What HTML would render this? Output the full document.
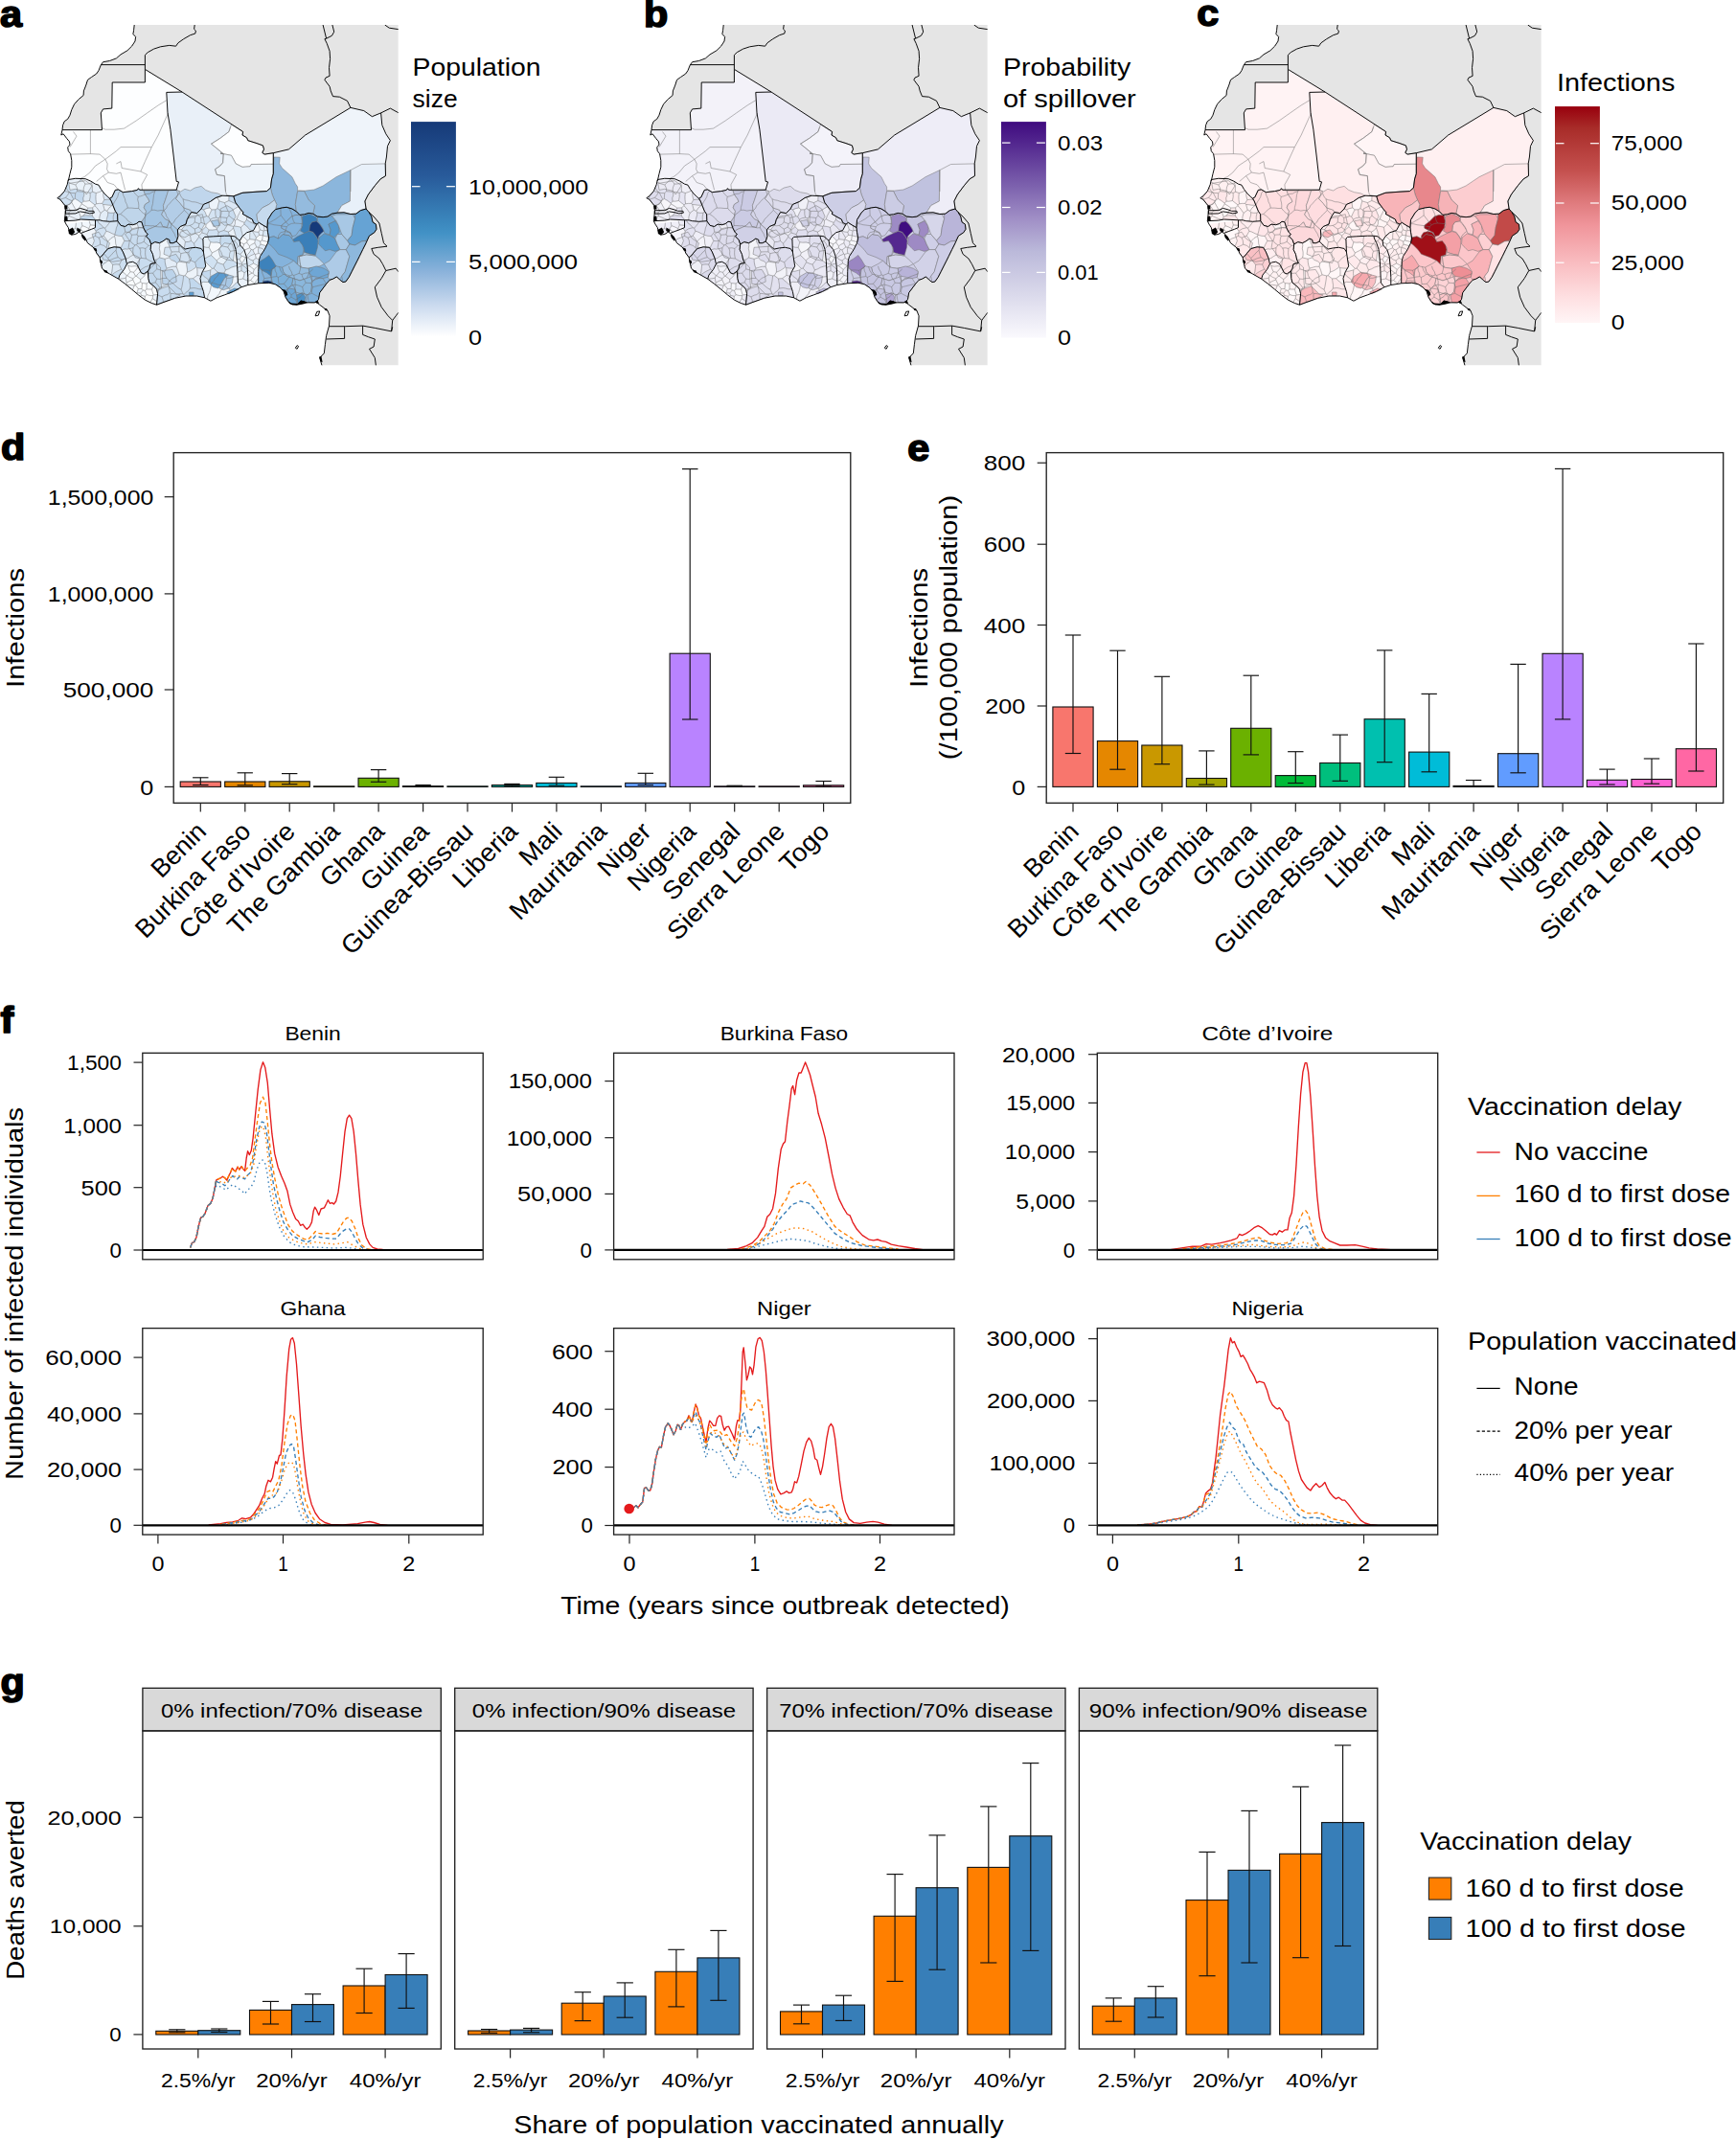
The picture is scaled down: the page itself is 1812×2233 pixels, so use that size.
<!DOCTYPE html>
<html lang="en"><head><meta charset="utf-8"><title>Figure</title>
<style>html,body{margin:0;padding:0;background:#fff}body{width:1812px;height:2233px;overflow:hidden}svg text{font-family:"Liberation Sans",sans-serif}</style>
</head><body>
<svg width="1812" height="2233" viewBox="0 0 1812 2233" font-family="&quot;Liberation Sans&quot;, sans-serif" style="display:block">
<rect width="1812" height="2233" fill="#fff"/>
<defs><clipPath id="mc"><rect x="40" y="26" width="375.8" height="355.6"/></clipPath>
<g id="mapl" fill="none" stroke-linejoin="round">
<g stroke="#707070" stroke-width="0.5">
<path d="M84.4 186.5 84.3 187.7M70.8 189.9 74.4 191.7 78.9 193.0M78.9 193.0 81.4 190.3 84.3 187.7M96.3 190.1 95.6 191.0M95.6 191.0 92.0 192.0 88.9 192.1M84.3 187.7 87.1 189.3 88.9 192.1M70.0 214.8 72.1 212.9 74.9 211.4M70.0 214.8 72.3 217.8 73.5 220.1M74.9 211.4 76.7 214.8 79.0 218.9M73.5 220.1 79.0 218.9M72.0 222.0 73.5 220.1M68.2 221.5 72.0 222.0M67.7 214.3 70.0 214.8M62.7 208.3 68.4 206.4M74.9 211.4 75.3 209.7M75.3 209.7 72.0 208.4 68.4 206.4M68.9 195.8 72.1 200.8M72.1 200.8 70.8 203.4 68.4 206.4M95.6 191.0 96.4 194.3 96.3 197.8 96.7 200.3M106.7 199.2 103.2 200.6 100.3 201.5M100.3 201.5 96.7 200.3M107.8 200.7 107.8 204.3 108.8 208.6M115.4 208.5 112.6 208.2 108.8 208.6M105.0 222.5 109.2 219.2M105.0 222.5 103.3 220.0 101.3 217.1 98.8 214.7M109.2 219.2 107.6 213.5M100.6 212.8 99.1 213.9M100.6 212.8 103.4 212.4 106.7 212.4M106.7 212.4 107.6 213.5M98.8 214.7 99.1 213.9M94.1 201.4 96.7 200.3M93.4 209.5 94.2 205.5 94.1 201.4M93.4 209.5 96.8 212.2 99.1 213.9M100.3 201.5 99.9 205.3 100.0 208.5 100.6 212.8M108.8 208.6 106.7 212.4M82.9 229.3 78.8 228.4 76.0 227.1 72.1 225.4M72.1 225.4 70.0 228.2 68.3 230.6M72.0 222.0 72.1 225.4M79.0 218.9 80.9 219.4M83.2 229.2 84.1 226.4M84.1 226.4 82.9 222.7 80.9 219.4M78.3 207.5 78.7 201.6M78.3 207.5 81.9 209.5 85.3 212.2M87.0 210.1 85.3 212.2M87.0 210.1 86.7 206.7 87.8 204.0 87.6 200.8M87.6 200.8 87.0 200.3M87.0 200.3 84.4 200.0 80.7 199.7M80.7 199.7 78.7 201.6M75.3 209.7 78.3 207.5M72.1 200.8 75.2 201.5 78.7 201.6M85.3 212.9 83.5 215.6 80.9 219.4M85.3 212.9 85.3 212.2M94.1 201.4 91.0 200.6 87.6 200.8M93.4 209.5 89.7 210.2 87.0 210.1M88.9 192.1 87.4 195.9 87.0 200.3M78.9 193.0 80.4 196.3 80.7 199.7M111.8 220.3 112.7 221.8M111.8 220.3 114.0 216.9 117.2 214.3M112.7 221.8 115.6 222.3 119.1 222.2M119.1 222.2 120.4 220.5M117.8 214.1 117.2 214.3M109.2 219.2 111.8 220.3M103.8 229.8 103.9 226.6 105.0 222.5M111.0 231.0 111.4 228.5 112.6 224.6 112.7 221.8M107.6 213.5 110.5 213.7 113.5 214.2 117.2 214.3M118.3 231.0 118.2 226.0 119.1 222.2M96.2 225.0 97.0 220.7 96.6 216.9M96.2 225.0 93.0 225.1 89.4 224.8 86.4 225.5M86.4 225.5 88.7 223.2 90.5 219.4 91.8 217.1M96.6 216.9 91.8 217.1M100.2 229.8 97.8 227.5 96.2 225.0M98.8 214.7 96.6 216.9M84.1 226.4 86.4 225.5M85.3 212.9 89.1 215.1 91.8 217.1M72.3 241.6 75.4 240.2 78.4 238.7M78.4 238.7 79.1 235.8 79.4 232.7M93.2 230.7 94.3 234.9M99.5 235.3 94.3 234.9M78.4 238.7 81.5 239.7M82.0 242.4 81.5 239.7M92.8 238.6 92.9 240.3M92.8 238.6 89.1 236.8 85.9 235.7M87.5 242.3 83.9 238.9M85.9 235.7 83.9 238.9M94.3 234.9 92.8 238.6M85.2 231.8 85.9 235.7M81.5 239.7 83.9 238.9M99.5 246.4 103.1 248.2M103.1 248.2 104.3 251.2 104.7 255.2M90.0 250.7 92.9 249.0 96.4 247.8 99.5 246.4M97.2 258.3 100.9 257.1 104.7 255.2M108.2 237.7 103.5 238.9 100.1 241.2M108.2 237.7 105.5 234.6 103.1 233.0 101.4 229.8M100.1 241.2 97.9 238.3M99.5 246.4 100.1 241.2M108.2 246.2 103.1 248.2M108.2 246.2 110.9 241.3M108.2 237.7 109.6 238.2M109.6 238.2 110.9 241.3M104.7 255.2 108.4 256.4 111.2 258.6M108.2 246.2 110.4 248.9 112.5 252.1M111.2 258.6 111.7 255.2 112.5 252.1M119.8 244.8 117.0 243.8 113.7 242.1 110.9 241.3M120.0 245.2 119.8 244.8M120.0 245.2 119.5 246.5M119.5 246.5 115.8 248.8 112.5 252.1M162.2 274.3 160.4 274.0M160.4 274.0 157.8 275.5M157.1 275.9 154.4 277.8 151.5 278.7 148.5 280.6 146.1 282.4M160.4 274.0 156.5 272.3 152.4 270.0M142.4 275.4 144.4 272.9 146.7 269.6M146.7 269.6 147.6 269.4M152.4 270.0 147.6 269.4M146.7 269.6 143.1 267.7 139.2 266.0M139.2 266.0 136.4 267.6 134.2 269.1 131.4 270.7M111.2 258.6 112.1 260.3M119.5 246.5 120.5 250.3 120.7 254.2 121.8 258.0M119.8 244.8 120.9 240.9 121.4 237.9 122.7 235.1 123.1 231.1M109.6 238.2 112.2 235.2 115.1 231.2M142.9 233.0 144.5 237.6M135.0 234.3 137.8 238.9M144.5 237.6 141.5 237.9 137.8 238.9M149.8 237.9 144.6 237.6M144.5 237.6 144.6 237.6M153.9 244.1 151.8 246.0M144.6 237.6 143.8 240.8 143.0 244.9M151.8 246.0 148.4 246.4 144.1 246.3M143.0 244.9 144.1 246.3M150.2 252.3 147.1 253.8 143.2 254.5M150.2 252.3 152.8 254.6 155.0 256.4M155.0 256.4 152.0 259.5M152.0 259.5 148.9 258.8 145.8 259.0M145.8 259.0 142.2 255.6M142.2 255.6 143.2 254.5M151.8 246.0 151.1 248.6 150.2 252.3M144.1 246.3 143.2 250.7 143.2 254.5M157.6 256.2 155.0 256.4M152.4 270.0 151.7 266.0 151.6 263.4 152.0 259.5M147.6 269.4 146.6 265.4 146.8 262.0 145.8 259.0M137.8 238.9 135.6 242.7M143.0 244.9 137.4 245.2M135.6 242.7 137.4 245.2M129.1 236.1 130.3 239.3 130.7 242.1M135.6 242.7 130.7 242.1M120.0 245.2 124.0 246.3 127.3 246.4M130.7 242.1 127.3 246.4M136.0 251.3 133.0 251.7 129.8 251.4M136.0 251.3 137.9 253.9 140.9 255.9M139.0 258.7 136.0 259.5 132.5 260.1 130.5 259.8 127.0 260.9M139.0 258.7 140.9 255.9M126.0 259.2 127.7 255.4 129.8 251.4M137.4 245.2 137.1 247.9 136.0 251.3M127.3 246.4 129.8 251.4M142.2 255.6 140.9 255.9M139.2 266.0 138.7 262.1 139.0 258.7M123.2 268.6 122.0 265.5 121.1 261.2M123.2 268.6 119.8 269.5 116.7 270.8 114.0 271.7M121.1 261.2 118.1 263.8 115.9 266.5 112.8 269.4M112.8 269.4 113.4 271.4M114.0 271.7 113.4 271.4M121.8 258.0 121.1 261.2M131.2 269.8 127.2 271.2M127.2 271.2 123.2 268.6M108.4 264.5 110.7 267.5 112.8 269.4M106.0 278.1 108.0 275.3 110.6 273.9 113.4 271.4M124.6 276.1 126.6 281.2M124.6 276.1 121.2 275.9 117.6 276.3M126.6 281.2 123.0 282.8 119.8 284.6 116.5 287.1M117.6 276.3 117.3 280.2 116.9 283.5 115.8 286.7M127.2 271.2 124.6 276.1M128.7 282.4 126.6 281.2M114.0 271.7 117.6 276.3M141.1 297.4 140.2 298.1M140.2 298.1 138.4 302.8M144.3 301.4 143.0 305.6M141.1 297.4 144.3 301.4M142.3 306.1 143.0 305.6M141.2 297.2 143.8 295.7 146.7 294.4M141.2 297.2 141.1 297.4M144.3 301.4 148.0 301.5M148.0 301.5 148.4 295.6M146.7 294.4 148.4 295.6M163.8 314.8 159.2 311.6M156.7 315.7 159.2 311.6M164.6 307.3 160.2 308.0M160.2 308.0 159.6 308.6M159.2 311.6 159.6 308.6M136.1 283.7 134.6 280.3 133.8 277.4M136.1 283.7 132.9 287.6M132.9 287.6 132.2 287.8M132.2 287.8 130.5 285.7 127.6 283.8M133.8 277.4 132.2 276.0M151.4 309.4 153.0 307.6M151.4 309.4 147.5 308.2M153.0 307.6 151.5 303.3M147.5 308.2 146.7 306.1M146.7 306.1 149.4 303.0M151.5 303.3 149.4 303.0M151.0 312.8 151.4 309.4M159.6 308.6 156.8 308.6 153.0 307.6M146.5 309.4 147.5 308.2M143.0 305.6 146.7 306.1M148.0 301.5 149.4 303.0M155.7 294.2 153.0 296.0M160.2 298.3 158.5 302.1M153.0 296.0 153.0 301.9M158.5 302.1 153.0 301.9M148.4 295.6 153.0 296.0M146.7 294.4 146.7 291.6M154.3 283.9 151.9 286.2 149.8 289.1 146.7 291.6M160.2 308.0 159.2 304.8 158.5 302.1M151.5 303.3 153.0 301.9M132.1 295.2 131.3 290.2M132.1 295.2 131.6 297.1M131.3 290.2 128.2 290.8 123.9 291.3M138.8 290.8 138.7 292.0M138.7 292.0 135.1 293.5 132.1 295.2M132.2 287.8 131.3 290.2M138.8 290.8 135.4 289.4 132.9 287.6M141.2 297.2 138.7 292.0M140.2 298.1 135.8 297.4 131.6 297.2M144.1 278.4 142.1 281.7 139.4 284.2M146.7 283.5 143.8 286.0 142.2 288.3M139.4 284.2 141.5 288.3M141.5 288.3 142.2 288.3M133.8 277.4 137.0 278.2 141.0 277.7 144.1 278.3M136.1 283.7 139.4 284.2M146.7 291.6 142.2 288.3M138.8 290.8 141.5 288.3M163.1 271.2 162.8 274.1 163.4 277.2 163.8 280.9M163.1 271.2 160.6 270.8M159.5 285.0 163.8 280.9M159.5 285.0 154.5 285.6M166.6 269.0 167.1 266.2 167.1 263.1 166.3 259.3 166.8 256.3 166.5 253.7M166.6 269.0 163.1 271.2M212.8 265.4 210.6 267.5 208.2 269.2 205.5 271.8 203.7 273.9M200.1 258.8 196.9 263.3M196.9 263.3 197.1 267.5 198.4 271.6M203.7 273.9 198.4 271.6M187.4 255.2 186.8 258.8 187.0 262.9M173.9 249.1 174.8 252.7 176.4 255.7 177.6 259.6 179.2 263.0M187.0 262.9 183.6 262.8 179.2 263.0M196.9 263.3 192.5 263.8 188.9 264.7M187.0 262.9 188.9 264.7M198.4 271.6 194.6 274.1M194.6 274.1 190.5 273.7 187.0 273.1M188.9 264.7 188.3 268.9 187.0 273.1M178.4 312.8 177.9 309.3 178.1 306.3M192.4 309.3 192.0 307.7M192.0 307.7 191.0 306.9M191.0 306.9 187.6 306.7 184.4 307.2 181.4 306.6 178.1 306.3M191.6 287.9 191.2 291.7 190.7 294.9 189.9 299.3 189.1 302.3M187.0 286.8 191.6 287.9M187.0 286.8 183.3 289.0 180.2 290.4 177.1 293.1M189.1 302.3 186.1 300.7 183.8 298.8 181.4 296.6 178.9 294.9 177.1 293.1M170.9 315.4 169.0 309.9M169.0 309.9 172.2 308.2 174.7 307.6 177.4 305.6M178.1 306.3 177.4 305.6M169.0 309.9 164.5 307.8M192.0 307.7 193.9 305.4 196.5 303.6 198.4 301.0M211.6 301.8 207.9 301.8 204.5 300.9 202.3 300.6 198.4 301.0M195.4 284.1 199.0 282.7 201.9 280.9 204.8 278.8M195.4 284.1 193.2 287.7M193.2 287.7 197.5 290.9M197.5 290.9 201.5 290.7M201.5 290.7 205.9 287.4M205.9 287.4 206.0 283.2 205.7 279.6M205.7 279.6 204.8 278.8M203.7 273.9 204.8 278.8M194.6 274.1 194.8 277.1 195.5 281.1 195.4 284.1M198.4 301.0 198.5 297.3 197.9 293.9 197.5 290.9M191.0 306.9 189.1 302.3M191.6 287.9 193.2 287.7M210.6 298.9 208.7 297.2 206.7 295.1 204.0 293.1 201.5 290.7M209.7 288.4 205.9 287.4M213.4 280.2 209.1 280.0 205.7 279.6M172.1 270.3 172.2 273.4 172.9 277.4 174.0 280.1M172.1 270.3 176.7 268.9M176.7 268.9 178.7 271.4 182.5 272.7 184.6 274.8M174.0 280.1 177.8 279.0 180.3 278.3 184.1 278.3M184.1 278.3 184.6 274.8M171.7 283.9 167.2 281.8 163.8 280.9M166.6 269.0 172.1 270.3M171.7 283.9 174.0 280.1M179.2 263.0 178.3 265.4 176.7 268.9M187.0 273.1 184.6 274.8M187.0 286.8 185.6 282.2 184.1 278.3M174.1 290.4 170.1 290.5 166.7 291.4 163.6 291.1M174.1 290.4 176.7 293.1M176.7 293.1 175.2 296.7M175.2 296.7 172.2 298.0 169.6 299.2 166.7 300.3M166.7 300.3 164.5 297.3 162.3 294.8M163.6 291.1 162.3 294.8M171.7 283.9 172.4 287.6 174.1 290.4M159.5 285.0 161.2 288.0 163.6 291.1M177.1 293.1 176.7 293.1M177.4 305.6 177.0 302.7 176.4 300.0 175.2 296.7M164.1 304.7 166.7 300.3M157.1 296.1 162.3 294.8M219.8 252.8 222.8 253.2 226.4 252.9 229.9 253.9M216.8 247.2 217.7 249.7 219.8 252.8M230.7 246.4 230.0 250.4 229.9 253.9M220.6 295.5 220.3 298.8 219.4 302.8 218.6 305.4 216.9 308.6 216.4 312.3M220.7 295.5 220.6 295.5M220.7 295.5 223.7 295.8 227.7 297.3 231.4 297.4 234.4 298.1M234.4 298.1 232.6 301.2 230.0 303.7 229.0 306.6 226.9 308.9 224.7 311.6M211.4 283.6 215.2 283.1 219.8 281.9M210.7 285.6 213.2 288.8 216.7 291.1 218.9 294.1M219.8 281.9 219.5 285.5 219.8 287.7 218.9 290.7 219.2 294.2M218.9 294.1 219.2 294.2M223.1 280.1 221.3 280.3M221.3 280.3 219.8 281.9M228.6 285.3 227.1 288.2 224.2 290.8 223.2 293.1 220.7 295.5M220.6 295.5 219.2 294.2M228.6 285.3 225.6 282.7 223.1 280.1M209.8 295.2 212.4 294.3 216.4 294.6 218.9 294.1M218.2 258.3 219.8 261.6 221.4 263.9M218.2 258.3 215.1 258.3 212.2 257.5M213.5 270.1 217.3 267.9 220.4 266.5M221.4 263.9 220.4 266.5M219.8 252.8 218.2 258.3M221.3 280.3 218.5 277.4 216.0 275.0 213.8 272.2M248.1 288.6 244.0 289.1 240.0 290.3 236.6 290.3M248.4 294.0 245.2 296.4 242.5 299.4 239.4 301.4M236.6 290.3 235.8 294.6 235.3 297.9M239.4 301.4 235.3 297.9M235.5 281.9 238.5 280.8 241.6 279.1 244.5 278.2 247.5 277.5M234.0 285.1 236.6 290.3M234.0 285.1 235.5 281.9M241.2 305.3 239.4 301.4M234.4 298.1 235.3 297.9M228.6 285.3 234.0 285.1M242.8 251.6 239.6 255.2 237.7 258.1M229.9 253.9 231.0 256.7M231.0 256.7 233.9 257.3 237.7 258.1M221.4 263.9 225.4 261.9 228.9 259.8M231.0 256.7 228.9 259.8M246.2 261.4 240.5 262.3M237.7 258.1 240.5 262.3M247.4 275.0 244.6 272.9 242.2 271.1 239.5 268.6M240.5 262.3 239.5 265.5 239.5 268.6M232.2 267.3 237.8 269.1M232.2 267.3 228.9 269.4 226.2 272.0M237.8 269.1 235.8 272.6 233.1 276.1M233.1 276.1 230.0 275.2 226.7 273.7M226.7 273.7 226.2 272.0M228.9 259.8 231.0 263.5 232.2 267.3M239.5 268.6 237.8 269.1M220.4 266.5 223.5 269.3 226.2 272.0M235.5 281.9 234.3 279.2 233.1 276.1M223.1 280.1 224.8 276.9 226.7 273.7M258.8 293.4 253.6 291.0M253.6 291.0 248.3 292.0M251.9 277.5 252.1 282.7M251.9 277.5 252.5 276.6M252.5 276.6 255.8 278.8 258.4 281.4M252.1 282.7 255.1 284.7M258.5 282.4 255.1 284.7M247.9 284.1 252.1 282.7M247.7 279.6 251.9 277.5M257.9 275.0 252.5 276.3M252.5 276.3 252.5 276.6M253.6 291.0 254.7 287.5 255.1 284.7M252.3 276.0 252.5 276.3M252.3 276.0 247.4 274.6M243.1 252.2 245.1 251.7M245.1 251.7 247.1 248.7M256.4 268.7 254.2 272.3 252.4 274.8M256.4 268.7 252.2 267.3M252.2 267.3 250.1 270.7M252.4 274.8 250.1 270.7M257.2 268.6 256.4 268.7M252.3 276.0 252.4 274.8M247.1 270.8 250.1 270.7M251.1 256.4 248.6 257.4M254.9 261.1 250.9 265.4M248.6 257.4 245.9 259.9M250.9 265.4 246.4 263.8M245.1 251.7 247.3 254.4 248.6 257.4M252.2 267.3 250.9 265.4M254.7 254.7 257.7 253.1M254.7 254.7 250.4 253.1M253.4 246.5 255.6 248.5 258.2 251.0M258.2 251.0 257.7 253.1M261.1 241.7 260.7 245.5 260.7 249.7M260.7 249.7 258.2 251.0M279.3 240.7 276.0 240.5M275.5 235.6 276.0 240.5M257.2 268.3 258.4 265.7 260.9 263.0 262.1 260.3M255.0 261.2 257.2 260.2 260.6 258.8M262.1 260.3 260.6 258.8M254.7 254.7 253.4 259.1M260.4 256.9 257.7 253.1M260.4 256.9 260.6 258.8M260.7 249.7 266.3 250.4M260.4 256.9 262.6 255.3 265.9 253.7M265.9 253.7 266.3 250.4M265.8 296.4 265.6 295.8M265.6 295.8 261.6 292.6M258.8 293.2 261.6 292.6M268.8 233.6 270.5 236.9 271.3 239.8M276.0 240.5 275.1 241.0M275.1 241.0 271.3 239.8M263.4 241.2 267.1 242.1 269.9 242.3M263.1 241.0 263.4 241.2M271.3 239.8 269.9 242.3M269.9 242.3 270.6 245.5M263.4 241.2 265.2 244.2 267.5 248.0M267.5 248.0 270.6 245.5M266.3 250.4 266.9 249.9M267.5 248.0 266.9 249.9M275.1 241.0 274.3 245.8M270.6 245.5 274.3 245.8M280.4 247.2 277.3 246.7 274.4 245.8M274.4 245.8 274.3 245.8M262.1 260.3 263.9 260.9M265.9 253.7 267.9 258.0M263.9 260.9 267.9 258.0M257.2 268.9 258.5 269.0M258.5 269.0 261.8 266.8 265.7 265.1M263.9 260.9 265.7 265.1M279.8 252.9 276.9 251.8 273.5 251.0M278.0 256.8 275.1 255.9 272.0 255.0M272.0 255.0 271.7 252.0M273.5 251.0 271.7 252.0M274.4 245.8 273.5 251.0M267.9 258.0 269.7 258.3M269.7 258.3 272.0 255.0M266.9 249.9 271.7 252.0M265.6 295.8 268.2 292.4 269.7 290.1M261.6 292.6 263.3 290.3 265.8 287.4M269.7 288.4 265.8 287.4M272.9 265.5 269.8 264.5M275.9 261.0 273.1 259.2 269.9 258.5M269.8 264.5 269.4 261.1 269.9 258.5M269.7 258.3 269.9 258.5M265.7 265.1 266.4 265.5M266.4 265.5 269.8 264.5M270.1 277.4 269.3 277.5M270.5 271.3 267.2 269.4M269.3 277.5 264.6 274.9M267.2 269.4 264.0 272.0M264.6 274.9 264.0 272.0M266.4 265.5 267.2 269.4M258.5 269.0 261.3 271.0 264.0 272.0M263.0 285.1 264.1 285.2M263.0 285.1 258.4 281.6M264.1 285.2 265.2 281.3M265.2 281.3 262.3 279.0 260.0 277.5M258.2 277.6 260.0 277.5M258.7 287.5 263.0 285.1M265.8 287.4 264.1 285.2M269.3 277.5 265.2 281.3M264.6 274.9 260.0 277.5M203.5 258.4 202.5 254.1M192.3 259.5 192.7 256.6 193.4 252.6M193.4 252.6 196.8 252.4 199.5 251.5M202.5 254.1 199.5 251.5M257.4 229.4 255.2 232.4M257.4 229.4 257.9 226.0M255.2 232.4 251.0 230.8 247.3 228.8M247.3 228.8 248.3 225.5 250.0 222.3 251.6 219.0M267.3 235.4 263.8 233.0 260.7 231.6 257.4 229.4M262.9 241.0 260.3 239.3 257.6 236.0 254.8 234.1M254.8 234.1 255.2 232.4M206.1 224.4 203.7 227.1M205.8 222.4 206.1 224.4M203.7 227.1 200.1 227.0 196.3 227.4M193.4 252.6 192.0 249.9 189.5 248.2 188.1 245.7 185.7 243.3M198.5 245.9 199.5 251.5M198.5 245.9 195.3 244.4 192.7 242.8 189.6 240.1 186.3 238.8M207.2 237.1 208.0 233.6M207.2 237.1 203.3 239.1M208.0 233.6 203.2 231.8M203.2 231.8 201.3 234.1 198.2 235.4M203.3 239.1 200.7 237.4 198.2 235.4M206.1 224.4 209.7 227.1M209.7 227.1 210.0 232.3M210.0 232.3 208.0 233.6M203.7 227.1 203.2 231.8M191.6 235.1 195.3 235.8 198.2 235.4M198.5 245.9 203.9 243.6M203.9 243.6 203.3 239.1M212.4 218.9 214.3 221.8 215.7 225.6M212.4 218.9 215.1 217.7 218.8 216.9M218.8 216.9 221.1 218.9M221.1 218.9 219.3 222.4 217.6 226.2M215.7 225.6 217.6 226.2M210.1 218.1 212.4 218.9M209.7 227.1 213.0 226.7 215.7 225.6M217.9 211.1 218.8 216.9M226.7 206.0 228.8 209.9M228.8 209.9 227.7 214.0 226.9 217.6M224.8 218.8 226.9 217.6M224.8 218.8 221.1 218.9M225.6 227.1 224.8 223.5 224.8 218.8M225.6 227.1 222.2 227.7 219.5 229.2M219.5 229.2 217.6 226.2M254.8 234.1 251.5 237.3M251.5 237.3 251.9 240.8 252.8 243.8 253.2 246.7M251.5 237.3 248.3 236.5 244.4 236.0M247.3 228.8 245.4 230.0M245.4 230.0 245.4 233.6 244.4 236.0M202.5 254.1 205.2 251.0 207.7 247.3M211.9 250.7 207.7 247.3M203.9 243.6 207.6 245.8M207.6 245.8 207.7 247.3M210.0 232.3 215.0 234.3M219.5 229.2 219.3 230.6M215.0 234.3 219.3 230.6M239.1 221.0 238.2 220.5M239.1 221.0 242.8 219.4 245.3 217.7 249.0 215.7M238.2 220.5 236.9 218.0 235.3 214.0 234.4 211.6M247.7 213.9 244.3 212.0 241.6 210.6 238.8 209.5M238.8 209.5 234.4 211.6M245.4 230.0 241.9 227.6 238.9 225.1M238.9 225.1 239.1 221.0M231.1 220.5 234.2 220.4 238.2 220.5M231.1 220.5 226.9 217.6M228.8 209.9 234.4 211.6M239.0 204.5 238.8 209.5M246.8 248.4 245.5 244.3 244.8 241.4 243.5 237.9M244.4 236.0 243.8 236.4M243.5 237.9 243.8 236.4M239.5 246.2 238.4 242.1M243.5 237.9 241.3 240.5 238.4 242.1M211.0 240.2 214.9 236.7M211.0 240.2 210.8 243.0M210.8 243.0 216.1 244.7M216.1 244.7 218.2 240.0M214.9 236.7 218.2 240.0M215.0 234.3 214.9 236.7M207.2 237.1 211.0 240.2M207.6 245.8 210.8 243.0M217.4 247.2 216.1 244.7M243.8 236.4 240.1 235.6 237.5 234.2M238.4 242.1 233.7 240.5M233.7 240.5 235.6 237.8 237.5 234.2M227.7 246.6 228.0 242.4M233.7 240.5 228.0 242.4M218.2 240.0 221.8 240.1 226.4 239.5M228.0 242.4 226.4 239.5M219.3 230.6 221.6 232.8 224.0 236.4 226.4 238.6M226.4 238.6 226.4 239.5M236.9 227.5 236.1 232.0M236.9 227.5 232.8 227.0 229.6 226.7M236.1 232.0 232.3 232.0 229.5 233.2M229.5 233.2 228.0 227.9M228.0 227.9 229.6 226.7M238.9 225.1 236.9 227.5M237.5 234.2 236.1 232.0M231.1 220.5 230.8 223.6 229.6 226.7M226.4 238.6 228.0 236.4 229.5 233.2M225.6 227.1 228.0 227.9M151.1 235.5 149.7 237.7M151.1 235.5 153.8 235.5 157.5 235.8 160.0 235.7 162.8 236.6 166.0 236.9 169.2 236.9 172.9 237.2 175.5 237.9 178.4 237.7M178.4 237.7 179.7 240.3 182.2 244.1 183.0 246.4 185.0 249.7M139.5 234.5 137.0 232.8 133.6 230.6 131.7 228.0 128.3 225.2 125.6 223.5M122.6 224.1 125.6 223.5M161.7 199.7 160.5 203.6 160.2 206.5 159.7 210.0 159.5 212.6 158.4 216.4 158.2 219.4M158.2 219.4 161.0 219.2 164.8 220.1 168.1 219.5 171.2 219.9M186.9 199.5 187.2 201.2M162.7 198.2 161.7 199.7M171.2 219.9 173.7 217.2 174.6 214.9 177.2 212.3 178.8 210.4 181.3 207.8 183.0 206.4 185.7 203.8 187.2 201.2M152.2 224.3 155.4 221.9 158.2 219.4M151.1 235.5 151.1 231.2 151.3 228.5 152.2 224.3M178.4 237.7 178.9 234.1M171.2 219.9 173.0 223.2 173.7 225.7 175.8 228.7 177.2 231.8 178.9 234.1M144.1 205.4 143.7 208.5 144.6 211.9 144.8 214.7 144.7 217.5M144.1 205.4 141.7 202.9 138.7 199.4M127.8 200.4 128.7 203.9 130.4 207.5 131.0 210.7 132.6 213.8 133.3 217.1M133.3 217.1 137.2 217.1 141.0 217.5 144.7 217.5M161.7 199.7 158.2 200.9 156.4 202.1 153.1 202.4 150.2 203.6 146.9 204.8 144.1 205.4M152.2 224.3 149.2 222.3 146.6 219.9 144.7 217.5M117.9 214.2 119.4 210.9 121.2 208.2 122.7 205.6 123.8 201.5 125.7 199.1M125.6 223.5 127.9 221.6 130.4 218.8 133.3 217.1M191.0 207.8 191.9 211.8 191.8 216.0 192.3 219.4M191.0 207.8 193.8 208.8 196.7 209.3 200.5 210.7 203.7 210.9 206.4 211.6 208.9 212.7 212.4 213.5M192.3 219.4 195.4 222.5 197.6 224.7M178.9 234.1 181.4 232.2 183.1 228.8 185.6 226.5 187.5 224.2 190.2 221.8 192.3 219.4M187.2 201.2 188.8 204.9 191.0 207.8M270.0 279.4 273.2 281.9M274.3 295.5 275.8 290.6M275.8 290.6 275.0 288.1 273.7 284.8 273.2 281.9M313.7 277.3 313.3 281.7 312.1 285.4M301.5 277.8 302.4 280.9 304.3 283.8 305.2 287.0M305.2 287.0 306.7 287.5M306.7 287.5 312.1 285.4M306.7 287.5 307.4 290.8 308.2 293.8 308.1 296.9M305.2 287.0 302.6 287.9M296.4 296.3 298.7 293.4 300.8 290.5 302.6 287.9M296.4 296.3 298.3 298.5 300.3 301.1M300.3 301.1 303.9 298.5 308.1 296.9M300.3 301.1 300.1 302.9M296.4 304.9 300.1 302.9M296.4 296.3 291.1 296.6M289.5 298.2 291.1 296.6M275.8 290.6 279.1 290.2 283.1 289.6M283.7 296.0 283.1 292.2 283.1 289.6M281.5 282.3 277.7 281.9 273.2 281.9M281.5 282.3 282.9 286.0 283.2 289.4M283.1 289.6 283.2 289.4M286.8 279.2 287.3 282.8 288.6 285.2 288.8 288.6M286.8 279.2 288.0 277.5M291.5 278.4 293.0 282.6 295.5 286.4M295.5 286.4 293.3 288.1 290.3 289.5M288.8 288.6 290.3 289.5M283.2 289.4 288.8 288.6M281.5 282.3 284.5 280.7 286.8 279.2M302.6 287.9 299.2 286.9 295.5 286.4M291.1 296.6 290.6 292.9 290.3 289.5M343.6 285.7 340.5 286.8 338.1 287.7 334.4 289.1 332.4 290.6 328.3 292.2 325.9 293.1M326.7 281.0 322.3 284.8M322.3 284.8 323.9 288.0 324.5 290.6 325.9 293.1M312.1 285.4 315.0 286.5M322.3 284.8 318.4 285.2 315.0 286.5M316.0 307.2 314.0 309.5 310.9 311.5 308.8 312.9M316.0 307.2 311.4 305.8 308.1 304.8M308.1 304.8 304.1 307.9M308.8 312.9 303.9 310.1M303.9 310.1 304.1 307.9M300.1 302.9 301.5 305.0 304.1 307.9M308.1 296.9 308.3 297.1M308.3 297.1 307.8 301.2 308.1 304.8M299.9 313.3 303.9 310.1M310.3 317.7 308.8 312.9M324.4 295.6 319.1 295.2M324.4 295.6 326.5 299.7M319.1 295.2 315.7 299.6M326.5 299.7 325.7 302.6 325.5 306.2M315.7 299.6 316.3 303.0 317.6 306.8M325.5 306.2 323.0 307.2 319.6 308.0M319.6 308.0 317.6 306.8M315.0 286.5 315.9 289.6 317.8 292.2 319.1 295.2M325.9 293.1 324.4 295.6M341.0 295.9 337.4 297.0 334.1 297.8 330.3 298.7 326.5 299.7M308.3 297.1 312.1 298.2 315.7 299.6M332.9 310.0 329.1 308.1 325.5 306.2M316.0 307.2 317.6 306.8M319.3 315.5 319.8 311.5 319.6 308.0M279.6 233.0 282.7 231.7 285.5 230.0 288.3 228.4 290.2 226.9 293.2 224.8M293.2 224.8 293.0 221.3 292.9 217.3M315.7 233.7 311.7 233.3 307.6 233.0M296.6 244.8 297.9 240.7 299.4 236.7M307.6 233.0 304.3 233.4 301.4 234.7M299.4 236.7 301.4 234.7M301.7 217.1 303.3 220.6 304.7 223.7 305.3 226.9 306.0 230.0 307.6 233.0M279.7 233.6 282.9 233.8 285.9 234.7 289.2 235.1 293.0 235.6 295.7 236.2 299.4 236.7M293.2 224.8 294.9 227.0 296.9 229.6 298.8 232.4 301.4 234.7M106.5 133.5 109.9 135.2 119.1 135.2 129.5 134.1 142.2 126.0 153.7 117.9 165.2 109.9 173.8 104.7M175.6 117.9 165.2 141.0 158.3 153.6 151.4 168.6 146.8 179.0 153.7 182.4 147.9 192.8 148.5 198.3M94.4 135.8 94.4 160.6M73.6 161.1 94.4 160.6 104.1 161.1 109.9 166.3 112.2 170.9 111.6 176.7 113.4 180.1M158.3 153.6 126.0 153.6 121.4 157.7 109.9 166.3 99.5 173.2 93.8 180.1 88.0 184.7 84.6 185.9M76.5 137.5 80.0 142.1 73.0 153.6M113.4 180.1 121.4 181.3 126.0 180.1 128.3 189.4 130.6 198.3M121.4 170.9 126.0 168.6 127.2 175.5 146.8 179.0M113.4 180.1 107.6 183.6 100.7 189.4M107.6 183.6 112.2 190.5 119.1 192.8 123.7 198.3M240.7 132.3 238.9 137.5 229.7 144.4 220.5 150.2 233.2 160.6 232.6 169.8 229.7 173.2 224.5 176.7 226.3 182.4 234.3 183.6 235.5 200.0M365.9 177.6 365.9 200.0"/>
</g>
<g stroke="#000" stroke-width="0.95">
<path d="M140.2 26.0 139.6 31.5 138.9 35.6 141.6 38.4 141.0 43.0 137.6 48.2 132.9 52.8 126.0 56.9 121.4 60.9 114.5 63.5 107.6 64.7 105.3 67.8 103.0 73.6 100.7 77.0 95.5 80.5 91.5 83.4 89.7 89.1 87.4 94.9 87.1 99.5 82.3 103.5 77.6 108.7 74.8 114.5 73.0 120.2 70.7 124.3 67.3 126.6 65.6 130.6 65.0 135.6M65.0 135.6 106.5 135.6 105.3 117.9 107.6 113.9 116.8 113.1 117.2 86.0 151.4 86.0 151.4 72.4M65.0 135.6 63.8 141.0 66.1 139.8 69.6 144.4 72.5 147.9 73.0 151.3 70.7 153.6 71.3 157.7 73.6 160.6 74.8 167.5 74.8 174.4 73.0 181.3 71.3 188.8M71.3 187.5 78.8 186.3 89.2 186.7 94.9 189.2 99.5 192.1 103.0 193.2 105.3 197.3 108.8 201.9 112.2 205.3 114.5 207.1M114.5 207.1 116.8 205.9 120.3 198.4 123.7 197.9 128.3 200.7 137.6 199.6 143.3 198.4 144.5 196.7 145.6 198.2 184.2 198.2 186.5 189.9 184.2 189.4 181.3 164.0 177.9 135.2 175.0 117.9 173.8 96.4 190.0 96.0M190.0 96.0 230.0 122.0 253.6 137.5 253.0 141.0 257.6 143.8 258.8 146.7 268.0 149.6 274.4 151.9 275.5 155.9 273.8 159.4 276.1 161.1 285.3 159.7M114.5 207.1 116.2 210.0 118.0 214.6 120.3 220.3 122.6 223.8 122.8 230.7M122.8 230.7 126.0 235.3 130.6 236.5 134.1 234.1 138.7 234.7 142.2 233.6 145.0 231.3 147.9 231.8 149.7 237.6 152.0 242.2 154.3 244.5 152.5 246.8 156.0 250.3 157.7 254.9M157.7 254.9 161.8 252.6 166.4 253.7 169.8 252.0 173.8 249.1 176.7 250.3 177.3 253.7 180.8 253.7 184.2 252.0M184.2 252.0 185.9 246.8 185.4 239.9 188.2 236.5 194.0 234.1 195.2 229.5 197.5 224.9 199.8 221.5 205.5 222.6 210.1 218.0 212.4 213.4 219.4 210.5 225.1 206.5 232.0 204.2 243.8 204.8M243.8 204.8 253.0 201.3 268.0 200.2 278.4 199.6 282.4 196.1 283.6 186.9 285.3 181.3 285.3 159.7M285.3 159.7 301.4 155.9 318.7 141.0 365.9 112.4M365.9 112.4 379.8 115.6 388.4 121.7 397.6 117.9M397.6 117.9 398.8 130.6 402.8 139.8 407.4 146.7 404.5 152.5 403.4 164.0 402.2 170.9 402.5 183.6 397.1 186.9 391.3 193.8 384.4 203.0 380.9 210.0 382.1 218.0M382.1 218.0 376.3 219.7 371.7 223.2 365.9 223.5 359.0 221.8 352.1 222.1 346.4 223.2 341.8 226.1 337.1 226.7 331.4 226.1 326.8 223.2 322.2 222.4 317.6 223.8 312.9 224.4 309.5 220.9 304.9 218.0 299.1 216.3 294.5 216.9 287.6 218.6 284.1 222.1 279.5 229.5 279.0 237.6M279.0 237.6 274.9 235.3 270.3 232.4 268.0 234.1M268.0 234.1 264.6 232.4 263.4 229.0 260.0 227.2 253.0 223.2 254.2 222.1 250.7 218.0 245.6 211.1 243.8 204.8M382.1 218.0 385.0 221.5 387.8 226.1 389.0 231.8 392.4 234.1 393.0 239.3 390.7 242.8 385.5 246.2 382.1 253.7 378.6 260.6 375.2 267.6 372.9 272.2 370.0 277.9 367.1 283.7 364.2 289.4 360.8 294.1 357.9 294.6 354.4 291.8 351.5 288.9 347.5 291.2 344.1 292.3 340.6 296.4 337.1 301.0 333.7 305.6 332.5 312.5 330.2 315.4M330.2 315.4 327.9 315.9 321.0 315.9 314.1 314.2 310.6 317.7 304.9 317.7 300.9 314.8 298.0 310.2 296.2 304.4 292.8 300.4 287.6 296.9 280.7 295.2 269.7 295.8M269.7 295.8 269.7 283.7 270.3 272.2 271.5 267.6 276.1 260.6 279.5 253.7 280.7 249.1 279.5 242.2 279.0 237.6M330.2 315.4 333.7 318.2 338.3 321.7 341.8 324.0 344.1 329.8 343.5 340.1 340.6 350.5 339.4 359.7 338.3 368.9 333.7 373.5 336.0 381.6M250.2 251.4 250.7 256.0 254.8 260.6 257.1 267.6 258.2 277.9 258.8 289.4 258.8 297.5M240.9 246.2 241.5 249.1 243.8 253.7 246.1 260.6 247.3 272.2 247.9 283.7 248.4 295.2 251.9 299.8M268.0 234.1 264.6 240.5 257.6 242.8 253.0 246.8 250.2 251.4M250.2 251.4 245.0 246.8 240.9 246.2M212.4 262.9 211.9 249.1 213.6 247.4 222.8 246.8 234.3 246.2 240.9 246.2M184.2 252.0 188.2 256.0 192.9 260.1 198.6 258.9 204.4 258.3 210.1 259.5 212.4 262.9M212.4 262.9 213.6 271.0 214.7 277.9 211.3 283.7 209.0 290.6 210.1 297.5 212.4 304.4 213.6 310.8M213.6 310.8 219.9 314.2 226.3 310.8 234.3 307.9 243.5 304.4 251.9 299.8M163.5 318.2 171.0 315.4 182.5 311.3 194.0 309.0 205.5 309.0 213.6 310.8M154.3 283.1 154.8 290.6 156.0 295.2 160.6 298.7 163.5 302.1 164.6 306.7 163.5 318.2M157.7 254.9 157.1 260.6 159.4 265.3 160.6 271.0 162.3 274.5 157.1 275.6 156.0 280.2 154.3 283.1M154.3 283.1 150.2 286.0 147.4 284.8 144.5 279.1 142.7 275.6 138.7 273.3 134.7 273.9 132.4 275.6M132.4 275.6 131.2 269.9 128.3 262.9 125.5 258.3 119.1 257.8 112.8 259.5 108.8 264.1 106.5 267.0 104.1 268.7M132.4 275.6 129.5 281.4 124.9 287.1 123.7 291.2M123.7 291.2 130.6 296.4 137.6 302.1 144.5 307.9 151.4 313.1 158.3 316.5 163.5 318.2M104.1 268.7 105.3 274.5 106.5 280.2 109.9 283.1 114.5 286.0 123.7 291.2M84.6 243.4 85.7 244.5 89.2 249.1 91.5 253.7 96.1 257.2 99.5 260.6 100.7 264.1 104.1 268.7M99.5 229.8 99.5 237.6 95.5 239.3 89.2 241.6 84.6 243.4M67.3 230.7 69.0 234.1 71.3 237.6 72.5 242.2 74.8 245.1 78.8 244.5 82.3 242.2 84.6 243.4M99.5 229.8 84.6 229.0 78.8 230.1 67.3 230.7M122.8 230.7 114.5 231.3 107.6 230.7 104.1 229.8 99.5 229.8M67.3 230.7 67.9 226.1 68.4 219.2 67.9 214.6 66.1 212.3 62.7 208.2 59.8 206.7 62.7 204.8 67.3 199.6 70.2 192.7 71.3 187.5M251.9 299.8 258.8 297.5M258.8 297.5 269.7 295.8M68.4 219.7 78.8 219.7 83.4 217.4 88.0 218.6 92.6 220.3 97.8 220.3 98.4 222.1 93.8 222.9 88.0 221.5 83.4 220.9 78.8 222.9 68.4 223.2 68.4 219.7M151.4 72.4 190.0 96.0M203.2 26.0 202.6 30.4 204.4 32.1 203.8 35.0 198.6 36.7 191.7 40.7 185.9 44.8 183.6 48.2 176.7 47.4 167.5 48.8 160.6 51.1 154.3 54.6 151.4 57.4 151.4 72.4M105.3 67.6 151.4 67.6M365.9 112.4 362.5 105.3 354.4 101.2 347.5 100.6 345.2 94.9 344.1 90.3 338.9 83.4 340.0 81.1 344.1 79.3 343.5 70.7 344.6 61.5 344.1 53.4 341.2 45.3 338.9 40.7 340.6 40.2 337.1 26.0M340.6 40.2 346.4 37.3 348.7 33.2 346.9 26.0M397.6 117.9 407.4 113.1 415.8 117.7M401.7 26.0 406.3 29.2 415.8 30.6M385.0 221.5 390.1 226.1 395.9 233.0 398.2 243.4 400.5 253.7 404.0 257.2 394.7 258.3 387.8 259.5 390.1 265.3 395.9 269.9 399.4 275.6 402.8 282.5 413.2 280.2 415.8 283.7M402.8 282.5 398.2 290.6 391.3 299.8 393.6 310.2 398.2 320.6 405.1 329.8 409.7 334.4 408.6 345.9M415.8 326.3 413.2 329.8 409.7 334.4M343.5 340.7 360.2 340.7 378.6 340.1 391.3 342.4 408.6 345.9 409.7 341.3M359.6 341.1 359.6 353.4 340.6 354.0M378.6 340.1 378.6 349.4 384.4 351.7 391.3 354.0 390.1 362.0 385.5 364.3 391.3 373.5 392.4 381.6M329.1 329.8 330.8 325.4 333.7 324.9 332.3 329.2 329.1 329.8M308.3 363.2 310.1 360.6 311.6 361.5 310.1 364.3 308.3 363.2"/>
</g>
<g fill="#000" stroke="none">
<polygon points="296.2,304.4 294.5,302.1 297.4,302.4 299.7,305.0 300.3,307.9 298.5,309.0"/>
<polygon points="300.9,314.8 303.7,316.5 310.6,317.1 314.1,313.6 317.6,314.2 321.0,316.2 315.3,317.7 309.5,318.8 304.9,318.2 302.0,317.1"/>
<polygon points="329.1,314.8 331.4,313.6 333.1,316.5 330.8,317.1"/>
<polygon points="338.3,321.7 341.2,322.3 341.8,324.6 339.4,324.0"/>
<polygon points="333.1,372.4 335.4,371.8 336.6,378.2 334.8,377.6"/>
<polygon points="71.3,239.9 75.9,237.6 78.2,242.2 74.8,245.7 71.9,243.9"/>
<polygon points="80.5,237.6 84.6,239.9 83.4,242.8 80.2,241.1"/>
<polygon points="84.6,244.5 88.0,246.2 90.3,250.3 88.6,251.4 85.7,248.0"/>
<polygon points="67.3,214.6 70.2,214.6 70.5,218.6 67.5,218.6"/>
<polygon points="67.5,226.1 70.2,225.5 70.7,230.7 67.9,231.3"/>
<polygon points="104.1,271.0 106.7,272.2 107.1,275.0 104.8,274.7"/>
<polygon points="107.6,281.4 111.6,282.5 112.8,285.4 109.3,284.3"/>
<polygon points="97.2,258.3 100.7,259.5 101.3,262.4 98.4,261.2"/>
</g>
</g>
</defs>
<g transform="translate(0,0)" clip-path="url(#mc)">
<polygon points="140.2,26.0 139.6,31.5 138.9,35.6 141.6,38.4 141.0,43.0 137.6,48.2 132.9,52.8 126.0,56.9 121.4,60.9 114.5,63.5 107.6,64.7 105.3,67.8 103.0,73.6 100.7,77.0 95.5,80.5 91.5,83.4 89.7,89.1 87.4,94.9 87.1,99.5 82.3,103.5 77.6,108.7 74.8,114.5 73.0,120.2 70.7,124.3 67.3,126.6 65.6,130.6 65.0,135.6 120.0,170.0 300.0,250.0 330.2,315.4 333.7,318.2 338.3,321.7 341.8,324.0 344.1,329.8 343.5,340.1 340.6,350.5 339.4,359.7 338.3,368.9 333.7,373.5 336.0,381.6 415.8,381.6 415.8,26.0" fill="#e5e5e5" stroke="none" stroke-width="0.5"/>
<polygon points="65.0,135.6 63.8,141.0 66.1,139.8 69.6,144.4 72.5,147.9 73.0,151.3 70.7,153.6 71.3,157.7 73.6,160.6 74.8,167.5 74.8,174.4 73.0,181.3 71.3,188.8 78.8,186.3 89.2,186.7 94.9,189.2 99.5,192.1 103.0,193.2 105.3,197.3 108.8,201.9 112.2,205.3 114.5,207.1 116.8,205.9 120.3,198.4 123.7,197.9 128.3,200.7 137.6,199.6 143.3,198.4 144.5,196.7 145.6,198.2 184.2,198.2 186.5,189.9 184.2,189.4 181.3,164.0 177.9,135.2 175.0,117.9 173.8,96.4 190.0,96.0 151.4,72.4 151.4,86.0 117.2,86.0 116.8,113.1 107.6,113.9 105.3,117.9 106.5,135.6" fill="#fdfeff" stroke="none" stroke-width="0.5"/>
<polygon points="190.0,96.0 173.8,96.4 175.0,117.9 177.9,135.2 181.3,164.0 184.2,189.4 186.5,189.9 184.2,198.2 145.6,198.2 144.5,196.7 143.3,198.4 137.6,199.6 128.3,200.7 123.7,197.9 120.3,198.4 116.8,205.9 114.5,207.1 116.2,210.0 118.0,214.6 120.3,220.3 122.6,223.8 122.8,230.7 126.0,235.3 130.6,236.5 134.1,234.1 138.7,234.7 142.2,233.6 145.0,231.3 147.9,231.8 149.7,237.6 152.0,242.2 154.3,244.5 152.5,246.8 156.0,250.3 157.7,254.9 161.8,252.6 166.4,253.7 169.8,252.0 173.8,249.1 176.7,250.3 177.3,253.7 180.8,253.7 184.2,252.0 185.9,246.8 185.4,239.9 188.2,236.5 194.0,234.1 195.2,229.5 197.5,224.9 199.8,221.5 205.5,222.6 210.1,218.0 212.4,213.4 219.4,210.5 225.1,206.5 232.0,204.2 243.8,204.8 253.0,201.3 268.0,200.2 278.4,199.6 282.4,196.1 283.6,186.9 285.3,181.3 285.3,159.7 276.1,161.1 273.8,159.4 275.5,155.9 274.4,151.9 268.0,149.6 258.8,146.7 257.6,143.8 253.0,141.0 253.6,137.5 230.0,122.0 190.0,96.0" fill="#e9f0f8" stroke="none" stroke-width="0.5"/>
<polygon points="285.3,159.7 301.4,155.9 318.7,141.0 365.9,112.4 379.8,115.6 388.4,121.7 397.6,117.9 398.8,130.6 402.8,139.8 407.4,146.7 404.5,152.5 403.4,164.0 402.2,170.9 402.5,183.6 397.1,186.9 391.3,193.8 384.4,203.0 380.9,210.0 382.1,218.0 376.3,219.7 371.7,223.2 365.9,223.5 359.0,221.8 352.1,222.1 346.4,223.2 341.8,226.1 337.1,226.7 331.4,226.1 326.8,223.2 322.2,222.4 317.6,223.8 312.9,224.4 309.5,220.9 304.9,218.0 299.1,216.3 294.5,216.9 287.6,218.6 284.1,222.1 279.5,229.5 279.0,237.6 274.9,235.3 270.3,232.4 268.0,234.1 264.6,232.4 263.4,229.0 260.0,227.2 253.0,223.2 254.2,222.1 250.7,218.0 245.6,211.1 243.8,204.8 253.0,201.3 268.0,200.2 278.4,199.6 282.4,196.1 283.6,186.9 285.3,181.3 285.3,159.7" fill="#eff4fa" stroke="none" stroke-width="0.5"/>
<polygon points="279.0,237.6 279.5,229.5 284.1,222.1 287.6,218.6 294.5,216.9 299.1,216.3 304.9,218.0 309.5,220.9 312.9,224.4 317.6,223.8 322.2,222.4 326.8,223.2 331.4,226.1 337.1,226.7 341.8,226.1 346.4,223.2 352.1,222.1 359.0,221.8 365.9,223.5 371.7,223.2 376.3,219.7 382.1,218.0 385.0,221.5 387.8,226.1 389.0,231.8 392.4,234.1 393.0,239.3 390.7,242.8 385.5,246.2 382.1,253.7 378.6,260.6 375.2,267.6 372.9,272.2 370.0,277.9 367.1,283.7 364.2,289.4 360.8,294.1 357.9,294.6 354.4,291.8 351.5,288.9 347.5,291.2 344.1,292.3 340.6,296.4 337.1,301.0 333.7,305.6 332.5,312.5 330.2,315.4 327.9,315.9 321.0,315.9 314.1,314.2 310.6,317.7 304.9,317.7 300.9,314.8 298.0,310.2 296.2,304.4 292.8,300.4 287.6,296.9 280.7,295.2 269.7,295.8 269.7,283.7 270.3,272.2 271.5,267.6 276.1,260.6 279.5,253.7 280.7,249.1 279.5,242.2 279.0,237.6" fill="#85b3dc" stroke="none" stroke-width="0.5"/>
<polygon points="250.2,251.4 253.0,246.8 257.6,242.8 264.6,240.5 268.0,234.1 270.3,232.4 274.9,235.3 279.0,237.6 279.5,242.2 280.7,249.1 279.5,253.7 276.1,260.6 271.5,267.6 270.3,272.2 269.7,283.7 269.7,295.8 258.8,297.5 258.8,289.4 258.2,277.9 257.1,267.6 254.8,260.6 250.7,256.0 250.2,251.4" fill="#eef4fb" stroke="none" stroke-width="0.5"/>
<polygon points="240.9,246.2 241.5,249.1 243.8,253.7 246.1,260.6 247.3,272.2 247.9,283.7 248.4,295.2 251.9,299.8 258.8,297.5 258.8,289.4 258.2,277.9 257.1,267.6 254.8,260.6 250.7,256.0 250.2,251.4 245.0,246.8 240.9,246.2" fill="#e3edf7" stroke="none" stroke-width="0.5"/>
<polygon points="184.2,252.0 185.9,246.8 185.4,239.9 188.2,236.5 194.0,234.1 195.2,229.5 197.5,224.9 199.8,221.5 205.5,222.6 210.1,218.0 212.4,213.4 219.4,210.5 225.1,206.5 232.0,204.2 243.8,204.8 245.6,211.1 250.7,218.0 254.2,222.1 253.0,223.2 260.0,227.2 263.4,229.0 264.6,232.4 268.0,234.1 264.6,240.5 257.6,242.8 253.0,246.8 250.2,251.4 245.0,246.8 240.9,246.2 234.3,246.2 222.8,246.8 213.6,247.4 211.9,249.1 212.4,262.9 210.1,259.5 204.4,258.3 198.6,258.9 192.9,260.1 188.2,256.0 184.2,252.0" fill="#dce8f5" stroke="none" stroke-width="0.5"/>
<polygon points="212.4,262.9 211.9,249.1 213.6,247.4 222.8,246.8 234.3,246.2 240.9,246.2 241.5,249.1 243.8,253.7 246.1,260.6 247.3,272.2 247.9,283.7 248.4,295.2 251.9,299.8 243.5,304.4 234.3,307.9 226.3,310.8 219.9,314.2 213.6,310.8 212.4,304.4 210.1,297.5 209.0,290.6 211.3,283.7 214.7,277.9 213.6,271.0 212.4,262.9" fill="#e9f1f9" stroke="none" stroke-width="0.5"/>
<polygon points="157.7,254.9 161.8,252.6 166.4,253.7 169.8,252.0 173.8,249.1 176.7,250.3 177.3,253.7 180.8,253.7 184.2,252.0 188.2,256.0 192.9,260.1 198.6,258.9 204.4,258.3 210.1,259.5 212.4,262.9 213.6,271.0 214.7,277.9 211.3,283.7 209.0,290.6 210.1,297.5 212.4,304.4 213.6,310.8 205.5,309.0 194.0,309.0 182.5,311.3 171.0,315.4 163.5,318.2 164.6,306.7 163.5,302.1 160.6,298.7 156.0,295.2 154.8,290.6 154.3,283.1 156.0,280.2 157.1,275.6 162.3,274.5 160.6,271.0 159.4,265.3 157.1,260.6 157.7,254.9" fill="#dbe7f4" stroke="none" stroke-width="0.5"/>
<polygon points="123.7,291.2 124.9,287.1 129.5,281.4 132.4,275.6 134.7,273.9 138.7,273.3 142.7,275.6 144.5,279.1 147.4,284.8 150.2,286.0 154.3,283.1 154.8,290.6 156.0,295.2 160.6,298.7 163.5,302.1 164.6,306.7 163.5,318.2 158.3,316.5 151.4,313.1 144.5,307.9 137.6,302.1 130.6,296.4 123.7,291.2" fill="#f8fbfe" stroke="none" stroke-width="0.5"/>
<polygon points="104.1,268.7 106.5,267.0 108.8,264.1 112.8,259.5 119.1,257.8 125.5,258.3 128.3,262.9 131.2,269.9 132.4,275.6 129.5,281.4 124.9,287.1 123.7,291.2 114.5,286.0 109.9,283.1 106.5,280.2 105.3,274.5 104.1,268.7" fill="#cfe0f0" stroke="none" stroke-width="0.5"/>
<polygon points="84.6,243.4 89.2,241.6 95.5,239.3 99.5,237.6 99.5,229.8 104.1,229.8 107.6,230.7 114.5,231.3 122.8,230.7 126.0,235.3 130.6,236.5 134.1,234.1 138.7,234.7 142.2,233.6 145.0,231.3 147.9,231.8 149.7,237.6 152.0,242.2 154.3,244.5 152.5,246.8 156.0,250.3 157.7,254.9 157.1,260.6 159.4,265.3 160.6,271.0 162.3,274.5 157.1,275.6 156.0,280.2 154.3,283.1 150.2,286.0 147.4,284.8 144.5,279.1 142.7,275.6 138.7,273.3 134.7,273.9 132.4,275.6 131.2,269.9 128.3,262.9 125.5,258.3 119.1,257.8 112.8,259.5 108.8,264.1 106.5,267.0 104.1,268.7 100.7,264.1 99.5,260.6 96.1,257.2 91.5,253.7 89.2,249.1 85.7,244.5 84.6,243.4" fill="#dde8f4" stroke="none" stroke-width="0.5"/>
<polygon points="67.3,230.7 78.8,230.1 84.6,229.0 99.5,229.8 69.0,234.1 71.3,237.6 72.5,242.2 74.8,245.1 78.8,244.5 82.3,242.2 84.6,243.4 89.2,241.6 95.5,239.3 99.5,237.6 99.5,229.8" fill="#f7fafd" stroke="none" stroke-width="0.5"/>
<polygon points="71.3,187.5 78.8,186.3 89.2,186.7 94.9,189.2 99.5,192.1 103.0,193.2 105.3,197.3 108.8,201.9 112.2,205.3 114.5,207.1 116.2,210.0 118.0,214.6 120.3,220.3 122.6,223.8 122.8,230.7 114.5,231.3 107.6,230.7 104.1,229.8 99.5,229.8 84.6,229.0 78.8,230.1 67.3,230.7 67.9,226.1 68.4,219.2 67.9,214.6 66.1,212.3 62.7,208.2 59.8,206.7 62.7,204.8 67.3,199.6 70.2,192.7 71.3,187.5" fill="#e4edf7" stroke="none" stroke-width="0.5"/>
<polygon points="68.4,219.7 78.8,219.7 83.4,217.4 88.0,218.6 92.6,220.3 97.8,220.3 98.4,222.1 93.8,222.9 88.0,221.5 83.4,220.9 78.8,222.9 68.4,223.2" fill="#dde9f5" stroke="none" stroke-width="0.5"/>
<polygon points="72.1,225.4 72.0,222.0 68.2,221.5 67.9,226.1 67.3,230.7 68.3,230.6" fill="#e7eff8"/>
<polygon points="87.0,210.1 93.4,209.5 94.1,201.4 87.6,200.8" fill="#dfeaf5"/>
<polygon points="105.0,222.5 98.8,214.7 96.6,216.9 96.2,225.0 100.2,229.8 103.8,229.8" fill="#eaf1f9"/>
<polygon points="108.8,208.6 115.4,208.5 114.5,207.1 112.2,205.3 108.8,201.9 107.8,200.7" fill="#dbe7f4"/>
<polygon points="85.3,212.9 80.9,219.4 84.1,226.4 86.4,225.5 91.8,217.1" fill="#f2f7fb"/>
<polygon points="72.1,225.4 68.3,230.6 78.8,230.1 82.9,229.3" fill="#ebf1f9"/>
<polygon points="72.1,200.8 68.4,206.4 75.3,209.7 78.3,207.5 78.7,201.6" fill="#c3d8ed"/>
<polygon points="72.1,200.8 78.7,201.6 80.7,199.7 78.9,193.0 70.8,189.9 70.2,192.7 68.9,195.8" fill="#c9dcef"/>
<polygon points="84.4,186.5 78.8,186.3 71.3,187.5 70.8,189.9 78.9,193.0 84.3,187.7" fill="#eaf1f9"/>
<polygon points="108.8,208.6 106.7,212.4 107.6,213.5 117.2,214.3 117.8,214.1 116.2,210.0 115.4,208.5" fill="#cbddef"/>
<polygon points="95.6,191.0 96.7,200.3 100.3,201.5 106.7,199.2 105.3,197.3 103.0,193.2 99.5,192.1 96.3,190.1" fill="#eaf1f9"/>
<polygon points="119.1,222.2 118.3,231.0 122.8,230.7 122.6,223.8 120.4,220.5" fill="#c5d9ee"/>
<polygon points="68.4,206.4 72.1,200.8 68.9,195.8 67.3,199.6 62.7,204.8 59.8,206.7 62.7,208.2 62.7,208.3" fill="#d3e2f2"/>
<polygon points="98.8,214.7 105.0,222.5 109.2,219.2 107.6,213.5 106.7,212.4 100.6,212.8 99.1,213.9" fill="#e7eff8"/>
<polygon points="107.6,213.5 109.2,219.2 111.8,220.3 117.2,214.3" fill="#ecf2f9"/>
<polygon points="78.3,207.5 75.3,209.7 74.9,211.4 79.0,218.9 80.9,219.4 85.3,212.9 85.3,212.2" fill="#f4f8fc"/>
<polygon points="119.1,222.2 112.7,221.8 111.0,231.0 114.5,231.3 118.3,231.0" fill="#c9dcef"/>
<polygon points="96.6,216.9 98.8,214.7 99.1,213.9 93.4,209.5 87.0,210.1 85.3,212.2 85.3,212.9 91.8,217.1" fill="#f3f7fb"/>
<polygon points="62.7,208.3 66.1,212.3 67.7,214.3 70.0,214.8 74.9,211.4 75.3,209.7 68.4,206.4" fill="#cddff0"/>
<polygon points="78.3,207.5 85.3,212.2 87.0,210.1 87.6,200.8 87.0,200.3 80.7,199.7 78.7,201.6" fill="#c3d8ed"/>
<polygon points="86.4,225.5 96.2,225.0 96.6,216.9 91.8,217.1" fill="#dfeaf5"/>
<polygon points="95.6,191.0 96.3,190.1 94.9,189.2 89.2,186.7 84.4,186.5 84.3,187.7 88.9,192.1" fill="#eff4fa"/>
<polygon points="87.0,200.3 88.9,192.1 84.3,187.7 78.9,193.0 80.7,199.7" fill="#caddef"/>
<polygon points="84.1,226.4 83.2,229.2 84.6,229.0 99.5,229.8 100.2,229.8 96.2,225.0 86.4,225.5" fill="#c2d8ed"/>
<polygon points="100.6,212.8 100.3,201.5 96.7,200.3 94.1,201.4 93.4,209.5 99.1,213.9" fill="#d6e4f3"/>
<polygon points="112.7,221.8 111.8,220.3 109.2,219.2 105.0,222.5 103.8,229.8 104.1,229.8 107.6,230.7 111.0,231.0" fill="#e3edf7"/>
<polygon points="111.8,220.3 112.7,221.8 119.1,222.2 120.4,220.5 120.3,220.3 118.0,214.6 117.8,214.1 117.2,214.3" fill="#e8f0f8"/>
<polygon points="79.0,218.9 73.5,220.1 72.0,222.0 72.1,225.4 82.9,229.3 83.2,229.2 84.1,226.4 80.9,219.4" fill="#e9f0f8"/>
<polygon points="108.8,208.6 107.8,200.7 106.7,199.2 100.3,201.5 100.6,212.8 106.7,212.4" fill="#eef3fa"/>
<polygon points="87.6,200.8 94.1,201.4 96.7,200.3 95.6,191.0 88.9,192.1 87.0,200.3" fill="#d8e5f3"/>
<polygon points="72.0,222.0 73.5,220.1 70.0,214.8 67.7,214.3 67.9,214.6 68.4,219.2 68.2,221.5" fill="#e6eef8"/>
<polygon points="74.9,211.4 70.0,214.8 73.5,220.1 79.0,218.9" fill="#eef4fa"/>
<polygon points="85.9,235.7 92.8,238.6 94.3,234.9 93.2,230.7 85.2,231.8" fill="#f2f7fc"/>
<polygon points="87.5,242.3 89.2,241.6 92.9,240.3 92.8,238.6 85.9,235.7 83.9,238.9" fill="#fafcfe"/>
<polygon points="78.4,238.7 81.5,239.7 83.9,238.9 85.9,235.7 85.2,231.8 79.4,232.7" fill="#edf4fa"/>
<polygon points="94.3,234.9 92.8,238.6 92.9,240.3 95.5,239.3 99.5,237.6 99.5,235.3" fill="#f9fbfe"/>
<polygon points="94.3,234.9 99.5,235.3 99.5,229.8 93.2,230.7" fill="#edf4fa"/>
<polygon points="81.5,239.7 82.0,242.4 82.3,242.2 84.6,243.4 87.5,242.3 83.9,238.9" fill="#f9fbfd"/>
<polygon points="78.4,238.7 72.3,241.6 72.5,242.2 74.8,245.1 78.8,244.5 82.0,242.4 81.5,239.7" fill="#ecf3fa"/>
<polygon points="78.4,238.7 79.4,232.7 69.0,234.1 71.3,237.6 72.3,241.6" fill="#f2f7fc"/>
<polygon points="111.2,258.6 104.7,255.2 97.2,258.3 99.5,260.6 100.7,264.1 104.1,268.7 106.5,267.0 108.8,264.1 112.1,260.3" fill="#c4d9ed"/>
<polygon points="109.6,238.2 108.2,237.7 100.1,241.2 99.5,246.4 103.1,248.2 108.2,246.2 110.9,241.3" fill="#d1e1f1"/>
<polygon points="142.2,255.6 145.8,259.0 152.0,259.5 155.0,256.4 150.2,252.3 143.2,254.5" fill="#c3d8ec"/>
<polygon points="130.7,242.1 135.6,242.7 137.8,238.9 135.0,234.3 134.1,234.1 130.6,236.5 129.1,236.1" fill="#c4d9ed"/>
<polygon points="139.0,258.7 139.2,266.0 146.7,269.6 147.6,269.4 145.8,259.0 142.2,255.6 140.9,255.9" fill="#c4d9ed"/>
<polygon points="108.2,237.7 109.6,238.2 115.1,231.2 114.5,231.3 107.6,230.7 104.1,229.8 101.4,229.8" fill="#d8e5f3"/>
<polygon points="99.5,246.4 100.1,241.2 97.9,238.3 95.5,239.3 89.2,241.6 84.6,243.4 85.7,244.5 89.2,249.1 90.0,250.7" fill="#f1f5fa"/>
<polygon points="136.0,251.3 137.4,245.2 135.6,242.7 130.7,242.1 127.3,246.4 129.8,251.4" fill="#cedff0"/>
<polygon points="127.3,246.4 120.0,245.2 119.5,246.5 121.8,258.0 125.5,258.3 126.0,259.2 129.8,251.4" fill="#eaf1f8"/>
<polygon points="160.4,274.0 157.8,275.5 162.3,274.5 162.2,274.3" fill="#e5eef7"/>
<polygon points="146.1,282.4 147.4,284.8 150.2,286.0 154.3,283.1 156.0,280.2 157.1,275.9" fill="#d3e2f1"/>
<polygon points="152.4,270.0 160.4,274.0 162.2,274.3 160.6,271.0 159.4,265.3 157.1,260.6 157.6,256.2 155.0,256.4 152.0,259.5" fill="#dbe7f4"/>
<polygon points="143.0,244.9 144.6,237.6 144.5,237.6 137.8,238.9 135.6,242.7 137.4,245.2" fill="#e1eaf5"/>
<polygon points="147.6,269.4 152.4,270.0 152.0,259.5 145.8,259.0" fill="#c2d7ec"/>
<polygon points="109.6,238.2 110.9,241.3 119.8,244.8 123.1,231.1 122.8,230.7 115.1,231.2" fill="#d6e4f2"/>
<polygon points="142.2,255.6 143.2,254.5 144.1,246.3 143.0,244.9 137.4,245.2 136.0,251.3 140.9,255.9" fill="#e3ecf6"/>
<polygon points="103.1,248.2 99.5,246.4 90.0,250.7 91.5,253.7 96.1,257.2 97.2,258.3 104.7,255.2" fill="#e7eff7"/>
<polygon points="157.6,256.2 157.7,254.9 156.0,250.3 152.5,246.8 154.3,244.5 153.9,244.1 151.8,246.0 150.2,252.3 155.0,256.4" fill="#c6daed"/>
<polygon points="139.2,266.0 139.0,258.7 127.0,260.9 128.3,262.9 131.2,269.9 131.4,270.7" fill="#dee9f4"/>
<polygon points="139.0,258.7 140.9,255.9 136.0,251.3 129.8,251.4 126.0,259.2 127.0,260.9" fill="#cbddef"/>
<polygon points="146.7,269.6 139.2,266.0 131.4,270.7 132.4,275.6 134.7,273.9 138.7,273.3 142.4,275.4" fill="#e3ecf6"/>
<polygon points="119.5,246.5 120.0,245.2 119.8,244.8 110.9,241.3 108.2,246.2 112.5,252.1" fill="#e9f0f8"/>
<polygon points="108.2,246.2 103.1,248.2 104.7,255.2 111.2,258.6 112.5,252.1" fill="#dbe7f3"/>
<polygon points="151.8,246.0 153.9,244.1 152.0,242.2 149.8,237.9 144.6,237.6 143.0,244.9 144.1,246.3" fill="#c9dcee"/>
<polygon points="137.8,238.9 144.5,237.6 142.9,233.0 142.2,233.6 138.7,234.7 135.0,234.3" fill="#eaf1f8"/>
<polygon points="100.1,241.2 108.2,237.7 101.4,229.8 99.5,229.8 99.5,237.6 97.9,238.3" fill="#cbddef"/>
<polygon points="119.8,244.8 120.0,245.2 127.3,246.4 130.7,242.1 129.1,236.1 126.0,235.3 123.1,231.1" fill="#c3d8ec"/>
<polygon points="146.7,269.6 142.4,275.4 142.7,275.6 144.5,279.1 146.1,282.4 157.1,275.9 157.1,275.6 157.8,275.5 160.4,274.0 152.4,270.0 147.6,269.4" fill="#cadcee"/>
<polygon points="150.2,252.3 151.8,246.0 144.1,246.3 143.2,254.5" fill="#c9dcee"/>
<polygon points="119.5,246.5 112.5,252.1 111.2,258.6 112.1,260.3 112.8,259.5 119.1,257.8 121.8,258.0" fill="#f1f6fb"/>
<polygon points="149.8,237.9 149.7,237.6 147.9,231.8 145.0,231.3 142.9,233.0 144.5,237.6 144.6,237.6" fill="#d5e3f2"/>
<polygon points="112.8,269.4 121.1,261.2 121.8,258.0 119.1,257.8 112.8,259.5 108.8,264.1 108.4,264.5" fill="#e3edf6"/>
<polygon points="113.4,271.4 112.8,269.4 108.4,264.5 106.5,267.0 104.1,268.7 105.3,274.5 106.0,278.1" fill="#dae7f4"/>
<polygon points="121.1,261.2 123.2,268.6 127.2,271.2 131.2,269.8 128.3,262.9 125.5,258.3 121.8,258.0" fill="#c1d7ec"/>
<polygon points="114.0,271.7 123.2,268.6 121.1,261.2 112.8,269.4 113.4,271.4" fill="#e9f1f8"/>
<polygon points="117.6,276.3 114.0,271.7 113.4,271.4 106.0,278.1 106.5,280.2 109.9,283.1 114.5,286.0 115.8,286.7" fill="#e9f1f8"/>
<polygon points="126.6,281.2 116.5,287.1 123.7,291.2 124.9,287.1 128.7,282.4" fill="#c9dcee"/>
<polygon points="126.6,281.2 124.6,276.1 117.6,276.3 115.8,286.7 116.5,287.1" fill="#dce8f4"/>
<polygon points="128.7,282.4 129.5,281.4 132.4,275.6 131.2,269.9 131.2,269.8 127.2,271.2 124.6,276.1 126.6,281.2" fill="#cddff0"/>
<polygon points="124.6,276.1 127.2,271.2 123.2,268.6 114.0,271.7 117.6,276.3" fill="#d1e1f1"/>
<polygon points="146.7,306.1 147.5,308.2 151.4,309.4 153.0,307.6 151.5,303.3 149.4,303.0" fill="#f5f9fd"/>
<polygon points="160.2,308.0 164.6,307.3 164.6,306.7 163.5,302.1 160.6,298.7 160.2,298.3 158.5,302.1" fill="#fbfdfe"/>
<polygon points="146.7,283.5 144.5,279.1 144.1,278.4 139.4,284.2 141.5,288.3 142.2,288.3" fill="#f7fafe"/>
<polygon points="146.7,294.4 141.2,297.2 141.1,297.4 144.3,301.4 148.0,301.5 148.4,295.6" fill="#f9fcfe"/>
<polygon points="132.2,287.8 132.9,287.6 136.1,283.7 133.8,277.4 132.2,276.0 129.5,281.4 127.6,283.8" fill="#f6fafd"/>
<polygon points="160.2,308.0 159.6,308.6 159.2,311.6 163.8,314.8 164.6,307.3" fill="#edf4fb"/>
<polygon points="148.0,301.5 144.3,301.4 143.0,305.6 146.7,306.1 149.4,303.0" fill="#f0f6fc"/>
<polygon points="133.8,277.4 136.1,283.7 139.4,284.2 144.1,278.4 144.1,278.3" fill="#f9fbfe"/>
<polygon points="140.2,298.1 131.6,297.2 137.6,302.1 138.4,302.8" fill="#f1f6fc"/>
<polygon points="139.4,284.2 136.1,283.7 132.9,287.6 138.8,290.8 141.5,288.3" fill="#f5f9fd"/>
<polygon points="140.2,298.1 141.1,297.4 141.2,297.2 138.7,292.0 132.1,295.2 131.6,297.1 131.6,297.2" fill="#f9fcfe"/>
<polygon points="159.2,311.6 159.6,308.6 153.0,307.6 151.4,309.4 151.0,312.8 151.4,313.1 156.7,315.7" fill="#fbfdfe"/>
<polygon points="159.2,311.6 156.7,315.7 158.3,316.5 163.5,318.2 163.8,314.8" fill="#f6fafd"/>
<polygon points="143.0,305.6 142.3,306.1 144.5,307.9 146.5,309.4 147.5,308.2 146.7,306.1" fill="#f6fafe"/>
<polygon points="131.3,290.2 132.2,287.8 127.6,283.8 124.9,287.1 123.7,291.2 123.9,291.3" fill="#edf4fb"/>
<polygon points="146.7,291.6 154.3,283.9 154.3,283.1 150.2,286.0 147.4,284.8 146.7,283.5 142.2,288.3" fill="#edf4fa"/>
<polygon points="146.5,309.4 151.0,312.8 151.4,309.4 147.5,308.2" fill="#f5f9fd"/>
<polygon points="141.5,288.3 138.8,290.8 138.7,292.0 141.2,297.2 146.7,294.4 146.7,291.6 142.2,288.3" fill="#f9fcfe"/>
<polygon points="132.1,295.2 131.3,290.2 123.9,291.3 130.6,296.4 131.6,297.1" fill="#eff5fb"/>
<polygon points="151.5,303.3 153.0,307.6 159.6,308.6 160.2,308.0 158.5,302.1 153.0,301.9" fill="#fcfdff"/>
<polygon points="153.0,296.0 148.4,295.6 148.0,301.5 149.4,303.0 151.5,303.3 153.0,301.9" fill="#fbfdfe"/>
<polygon points="153.0,296.0 153.0,301.9 158.5,302.1 160.2,298.3 156.0,295.2 155.7,294.2" fill="#f6fafe"/>
<polygon points="146.7,291.6 146.7,294.4 148.4,295.6 153.0,296.0 155.7,294.2 154.8,290.6 154.3,283.9" fill="#f5f9fd"/>
<polygon points="144.3,301.4 141.1,297.4 140.2,298.1 138.4,302.8 142.3,306.1 143.0,305.6" fill="#fbfdfe"/>
<polygon points="132.1,295.2 138.7,292.0 138.8,290.8 132.9,287.6 132.2,287.8 131.3,290.2" fill="#f5f9fd"/>
<polygon points="133.8,277.4 144.1,278.3 142.7,275.6 138.7,273.3 134.7,273.9 132.4,275.6 132.2,276.0" fill="#eff5fb"/>
<polygon points="192.0,307.7 192.4,309.3 194.0,309.0 205.5,309.0 213.6,310.8 212.4,304.4 211.6,301.8 198.4,301.0" fill="#c2d8ed"/>
<polygon points="187.0,273.1 188.9,264.7 187.0,262.9 179.2,263.0 176.7,268.9 184.6,274.8" fill="#c3d8ed"/>
<polygon points="177.4,305.6 178.1,306.3 191.0,306.9 189.1,302.3 177.1,293.1 176.7,293.1 175.2,296.7" fill="#c3d8ed"/>
<polygon points="164.1,304.7 164.6,306.7 164.5,307.8 169.0,309.9 177.4,305.6 175.2,296.7 166.7,300.3" fill="#dde8f5"/>
<polygon points="203.7,273.9 198.4,271.6 194.6,274.1 195.4,284.1 204.8,278.8" fill="#cfe0f1"/>
<polygon points="189.1,302.3 191.6,287.9 187.0,286.8 177.1,293.1" fill="#cadcef"/>
<polygon points="174.1,290.4 171.7,283.9 163.8,280.9 159.5,285.0 163.6,291.1" fill="#ebf1f9"/>
<polygon points="196.9,263.3 198.4,271.6 203.7,273.9 212.8,265.4 212.4,262.9 210.1,259.5 204.4,258.3 200.1,258.8" fill="#c0d7ec"/>
<polygon points="201.5,290.7 197.5,290.9 198.4,301.0 211.6,301.8 210.6,298.9" fill="#c2d8ed"/>
<polygon points="163.1,271.2 166.6,269.0 166.5,253.7 166.4,253.7 161.8,252.6 157.7,254.9 157.1,260.6 159.4,265.3 160.6,270.8" fill="#dee9f5"/>
<polygon points="194.6,274.1 198.4,271.6 196.9,263.3 188.9,264.7 187.0,273.1" fill="#caddef"/>
<polygon points="166.7,300.3 175.2,296.7 176.7,293.1 174.1,290.4 163.6,291.1 162.3,294.8" fill="#dde9f5"/>
<polygon points="205.7,279.6 205.9,287.4 209.7,288.4 211.3,283.7 213.4,280.2" fill="#e5edf7"/>
<polygon points="193.2,287.7 191.6,287.9 189.1,302.3 191.0,306.9 192.0,307.7 198.4,301.0 197.5,290.9" fill="#cedff0"/>
<polygon points="179.2,263.0 173.9,249.1 173.8,249.1 169.8,252.0 166.5,253.7 166.6,269.0 172.1,270.3 176.7,268.9" fill="#eef4fa"/>
<polygon points="179.2,263.0 187.0,262.9 187.4,255.2 184.2,252.0 180.8,253.7 177.3,253.7 176.7,250.3 173.9,249.1" fill="#c9dcef"/>
<polygon points="169.0,309.9 170.9,315.4 171.0,315.4 178.4,312.8 178.1,306.3 177.4,305.6" fill="#bed5eb"/>
<polygon points="176.7,268.9 172.1,270.3 174.0,280.1 184.1,278.3 184.6,274.8" fill="#e4edf7"/>
<polygon points="159.5,285.0 163.8,280.9 163.1,271.2 160.6,270.8 160.6,271.0 162.3,274.5 157.1,275.6 156.0,280.2 154.3,283.1 154.5,285.6" fill="#c1d7ec"/>
<polygon points="195.4,284.1 193.2,287.7 197.5,290.9 201.5,290.7 205.9,287.4 205.7,279.6 204.8,278.8" fill="#edf3f9"/>
<polygon points="172.1,270.3 166.6,269.0 163.1,271.2 163.8,280.9 171.7,283.9 174.0,280.1" fill="#c6daee"/>
<polygon points="205.9,287.4 201.5,290.7 210.6,298.9 210.1,297.5 209.0,290.6 209.7,288.4" fill="#e5edf7"/>
<polygon points="203.7,273.9 204.8,278.8 205.7,279.6 213.4,280.2 214.7,277.9 213.6,271.0 212.8,265.4" fill="#bfd6ec"/>
<polygon points="177.1,293.1 187.0,286.8 184.1,278.3 174.0,280.1 171.7,283.9 174.1,290.4 176.7,293.1" fill="#dee9f5"/>
<polygon points="157.1,296.1 160.6,298.7 163.5,302.1 164.1,304.7 166.7,300.3 162.3,294.8" fill="#c2d7ec"/>
<polygon points="169.0,309.9 164.5,307.8 163.5,318.2 170.9,315.4" fill="#eff4fa"/>
<polygon points="184.1,278.3 187.0,286.8 191.6,287.9 193.2,287.7 195.4,284.1 194.6,274.1 187.0,273.1 184.6,274.8" fill="#edf3f9"/>
<polygon points="196.9,263.3 200.1,258.8 198.6,258.9 192.9,260.1 188.2,256.0 187.4,255.2 187.0,262.9 188.9,264.7" fill="#c8dbee"/>
<polygon points="178.4,312.8 182.5,311.3 192.4,309.3 192.0,307.7 191.0,306.9 178.1,306.3" fill="#d3e2f2"/>
<polygon points="162.3,294.8 163.6,291.1 159.5,285.0 154.5,285.6 154.8,290.6 156.0,295.2 157.1,296.1" fill="#d9e6f3"/>
<polygon points="231.0,256.7 229.9,253.9 219.8,252.8 218.2,258.3 221.4,263.9 228.9,259.8" fill="#f6f9fc"/>
<polygon points="242.8,251.6 241.5,249.1 240.9,246.2 234.3,246.2 230.7,246.4 229.9,253.9 231.0,256.7 237.7,258.1" fill="#c6dbee"/>
<polygon points="226.7,273.7 233.1,276.1 237.8,269.1 232.2,267.3 226.2,272.0" fill="#e7f0f8"/>
<polygon points="234.4,298.1 220.7,295.5 220.6,295.5 216.4,312.3 219.9,314.2 224.7,311.6" fill="#f2f7fc"/>
<polygon points="220.4,266.5 221.4,263.9 218.2,258.3 212.2,257.5 212.4,262.9 213.5,270.1" fill="#e6eff8"/>
<polygon points="247.4,275.0 247.3,272.2 246.2,261.4 240.5,262.3 239.5,268.6" fill="#f5f9fc"/>
<polygon points="218.2,258.3 219.8,252.8 216.8,247.2 213.6,247.4 211.9,249.1 212.2,257.5" fill="#e7f0f8"/>
<polygon points="219.8,281.9 211.4,283.6 211.3,283.7 210.7,285.6 218.9,294.1 219.2,294.2" fill="#c4d9ee"/>
<polygon points="235.5,281.9 247.5,277.5 247.4,275.0 239.5,268.6 237.8,269.1 233.1,276.1" fill="#cddff0"/>
<polygon points="220.6,295.5 220.7,295.5 228.6,285.3 223.1,280.1 221.3,280.3 219.8,281.9 219.2,294.2" fill="#dae7f4"/>
<polygon points="232.2,267.3 228.9,259.8 221.4,263.9 220.4,266.5 226.2,272.0" fill="#eff5fb"/>
<polygon points="236.6,290.3 235.3,297.9 239.4,301.4 248.4,294.0 248.1,288.6" fill="#edf3fa"/>
<polygon points="219.8,281.9 221.3,280.3 213.8,272.2 214.7,277.9 211.4,283.6" fill="#f2f7fb"/>
<polygon points="218.9,294.1 210.7,285.6 209.0,290.6 209.8,295.2" fill="#d4e4f2"/>
<polygon points="235.5,281.9 234.0,285.1 236.6,290.3 248.1,288.6 247.9,283.7 247.5,277.5" fill="#e6eff8"/>
<polygon points="236.6,290.3 234.0,285.1 228.6,285.3 220.7,295.5 234.4,298.1 235.3,297.9" fill="#d4e3f2"/>
<polygon points="220.6,295.5 219.2,294.2 218.9,294.1 209.8,295.2 210.1,297.5 212.4,304.4 213.6,310.8 216.4,312.3" fill="#edf4fa"/>
<polygon points="234.4,298.1 224.7,311.6 226.3,310.8 234.3,307.9 241.2,305.3 239.4,301.4 235.3,297.9" fill="#f0f6fb"/>
<polygon points="220.4,266.5 213.5,270.1 213.6,271.0 213.8,272.2 221.3,280.3 223.1,280.1 226.7,273.7 226.2,272.0" fill="#d1e2f2"/>
<polygon points="239.5,268.6 240.5,262.3 237.7,258.1 231.0,256.7 228.9,259.8 232.2,267.3 237.8,269.1" fill="#c4d9ed"/>
<polygon points="241.2,305.3 243.5,304.4 251.9,299.8 248.4,295.2 248.4,294.0 239.4,301.4" fill="#cee0f1"/>
<polygon points="219.8,252.8 229.9,253.9 230.7,246.4 222.8,246.8 216.8,247.2" fill="#d1e2f2"/>
<polygon points="223.1,280.1 228.6,285.3 234.0,285.1 235.5,281.9 233.1,276.1 226.7,273.7" fill="#d1e1f1"/>
<polygon points="246.2,261.4 246.1,260.6 243.8,253.7 242.8,251.6 237.7,258.1 240.5,262.3" fill="#d7e5f3"/>
<polygon points="252.4,274.8 256.4,268.7 252.2,267.3 250.1,270.7" fill="#f4f8fc"/>
<polygon points="247.1,270.8 247.3,272.2 247.4,274.6 252.3,276.0 252.4,274.8 250.1,270.7" fill="#dfeaf6"/>
<polygon points="245.1,251.7 248.6,257.4 251.1,256.4 250.7,256.0 250.2,251.4 247.1,248.7" fill="#d5e4f3"/>
<polygon points="252.1,282.7 251.9,277.5 247.7,279.6 247.9,283.7 247.9,284.1" fill="#dbe8f4"/>
<polygon points="252.5,276.3 252.5,276.6 258.4,281.4 258.2,277.9 257.9,275.0" fill="#d4e4f2"/>
<polygon points="245.1,251.7 247.1,248.7 245.0,246.8 240.9,246.2 241.5,249.1 243.1,252.2" fill="#d2e2f2"/>
<polygon points="253.6,291.0 255.1,284.7 252.1,282.7 247.9,284.1 248.3,292.0" fill="#ecf3fa"/>
<polygon points="253.6,291.0 248.3,292.0 248.4,295.2 251.9,299.8 258.8,297.5 258.8,293.4" fill="#eaf1f9"/>
<polygon points="252.3,276.0 252.5,276.3 257.9,275.0 257.2,268.6 256.4,268.7 252.4,274.8" fill="#e1ecf6"/>
<polygon points="248.6,257.4 245.1,251.7 243.1,252.2 243.8,253.7 245.9,259.9" fill="#d2e2f2"/>
<polygon points="252.2,267.3 256.4,268.7 257.2,268.6 257.1,267.6 254.9,261.1 250.9,265.4" fill="#e7f0f8"/>
<polygon points="250.1,270.7 252.2,267.3 250.9,265.4 246.4,263.8 247.1,270.8" fill="#d4e3f2"/>
<polygon points="248.6,257.4 245.9,259.9 246.1,260.6 246.4,263.8 250.9,265.4 254.9,261.1 254.8,260.6 251.1,256.4" fill="#d7e5f3"/>
<polygon points="251.9,277.5 252.5,276.6 252.5,276.3 252.3,276.0 247.4,274.6 247.7,279.6" fill="#e2edf7"/>
<polygon points="253.6,291.0 258.8,293.4 258.8,289.4 258.5,282.4 255.1,284.7" fill="#dfeaf6"/>
<polygon points="252.5,276.6 251.9,277.5 252.1,282.7 255.1,284.7 258.5,282.4 258.4,281.4" fill="#d3e3f2"/>
<polygon points="265.9,253.7 260.4,256.9 260.6,258.8 262.1,260.3 263.9,260.9 267.9,258.0" fill="#eff5fb"/>
<polygon points="279.3,240.7 279.0,237.6 275.5,235.6 276.0,240.5" fill="#eaf1fa"/>
<polygon points="267.2,269.4 264.0,272.0 264.6,274.9 269.3,277.5 270.1,277.4 270.3,272.2 270.5,271.3" fill="#e3edf8"/>
<polygon points="269.9,258.5 269.8,264.5 272.9,265.5 275.9,261.0" fill="#deeaf6"/>
<polygon points="275.1,241.0 271.3,239.8 269.9,242.3 270.6,245.5 274.3,245.8" fill="#e4eef8"/>
<polygon points="261.6,292.6 265.6,295.8 269.7,290.1 269.7,288.4 265.8,287.4" fill="#f4f8fc"/>
<polygon points="269.3,277.5 265.2,281.3 264.1,285.2 265.8,287.4 269.7,288.4 269.7,283.7 270.1,277.4" fill="#ecf3fa"/>
<polygon points="263.0,285.1 264.1,285.2 265.2,281.3 260.0,277.5 258.2,277.6 258.2,277.9 258.4,281.6" fill="#f1f6fc"/>
<polygon points="254.7,254.7 257.7,253.1 258.2,251.0 253.4,246.5 253.0,246.8 250.2,251.4 250.4,253.1" fill="#f8fafd"/>
<polygon points="260.7,249.7 261.1,241.7 257.6,242.8 253.4,246.5 258.2,251.0" fill="#ecf3fa"/>
<polygon points="263.0,285.1 258.4,281.6 258.7,287.5" fill="#eff4fb"/>
<polygon points="258.5,269.0 265.7,265.1 263.9,260.9 262.1,260.3 257.2,268.3 257.2,268.9" fill="#dfeaf6"/>
<polygon points="263.4,241.2 269.9,242.3 271.3,239.8 268.8,233.6 268.0,234.1 264.6,240.5 263.1,241.0" fill="#f2f6fc"/>
<polygon points="269.9,242.3 263.4,241.2 267.5,248.0 270.6,245.5" fill="#e0ebf7"/>
<polygon points="265.6,295.8 265.8,296.4 269.7,295.8 269.7,290.1" fill="#edf4fb"/>
<polygon points="254.7,254.7 250.4,253.1 250.7,256.0 253.4,259.1" fill="#f6f9fd"/>
<polygon points="271.3,239.8 275.1,241.0 276.0,240.5 275.5,235.6 274.9,235.3 270.3,232.4 268.8,233.6" fill="#e5eef8"/>
<polygon points="261.6,292.6 265.8,287.4 264.1,285.2 263.0,285.1 258.7,287.5 258.8,289.4 258.8,293.2" fill="#f2f7fc"/>
<polygon points="269.7,258.3 267.9,258.0 263.9,260.9 265.7,265.1 266.4,265.5 269.8,264.5 269.9,258.5" fill="#edf3fb"/>
<polygon points="265.6,295.8 261.6,292.6 258.8,293.2 258.8,297.5 265.8,296.4" fill="#f7fafd"/>
<polygon points="272.0,255.0 278.0,256.8 279.5,253.7 279.8,252.9 273.5,251.0 271.7,252.0" fill="#f8fafd"/>
<polygon points="260.7,249.7 266.3,250.4 266.9,249.9 267.5,248.0 263.4,241.2 263.1,241.0 261.1,241.7" fill="#dde9f5"/>
<polygon points="273.5,251.0 274.4,245.8 274.3,245.8 270.6,245.5 267.5,248.0 266.9,249.9 271.7,252.0" fill="#f7fafd"/>
<polygon points="274.4,245.8 273.5,251.0 279.8,252.9 280.7,249.1 280.4,247.2" fill="#f5f9fd"/>
<polygon points="260.4,256.9 257.7,253.1 254.7,254.7 253.4,259.1 254.8,260.6 255.0,261.2 260.6,258.8" fill="#f5f8fd"/>
<polygon points="265.2,281.3 269.3,277.5 264.6,274.9 260.0,277.5" fill="#f6f9fd"/>
<polygon points="272.0,255.0 269.7,258.3 269.9,258.5 275.9,261.0 276.1,260.6 278.0,256.8" fill="#e1ebf7"/>
<polygon points="276.0,240.5 275.1,241.0 274.3,245.8 274.4,245.8 280.4,247.2 279.5,242.2 279.3,240.7" fill="#d9e7f4"/>
<polygon points="267.2,269.4 266.4,265.5 265.7,265.1 258.5,269.0 264.0,272.0" fill="#e8f0f9"/>
<polygon points="269.8,264.5 266.4,265.5 267.2,269.4 270.5,271.3 271.5,267.6 272.9,265.5" fill="#f0f5fc"/>
<polygon points="264.6,274.9 264.0,272.0 258.5,269.0 257.2,268.9 258.2,277.6 260.0,277.5" fill="#deeaf6"/>
<polygon points="260.7,249.7 258.2,251.0 257.7,253.1 260.4,256.9 265.9,253.7 266.3,250.4" fill="#f5f9fd"/>
<polygon points="266.9,249.9 266.3,250.4 265.9,253.7 267.9,258.0 269.7,258.3 272.0,255.0 271.7,252.0" fill="#e6eff8"/>
<polygon points="228.0,227.9 229.5,233.2 236.1,232.0 236.9,227.5 229.6,226.7" fill="#f0f5fb"/>
<polygon points="228.8,209.9 226.9,217.6 231.1,220.5 238.2,220.5 234.4,211.6" fill="#d4e3f3"/>
<polygon points="231.1,220.5 226.9,217.6 224.8,218.8 225.6,227.1 228.0,227.9 229.6,226.7" fill="#cfe0f1"/>
<polygon points="254.8,234.1 251.5,237.3 253.2,246.7 257.6,242.8 262.9,241.0" fill="#e2ecf7"/>
<polygon points="221.1,218.9 218.8,216.9 212.4,218.9 215.7,225.6 217.6,226.2" fill="#eef4fa"/>
<polygon points="237.5,234.2 243.8,236.4 244.4,236.0 245.4,230.0 238.9,225.1 236.9,227.5 236.1,232.0" fill="#e6eef8"/>
<polygon points="239.5,246.2 240.9,246.2 245.0,246.8 246.8,248.4 243.5,237.9 238.4,242.1" fill="#eaf1f9"/>
<polygon points="193.4,252.6 199.5,251.5 198.5,245.9 186.3,238.8 185.4,239.9 185.7,243.3" fill="#dee9f5"/>
<polygon points="228.8,209.9 234.4,211.6 238.8,209.5 239.0,204.5 232.0,204.2 226.7,206.0" fill="#ebf2f9"/>
<polygon points="215.0,234.3 210.0,232.3 208.0,233.6 207.2,237.1 211.0,240.2 214.9,236.7" fill="#eef4fa"/>
<polygon points="257.4,229.4 267.3,235.4 268.0,234.1 264.6,232.4 263.4,229.0 260.0,227.2 257.9,226.0" fill="#dae7f5"/>
<polygon points="211.0,240.2 207.2,237.1 203.3,239.1 203.9,243.6 207.6,245.8 210.8,243.0" fill="#ebf2f9"/>
<polygon points="224.8,218.8 226.9,217.6 228.8,209.9 226.7,206.0 225.1,206.5 219.4,210.5 217.9,211.1 218.8,216.9 221.1,218.9" fill="#edf3fa"/>
<polygon points="251.5,237.3 254.8,234.1 255.2,232.4 247.3,228.8 245.4,230.0 244.4,236.0" fill="#ecf2fa"/>
<polygon points="219.5,229.2 217.6,226.2 215.7,225.6 209.7,227.1 210.0,232.3 215.0,234.3 219.3,230.6" fill="#cfe0f1"/>
<polygon points="203.3,239.1 207.2,237.1 208.0,233.6 203.2,231.8 198.2,235.4" fill="#c9dcef"/>
<polygon points="254.8,234.1 262.9,241.0 264.6,240.5 267.3,235.4 257.4,229.4 255.2,232.4" fill="#c9dcef"/>
<polygon points="225.6,227.1 219.5,229.2 219.3,230.6 226.4,238.6 229.5,233.2 228.0,227.9" fill="#d7e5f4"/>
<polygon points="226.4,238.6 226.4,239.5 228.0,242.4 233.7,240.5 237.5,234.2 236.1,232.0 229.5,233.2" fill="#d4e3f2"/>
<polygon points="227.7,246.6 234.3,246.2 239.5,246.2 238.4,242.1 233.7,240.5 228.0,242.4" fill="#ccdef0"/>
<polygon points="233.7,240.5 238.4,242.1 243.5,237.9 243.8,236.4 237.5,234.2" fill="#dfeaf6"/>
<polygon points="203.7,227.1 206.1,224.4 205.8,222.4 205.5,222.6 199.8,221.5 197.5,224.9 196.3,227.4" fill="#dbe8f5"/>
<polygon points="218.2,240.0 216.1,244.7 217.4,247.2 222.8,246.8 227.7,246.6 228.0,242.4 226.4,239.5" fill="#cfe0f1"/>
<polygon points="214.9,236.7 211.0,240.2 210.8,243.0 216.1,244.7 218.2,240.0" fill="#d4e3f2"/>
<polygon points="251.5,237.3 244.4,236.0 243.8,236.4 243.5,237.9 246.8,248.4 250.2,251.4 253.0,246.8 253.2,246.7" fill="#d5e4f3"/>
<polygon points="208.0,233.6 210.0,232.3 209.7,227.1 206.1,224.4 203.7,227.1 203.2,231.8" fill="#d3e2f2"/>
<polygon points="216.1,244.7 210.8,243.0 207.6,245.8 207.7,247.3 211.9,250.7 211.9,249.1 213.6,247.4 217.4,247.2" fill="#dae7f4"/>
<polygon points="247.3,228.8 255.2,232.4 257.4,229.4 257.9,226.0 253.0,223.2 254.2,222.1 251.6,219.0" fill="#e8f0f8"/>
<polygon points="193.4,252.6 185.7,243.3 185.9,246.8 184.2,252.0 188.2,256.0 192.3,259.5" fill="#e4edf7"/>
<polygon points="206.1,224.4 209.7,227.1 215.7,225.6 212.4,218.9 210.1,218.1 205.8,222.4" fill="#d0e1f1"/>
<polygon points="207.6,245.8 203.9,243.6 198.5,245.9 199.5,251.5 202.5,254.1 207.7,247.3" fill="#dfeaf6"/>
<polygon points="238.8,209.5 247.7,213.9 245.6,211.1 243.8,204.8 239.0,204.5" fill="#c6daee"/>
<polygon points="236.9,227.5 238.9,225.1 239.1,221.0 238.2,220.5 231.1,220.5 229.6,226.7" fill="#e1ebf7"/>
<polygon points="193.4,252.6 192.3,259.5 192.9,260.1 198.6,258.9 203.5,258.4 202.5,254.1 199.5,251.5" fill="#d2e1f2"/>
<polygon points="198.2,235.4 203.2,231.8 203.7,227.1 196.3,227.4 195.2,229.5 194.0,234.1 191.6,235.1" fill="#ecf3fa"/>
<polygon points="191.6,235.1 188.2,236.5 186.3,238.8 198.5,245.9 203.9,243.6 203.3,239.1 198.2,235.4" fill="#e4eef7"/>
<polygon points="217.9,211.1 212.4,213.4 210.1,218.0 210.1,218.1 212.4,218.9 218.8,216.9" fill="#c7dbee"/>
<polygon points="239.1,221.0 238.9,225.1 245.4,230.0 247.3,228.8 251.6,219.0 250.7,218.0 249.0,215.7" fill="#eaf1f9"/>
<polygon points="202.5,254.1 203.5,258.4 204.4,258.3 210.1,259.5 212.4,262.9 211.9,250.7 207.7,247.3" fill="#d4e3f3"/>
<polygon points="226.4,238.6 219.3,230.6 215.0,234.3 214.9,236.7 218.2,240.0 226.4,239.5" fill="#f0f5fb"/>
<polygon points="219.5,229.2 225.6,227.1 224.8,218.8 221.1,218.9 217.6,226.2" fill="#d5e4f3"/>
<polygon points="114.5,207.1 116.8,205.9 120.3,198.4 123.7,197.9 128.3,200.7 137.6,199.6 143.3,198.4 144.5,196.7 145.6,198.2 150.2,199.0 151.4,203.0 154.8,207.6 156.0,210.5 151.4,213.4 150.2,216.9 152.5,220.3 151.4,226.1 147.9,231.3 145.0,231.3 142.2,233.6 138.7,234.7 134.1,234.1 130.6,236.5 126.0,235.3 122.8,230.7 122.6,223.8 120.3,220.3 118.0,214.6 116.2,210.0" fill="#bfd5ea" stroke="#707070" stroke-width="0.5"/>
<polygon points="150.2,199.0 175.6,199.0 174.4,203.0 172.1,210.0 170.4,214.6 171.0,219.2 168.7,223.8 172.1,228.4 176.7,230.7 174.4,237.6 169.8,236.5 167.5,231.8 164.1,235.3 159.4,237.6 153.7,239.9 152.0,242.2 149.7,237.6 147.9,231.8 151.4,226.1 152.5,220.3 150.2,216.9 151.4,213.4 156.0,210.5 154.8,207.6 151.4,203.0" fill="#a5c5e3" stroke="#707070" stroke-width="0.5"/>
<polygon points="175.6,199.0 184.2,198.2 188.2,200.2 185.9,203.0 183.6,207.6 188.2,212.3 191.7,216.9 198.6,219.2 199.8,221.5 197.5,224.9 195.2,229.5 194.0,234.1 188.2,236.5 185.4,239.9 179.0,234.1 176.7,230.7 172.1,228.4 168.7,223.8 171.0,219.2 170.4,214.6 172.1,210.0 174.4,203.0" fill="#b3cde7" stroke="#707070" stroke-width="0.5"/>
<polygon points="184.2,198.2 188.2,200.2 192.9,197.3 198.6,199.0 203.2,196.1 210.1,194.4 214.7,198.4 220.5,200.7 227.4,201.9 232.0,204.2 225.1,206.5 219.4,210.5 212.4,213.4 210.1,218.0 205.5,222.6 199.8,221.5 198.6,219.2 191.7,216.9 188.2,212.3 183.6,207.6 185.9,203.0" fill="#c0d6ec" stroke="#707070" stroke-width="0.5"/>
<polygon points="152.0,242.2 153.7,239.9 159.4,237.6 164.1,235.3 167.5,231.8 169.8,236.5 174.4,237.6 176.7,230.7 179.0,234.1 185.4,239.9 185.9,246.8 184.2,252.0 180.8,253.7 177.3,253.7 176.7,250.3 173.8,249.1 169.8,252.0 166.4,253.7 161.8,252.6 157.7,254.9 156.0,250.3 152.5,246.8 154.3,244.5" fill="#a8c7e4" stroke="#707070" stroke-width="0.5"/>
<polygon points="241.5,130.0 253.6,137.5 253.0,141.0 257.6,143.8 258.8,146.7 268.0,149.6 274.4,151.9 275.5,155.9 273.8,159.4 276.1,161.1 285.3,159.7 285.1,171.3 262.3,171.5 261.1,173.8 253.0,174.4 246.1,170.9 241.5,162.3 230.0,160.0 233.2,160.6 220.5,150.2 229.7,144.4 238.9,137.5 240.7,132.3" fill="#fdfeff" stroke="#707070" stroke-width="0.5"/>
<polygon points="233.2,160.6 230.0,160.0 241.5,162.3 246.1,170.9 253.0,174.4 261.1,173.8 262.3,171.5 285.1,171.3 285.3,181.3 283.6,186.9 282.4,196.1 278.4,199.6 268.0,200.2 253.0,201.3 243.8,204.8 236.6,203.6 235.5,200.0 234.3,183.6 226.3,182.4 224.5,176.7 229.7,173.2 232.6,169.8" fill="#eef4fa" stroke="#707070" stroke-width="0.5"/>
<polygon points="285.3,181.3 285.9,164.0 292.2,164.2 291.6,170.9 294.5,175.5 299.1,179.6 304.9,184.7 308.3,191.7 310.6,195.1 310.6,199.6 308.3,213.4 309.5,220.9 304.9,218.0 299.1,216.3 294.5,216.9 287.6,218.6 288.8,213.4 286.5,208.8 284.1,203.0 282.4,196.1 283.6,186.9" fill="#90b8dd" stroke="#707070" stroke-width="0.5"/>
<polygon points="311.2,199.1 318.7,199.1 327.9,198.0 337.1,194.0 351.0,184.7 365.9,177.6 365.4,210.0 356.7,214.6 352.1,222.1 346.4,223.2 341.8,226.1 337.1,226.7 331.4,226.1 326.8,223.2 328.5,214.6 322.2,208.8 318.7,201.9 317.6,199.6" fill="#8bb6dc" stroke="#707070" stroke-width="0.5"/>
<polygon points="310.6,199.6 317.6,199.6 318.7,201.9 322.2,208.8 328.5,214.6 326.8,223.2 322.2,222.4 317.6,223.8 312.9,224.4 309.5,220.9 308.3,213.4" fill="#94bbde" stroke="#707070" stroke-width="0.5"/>
<polygon points="365.9,177.6 377.5,171.5 402.5,170.9 402.5,183.6 397.1,186.9 391.3,193.8 384.4,203.0 380.9,210.0 382.1,218.0 376.3,219.7 371.7,223.2 365.9,223.5 359.0,221.8 352.1,222.1 356.7,214.6 365.4,210.0" fill="#e8f0f9" stroke="#707070" stroke-width="0.5"/>
<polygon points="243.8,204.8 253.0,201.3 268.0,200.2 278.4,199.6 282.4,196.1 284.1,203.0 286.5,208.8 280.7,213.4 273.8,216.9 268.0,223.8 268.6,229.5 270.3,232.4 268.0,234.1 264.6,232.4 263.4,229.0 260.0,227.2 253.0,223.2 254.2,222.1 250.7,218.0 245.6,211.1" fill="#aac9e6" stroke="#707070" stroke-width="0.5"/>
<polygon points="286.5,208.8 280.7,213.4 273.8,216.9 268.0,223.8 268.6,229.5 270.3,232.4 274.9,235.3 279.0,237.6 279.5,229.5 284.1,222.1 287.6,218.6 288.8,213.4" fill="#c6daee" stroke="#707070" stroke-width="0.5"/>
<polygon points="279.5,229.5 284.1,222.1 287.6,218.6 294.5,216.9 299.1,216.3 304.9,218.0 309.5,220.9 312.9,224.4 315.3,226.1 308.9,224.4 304.3,226.1 299.7,230.7 293.9,235.3 293.9,238.2 297.4,239.9 303.2,242.8 304.9,246.8 302.0,245.7 295.1,244.5 290.5,249.1 285.9,246.8 280.1,248.0 280.7,249.1 279.5,242.2 279.0,237.6" fill="#85b3dc" stroke="#707070" stroke-width="0.5"/>
<polygon points="325.6,231.8 330.2,230.7 333.7,234.1 336.0,237.6 338.3,241.1 334.8,243.9 332.5,246.8 332.0,250.3 330.2,246.8 326.8,242.2 322.7,241.1 323.3,235.3" fill="#153a7a" stroke="#707070" stroke-width="0.5"/>
<polygon points="315.3,226.1 322.2,223.2 330.2,226.7 331.4,230.7 325.6,231.8 323.3,235.3 322.7,241.1 317.6,243.4 313.5,241.1 315.8,235.3" fill="#3a7fb9" stroke="#707070" stroke-width="0.5"/>
<polygon points="305.5,250.3 310.6,246.8 317.6,243.4 322.7,241.6 326.8,242.8 330.2,247.4 332.0,250.9 331.4,258.3 329.1,266.4 323.3,265.3 317.6,263.5 317.0,258.3 312.9,253.7 308.3,253.7" fill="#3a7fb9" stroke="#707070" stroke-width="0.5"/>
<polygon points="333.1,248.0 338.3,243.9 344.1,245.7 349.8,249.1 352.1,254.9 355.0,260.6 349.8,262.4 344.1,260.6 339.4,261.8 336.0,258.3 332.5,254.9" fill="#5598cd" stroke="#707070" stroke-width="0.5"/>
<polygon points="331.4,226.1 340.6,226.7 346.4,225.5 351.0,230.7 349.8,230.7 342.9,234.1 345.2,239.9 344.1,245.1 338.9,243.4 336.6,237.6 333.7,233.6 331.4,230.7" fill="#6ea6d5" stroke="#707070" stroke-width="0.5"/>
<polygon points="342.9,234.1 349.8,230.7 353.3,235.3 354.4,242.2 352.1,244.5 348.7,248.0 344.1,245.1 345.2,239.9" fill="#5598cd" stroke="#707070" stroke-width="0.5"/>
<polygon points="351.0,223.8 368.2,223.8 370.6,228.4 368.2,237.6 367.1,245.7 362.5,251.4 356.7,244.5 355.0,239.9 353.3,235.3 351.0,230.7 346.4,225.5" fill="#a8c8e5" stroke="#707070" stroke-width="0.5"/>
<polygon points="370.6,223.8 376.3,219.7 382.1,218.0 385.0,221.5 387.8,226.1 389.0,231.8 392.4,234.1 393.0,239.3 390.7,242.8 385.5,246.2 382.1,251.4 377.5,252.0 370.6,256.0 364.8,254.9 362.5,251.4 367.1,245.7 368.2,237.6 370.6,228.4" fill="#66a3d4" stroke="#707070" stroke-width="0.5"/>
<polygon points="352.1,244.5 356.7,244.5 362.5,251.4 364.8,254.9 361.3,260.6 355.0,260.6 352.1,254.9 349.8,249.1" fill="#a8c8e5" stroke="#707070" stroke-width="0.5"/>
<polygon points="270.3,273.3 276.1,269.9 280.7,266.4 284.1,271.0 288.2,277.9 284.1,281.4 283.0,288.3 278.4,284.8 273.8,282.5 270.9,279.1" fill="#3d82bb" stroke="#707070" stroke-width="0.5"/>
<polygon points="274.4,293.5 279.5,292.9 284.1,294.1 285.3,295.6 274.4,295.8" fill="#0d3475" stroke="#707070" stroke-width="0.5"/>
<polygon points="280.1,248.0 285.9,246.8 290.5,249.1 295.1,244.5 302.0,245.7 304.9,249.1 306.6,252.6 312.4,251.4 315.8,256.0 317.0,260.6 315.8,266.4 311.2,267.6 310.6,276.2 306.6,272.2 299.7,268.7 290.5,265.3 287.0,260.6 282.4,256.0 279.5,253.7" fill="#70a7d5" stroke="#707070" stroke-width="0.5"/>
<polygon points="293.9,235.3 299.7,230.7 304.3,226.1 308.9,224.4 314.1,224.9 315.3,230.7 314.7,237.6 311.2,242.2 308.9,245.7 304.9,246.8 303.2,242.8 297.4,239.9 293.9,238.2" fill="#85b3dc" stroke="#707070" stroke-width="0.5"/>
<polygon points="290.5,246.2 292.8,242.8 297.4,241.6 302.0,242.8 304.9,246.8 304.9,249.1 302.0,245.7 295.1,244.5 290.5,249.1" fill="#85b3dc" stroke="#707070" stroke-width="0.5"/>
<polygon points="312.4,267.6 319.9,265.8 329.1,267.0 333.7,271.0 338.3,275.6 333.7,277.9 327.9,279.1 321.0,280.2 314.1,279.1 312.9,273.3" fill="#bfd6ec" stroke="#707070" stroke-width="0.5"/>
<polygon points="322.2,280.2 330.2,277.9 338.3,280.2 343.5,283.7 342.3,289.4 337.1,290.6 331.4,289.4 325.6,288.3 322.7,284.8" fill="#6ea6d5" stroke="#707070" stroke-width="0.5"/>
<polygon points="338.3,275.6 344.1,272.2 351.0,262.9 355.0,260.6 361.3,260.6 364.8,267.6 362.5,275.6 360.2,283.7 356.7,288.3 354.4,291.8 351.5,288.9 347.5,291.2 344.1,292.3 342.3,289.4 343.5,283.7" fill="#aecbe7" stroke="#707070" stroke-width="0.5"/>
<polygon points="364.8,254.9 370.6,256.0 377.5,252.0 382.1,251.4 382.1,253.7 378.6,260.6 375.2,267.6 372.9,272.2 370.0,277.9 367.1,283.7 364.2,289.4 360.8,294.1 357.9,294.6 356.7,288.3 360.2,283.7 362.5,275.6 364.8,267.6 361.3,260.6" fill="#8db8dd" stroke="#707070" stroke-width="0.5"/>
<polygon points="329.1,290.6 337.1,290.6 340.6,296.4 337.1,301.0 333.7,305.6 332.5,312.5 330.2,315.4 327.9,315.9 322.2,315.4 321.0,307.9 324.5,304.4 325.6,295.2" fill="#7fb0da" stroke="#707070" stroke-width="0.5"/>
<polygon points="309.5,307.9 315.3,305.6 318.7,310.2 317.6,315.4 314.1,314.2 310.6,317.1" fill="#4a90c8" stroke="#707070" stroke-width="0.5"/>
<polygon points="296.2,304.4 301.4,301.0 308.3,302.1 309.5,307.9 310.6,317.1 304.9,317.7 300.9,314.8 298.0,310.2" fill="#6ea6d5" stroke="#707070" stroke-width="0.5"/>
<polygon points="310.6,276.2 311.2,267.6 315.8,266.4 317.6,263.5 323.3,265.3 329.1,266.4 329.1,267.0 319.9,265.8 312.4,267.6 312.9,273.3 314.1,279.1" fill="#a9c8e5" stroke="#707070" stroke-width="0.5"/>
<polygon points="294.5,279.1 301.4,275.6 306.6,272.2 310.6,276.2 314.1,279.1 321.0,280.2 322.2,280.2 322.7,284.8 319.9,290.6 312.9,292.9 306.0,290.6 299.1,288.3 295.7,283.7" fill="#94bcdf" stroke="#707070" stroke-width="0.5"/>
<polygon points="284.1,281.4 288.2,277.9 294.5,279.1 295.7,283.7 299.1,288.3 306.0,290.6 304.9,296.4 301.4,301.0 296.2,304.4 292.8,300.4 287.6,296.9 285.3,295.6 284.1,294.1 283.0,288.3" fill="#7db0da" stroke="#707070" stroke-width="0.5"/>
<polygon points="312.9,292.9 319.9,290.6 325.6,288.3 325.6,295.2 324.5,304.4 321.0,307.9 315.3,305.6 309.5,307.9 308.3,302.1 304.9,296.4 306.0,290.6" fill="#8ab7dc" stroke="#707070" stroke-width="0.5"/>
<polygon points="217.1,294.1 220.5,288.3 227.4,284.3 234.3,285.4 238.9,287.1 234.3,290.6 230.9,296.4 228.0,301.0 222.8,299.8 219.4,296.4" fill="#5a9bd0" stroke="#707070" stroke-width="0.5"/>
<polygon points="230.9,296.4 234.3,290.6 238.9,287.1 243.5,288.3 242.4,295.2 238.9,301.0 233.2,302.7 229.1,301.0" fill="#a9c8e5" stroke="#707070" stroke-width="0.5"/>
<polygon points="236.6,305.0 244.7,301.0 249.3,301.9 243.5,304.4 238.9,306.7" fill="#5a9bd0" stroke="#707070" stroke-width="0.5"/>
<polygon points="228.0,260.6 234.3,253.7 242.4,254.9 244.7,262.9 243.5,272.2 236.6,271.0 229.7,267.6" fill="#d3e3f2" stroke="#707070" stroke-width="0.5"/>
<polygon points="156.0,281.4 162.3,274.5 167.5,279.1 168.1,295.2 168.7,301.0 164.6,302.1 160.6,298.7 156.0,295.2 154.8,290.6" fill="#c3d8ec" stroke="#707070" stroke-width="0.5"/>
<polygon points="169.2,282.5 180.2,281.4 183.6,287.1 184.2,294.1 176.7,296.9 169.8,296.4" fill="#bcd3ea" stroke="#707070" stroke-width="0.5"/>
<polygon points="165.2,303.3 168.7,301.0 175.6,298.7 183.6,306.7 188.2,307.9 182.5,311.3 171.0,315.4 163.5,318.2 164.6,306.7" fill="#c9dcef" stroke="#707070" stroke-width="0.5"/>
<polygon points="172.1,258.3 188.2,257.2 194.0,262.9 199.8,269.9 197.5,274.5 188.2,272.2 183.6,265.3 176.7,267.6 171.0,265.3" fill="#d3e2f1" stroke="#707070" stroke-width="0.5"/>
<polygon points="197.5,305.0 202.1,305.0 202.1,308.5 197.5,308.5" fill="#5a9bd0" stroke="#707070" stroke-width="0.5"/>
<polygon points="130.6,244.5 137.6,239.9 145.6,237.6 149.7,237.6 152.0,242.2 154.3,244.5 152.5,246.8 156.0,250.3 157.7,254.9 157.1,260.6 159.4,265.3 160.6,271.0 162.3,274.5 157.1,275.6 156.0,280.2 154.3,283.1 150.2,286.0 147.4,284.8 144.5,279.1 145.6,269.9 141.0,268.7 137.6,262.9 134.1,258.3 135.3,251.4" fill="#c9dcef" stroke="#707070" stroke-width="0.5"/>
<polygon points="96.1,244.5 103.0,242.2 107.6,249.1 114.5,253.7 112.8,259.5 108.8,264.1 106.5,267.0 104.1,268.7 100.7,264.1 99.5,260.6 96.1,257.2 98.4,251.4" fill="#d0e0f1" stroke="#707070" stroke-width="0.5"/>
<polygon points="112.8,259.5 119.1,257.8 125.5,258.3 128.3,262.9 131.2,269.9 124.9,272.2 118.0,273.3 107.6,271.0 106.5,267.0 108.8,264.1" fill="#c6daee" stroke="#707070" stroke-width="0.5"/>
<polygon points="198.6,226.1 211.3,223.8 213.6,234.1 209.0,242.2 199.8,244.5 189.4,239.9 194.0,234.1 195.2,229.5" fill="#cfe0f1" stroke="#707070" stroke-width="0.5"/>
<polygon points="188.2,242.2 195.2,239.9 198.6,244.5 192.9,248.0 187.7,246.2" fill="#d5e4f3" stroke="#707070" stroke-width="0.5"/>
<polygon points="230.0,218.0 236.9,214.6 242.7,218.0 246.1,226.1 241.5,234.1 234.6,235.3 230.0,231.8" fill="#c9dcef" stroke="#707070" stroke-width="0.5"/>
<polygon points="220.5,230.7 227.4,229.5 229.7,235.3 222.8,236.5" fill="#a9c8e5" stroke="#707070" stroke-width="0.5"/>
<polygon points="62.7,204.8 67.3,199.6 73.0,200.7 76.5,207.6 73.0,213.4 67.9,214.6 66.1,212.3 62.7,208.2" fill="#cfe0f1" stroke="#707070" stroke-width="0.5"/>
<polygon points="71.9,191.5 89.2,188.6 96.1,193.8 90.3,203.0 88.0,199.6 78.8,197.3 73.0,198.4" fill="#e9f1f9" stroke="#707070" stroke-width="0.5"/>
<use href="#mapl"/>
</g>
<g transform="translate(615,0)" clip-path="url(#mc)">
<polygon points="140.2,26.0 139.6,31.5 138.9,35.6 141.6,38.4 141.0,43.0 137.6,48.2 132.9,52.8 126.0,56.9 121.4,60.9 114.5,63.5 107.6,64.7 105.3,67.8 103.0,73.6 100.7,77.0 95.5,80.5 91.5,83.4 89.7,89.1 87.4,94.9 87.1,99.5 82.3,103.5 77.6,108.7 74.8,114.5 73.0,120.2 70.7,124.3 67.3,126.6 65.6,130.6 65.0,135.6 120.0,170.0 300.0,250.0 330.2,315.4 333.7,318.2 338.3,321.7 341.8,324.0 344.1,329.8 343.5,340.1 340.6,350.5 339.4,359.7 338.3,368.9 333.7,373.5 336.0,381.6 415.8,381.6 415.8,26.0" fill="#e5e5e5" stroke="none" stroke-width="0.5"/>
<polygon points="65.0,135.6 63.8,141.0 66.1,139.8 69.6,144.4 72.5,147.9 73.0,151.3 70.7,153.6 71.3,157.7 73.6,160.6 74.8,167.5 74.8,174.4 73.0,181.3 71.3,188.8 78.8,186.3 89.2,186.7 94.9,189.2 99.5,192.1 103.0,193.2 105.3,197.3 108.8,201.9 112.2,205.3 114.5,207.1 116.8,205.9 120.3,198.4 123.7,197.9 128.3,200.7 137.6,199.6 143.3,198.4 144.5,196.7 145.6,198.2 184.2,198.2 186.5,189.9 184.2,189.4 181.3,164.0 177.9,135.2 175.0,117.9 173.8,96.4 190.0,96.0 151.4,72.4 151.4,86.0 117.2,86.0 116.8,113.1 107.6,113.9 105.3,117.9 106.5,135.6" fill="#f3f2f9" stroke="none" stroke-width="0.5"/>
<polygon points="190.0,96.0 173.8,96.4 175.0,117.9 177.9,135.2 181.3,164.0 184.2,189.4 186.5,189.9 184.2,198.2 145.6,198.2 144.5,196.7 143.3,198.4 137.6,199.6 128.3,200.7 123.7,197.9 120.3,198.4 116.8,205.9 114.5,207.1 116.2,210.0 118.0,214.6 120.3,220.3 122.6,223.8 122.8,230.7 126.0,235.3 130.6,236.5 134.1,234.1 138.7,234.7 142.2,233.6 145.0,231.3 147.9,231.8 149.7,237.6 152.0,242.2 154.3,244.5 152.5,246.8 156.0,250.3 157.7,254.9 161.8,252.6 166.4,253.7 169.8,252.0 173.8,249.1 176.7,250.3 177.3,253.7 180.8,253.7 184.2,252.0 185.9,246.8 185.4,239.9 188.2,236.5 194.0,234.1 195.2,229.5 197.5,224.9 199.8,221.5 205.5,222.6 210.1,218.0 212.4,213.4 219.4,210.5 225.1,206.5 232.0,204.2 243.8,204.8 253.0,201.3 268.0,200.2 278.4,199.6 282.4,196.1 283.6,186.9 285.3,181.3 285.3,159.7 276.1,161.1 273.8,159.4 275.5,155.9 274.4,151.9 268.0,149.6 258.8,146.7 257.6,143.8 253.0,141.0 253.6,137.5 230.0,122.0 190.0,96.0" fill="#ebeaf5" stroke="none" stroke-width="0.5"/>
<polygon points="285.3,159.7 301.4,155.9 318.7,141.0 365.9,112.4 379.8,115.6 388.4,121.7 397.6,117.9 398.8,130.6 402.8,139.8 407.4,146.7 404.5,152.5 403.4,164.0 402.2,170.9 402.5,183.6 397.1,186.9 391.3,193.8 384.4,203.0 380.9,210.0 382.1,218.0 376.3,219.7 371.7,223.2 365.9,223.5 359.0,221.8 352.1,222.1 346.4,223.2 341.8,226.1 337.1,226.7 331.4,226.1 326.8,223.2 322.2,222.4 317.6,223.8 312.9,224.4 309.5,220.9 304.9,218.0 299.1,216.3 294.5,216.9 287.6,218.6 284.1,222.1 279.5,229.5 279.0,237.6 274.9,235.3 270.3,232.4 268.0,234.1 264.6,232.4 263.4,229.0 260.0,227.2 253.0,223.2 254.2,222.1 250.7,218.0 245.6,211.1 243.8,204.8 253.0,201.3 268.0,200.2 278.4,199.6 282.4,196.1 283.6,186.9 285.3,181.3 285.3,159.7" fill="#eeedf7" stroke="none" stroke-width="0.5"/>
<polygon points="279.0,237.6 279.5,229.5 284.1,222.1 287.6,218.6 294.5,216.9 299.1,216.3 304.9,218.0 309.5,220.9 312.9,224.4 317.6,223.8 322.2,222.4 326.8,223.2 331.4,226.1 337.1,226.7 341.8,226.1 346.4,223.2 352.1,222.1 359.0,221.8 365.9,223.5 371.7,223.2 376.3,219.7 382.1,218.0 385.0,221.5 387.8,226.1 389.0,231.8 392.4,234.1 393.0,239.3 390.7,242.8 385.5,246.2 382.1,253.7 378.6,260.6 375.2,267.6 372.9,272.2 370.0,277.9 367.1,283.7 364.2,289.4 360.8,294.1 357.9,294.6 354.4,291.8 351.5,288.9 347.5,291.2 344.1,292.3 340.6,296.4 337.1,301.0 333.7,305.6 332.5,312.5 330.2,315.4 327.9,315.9 321.0,315.9 314.1,314.2 310.6,317.7 304.9,317.7 300.9,314.8 298.0,310.2 296.2,304.4 292.8,300.4 287.6,296.9 280.7,295.2 269.7,295.8 269.7,283.7 270.3,272.2 271.5,267.6 276.1,260.6 279.5,253.7 280.7,249.1 279.5,242.2 279.0,237.6" fill="#cfcfe7" stroke="none" stroke-width="0.5"/>
<polygon points="250.2,251.4 253.0,246.8 257.6,242.8 264.6,240.5 268.0,234.1 270.3,232.4 274.9,235.3 279.0,237.6 279.5,242.2 280.7,249.1 279.5,253.7 276.1,260.6 271.5,267.6 270.3,272.2 269.7,283.7 269.7,295.8 258.8,297.5 258.8,289.4 258.2,277.9 257.1,267.6 254.8,260.6 250.7,256.0 250.2,251.4" fill="#efeef7" stroke="none" stroke-width="0.5"/>
<polygon points="240.9,246.2 241.5,249.1 243.8,253.7 246.1,260.6 247.3,272.2 247.9,283.7 248.4,295.2 251.9,299.8 258.8,297.5 258.8,289.4 258.2,277.9 257.1,267.6 254.8,260.6 250.7,256.0 250.2,251.4 245.0,246.8 240.9,246.2" fill="#e9e8f3" stroke="none" stroke-width="0.5"/>
<polygon points="184.2,252.0 185.9,246.8 185.4,239.9 188.2,236.5 194.0,234.1 195.2,229.5 197.5,224.9 199.8,221.5 205.5,222.6 210.1,218.0 212.4,213.4 219.4,210.5 225.1,206.5 232.0,204.2 243.8,204.8 245.6,211.1 250.7,218.0 254.2,222.1 253.0,223.2 260.0,227.2 263.4,229.0 264.6,232.4 268.0,234.1 264.6,240.5 257.6,242.8 253.0,246.8 250.2,251.4 245.0,246.8 240.9,246.2 234.3,246.2 222.8,246.8 213.6,247.4 211.9,249.1 212.4,262.9 210.1,259.5 204.4,258.3 198.6,258.9 192.9,260.1 188.2,256.0 184.2,252.0" fill="#e3e2f0" stroke="none" stroke-width="0.5"/>
<polygon points="212.4,262.9 211.9,249.1 213.6,247.4 222.8,246.8 234.3,246.2 240.9,246.2 241.5,249.1 243.8,253.7 246.1,260.6 247.3,272.2 247.9,283.7 248.4,295.2 251.9,299.8 243.5,304.4 234.3,307.9 226.3,310.8 219.9,314.2 213.6,310.8 212.4,304.4 210.1,297.5 209.0,290.6 211.3,283.7 214.7,277.9 213.6,271.0 212.4,262.9" fill="#ebeaf4" stroke="none" stroke-width="0.5"/>
<polygon points="157.7,254.9 161.8,252.6 166.4,253.7 169.8,252.0 173.8,249.1 176.7,250.3 177.3,253.7 180.8,253.7 184.2,252.0 188.2,256.0 192.9,260.1 198.6,258.9 204.4,258.3 210.1,259.5 212.4,262.9 213.6,271.0 214.7,277.9 211.3,283.7 209.0,290.6 210.1,297.5 212.4,304.4 213.6,310.8 205.5,309.0 194.0,309.0 182.5,311.3 171.0,315.4 163.5,318.2 164.6,306.7 163.5,302.1 160.6,298.7 156.0,295.2 154.8,290.6 154.3,283.1 156.0,280.2 157.1,275.6 162.3,274.5 160.6,271.0 159.4,265.3 157.1,260.6 157.7,254.9" fill="#e6e5f1" stroke="none" stroke-width="0.5"/>
<polygon points="123.7,291.2 124.9,287.1 129.5,281.4 132.4,275.6 134.7,273.9 138.7,273.3 142.7,275.6 144.5,279.1 147.4,284.8 150.2,286.0 154.3,283.1 154.8,290.6 156.0,295.2 160.6,298.7 163.5,302.1 164.6,306.7 163.5,318.2 158.3,316.5 151.4,313.1 144.5,307.9 137.6,302.1 130.6,296.4 123.7,291.2" fill="#f0eff7" stroke="none" stroke-width="0.5"/>
<polygon points="104.1,268.7 106.5,267.0 108.8,264.1 112.8,259.5 119.1,257.8 125.5,258.3 128.3,262.9 131.2,269.9 132.4,275.6 129.5,281.4 124.9,287.1 123.7,291.2 114.5,286.0 109.9,283.1 106.5,280.2 105.3,274.5 104.1,268.7" fill="#dcdbec" stroke="none" stroke-width="0.5"/>
<polygon points="84.6,243.4 89.2,241.6 95.5,239.3 99.5,237.6 99.5,229.8 104.1,229.8 107.6,230.7 114.5,231.3 122.8,230.7 126.0,235.3 130.6,236.5 134.1,234.1 138.7,234.7 142.2,233.6 145.0,231.3 147.9,231.8 149.7,237.6 152.0,242.2 154.3,244.5 152.5,246.8 156.0,250.3 157.7,254.9 157.1,260.6 159.4,265.3 160.6,271.0 162.3,274.5 157.1,275.6 156.0,280.2 154.3,283.1 150.2,286.0 147.4,284.8 144.5,279.1 142.7,275.6 138.7,273.3 134.7,273.9 132.4,275.6 131.2,269.9 128.3,262.9 125.5,258.3 119.1,257.8 112.8,259.5 108.8,264.1 106.5,267.0 104.1,268.7 100.7,264.1 99.5,260.6 96.1,257.2 91.5,253.7 89.2,249.1 85.7,244.5 84.6,243.4" fill="#e6e5f2" stroke="none" stroke-width="0.5"/>
<polygon points="67.3,230.7 78.8,230.1 84.6,229.0 99.5,229.8 69.0,234.1 71.3,237.6 72.5,242.2 74.8,245.1 78.8,244.5 82.3,242.2 84.6,243.4 89.2,241.6 95.5,239.3 99.5,237.6 99.5,229.8" fill="#f1f0f8" stroke="none" stroke-width="0.5"/>
<polygon points="71.3,187.5 78.8,186.3 89.2,186.7 94.9,189.2 99.5,192.1 103.0,193.2 105.3,197.3 108.8,201.9 112.2,205.3 114.5,207.1 116.2,210.0 118.0,214.6 120.3,220.3 122.6,223.8 122.8,230.7 114.5,231.3 107.6,230.7 104.1,229.8 99.5,229.8 84.6,229.0 78.8,230.1 67.3,230.7 67.9,226.1 68.4,219.2 67.9,214.6 66.1,212.3 62.7,208.2 59.8,206.7 62.7,204.8 67.3,199.6 70.2,192.7 71.3,187.5" fill="#ebeaf4" stroke="none" stroke-width="0.5"/>
<polygon points="68.4,219.7 78.8,219.7 83.4,217.4 88.0,218.6 92.6,220.3 97.8,220.3 98.4,222.1 93.8,222.9 88.0,221.5 83.4,220.9 78.8,222.9 68.4,223.2" fill="#e5e4f1" stroke="none" stroke-width="0.5"/>
<polygon points="72.1,225.4 72.0,222.0 68.2,221.5 67.9,226.1 67.3,230.7 68.3,230.6" fill="#eeedf5"/>
<polygon points="87.0,210.1 93.4,209.5 94.1,201.4 87.6,200.8" fill="#e9e8f3"/>
<polygon points="105.0,222.5 98.8,214.7 96.6,216.9 96.2,225.0 100.2,229.8 103.8,229.8" fill="#efeff6"/>
<polygon points="108.8,208.6 115.4,208.5 114.5,207.1 112.2,205.3 108.8,201.9 107.8,200.7" fill="#e8e7f2"/>
<polygon points="85.3,212.9 80.9,219.4 84.1,226.4 86.4,225.5 91.8,217.1" fill="#f6f5fa"/>
<polygon points="72.1,225.4 68.3,230.6 78.8,230.1 82.9,229.3" fill="#f0eff7"/>
<polygon points="72.1,200.8 68.4,206.4 75.3,209.7 78.3,207.5 78.7,201.6" fill="#e0e0ef"/>
<polygon points="72.1,200.8 78.7,201.6 80.7,199.7 78.9,193.0 70.8,189.9 70.2,192.7 68.9,195.8" fill="#e2e2f0"/>
<polygon points="84.4,186.5 78.8,186.3 71.3,187.5 70.8,189.9 78.9,193.0 84.3,187.7" fill="#f0eff7"/>
<polygon points="108.8,208.6 106.7,212.4 107.6,213.5 117.2,214.3 117.8,214.1 116.2,210.0 115.4,208.5" fill="#e3e2f0"/>
<polygon points="95.6,191.0 96.7,200.3 100.3,201.5 106.7,199.2 105.3,197.3 103.0,193.2 99.5,192.1 96.3,190.1" fill="#f0eff7"/>
<polygon points="119.1,222.2 118.3,231.0 122.8,230.7 122.6,223.8 120.4,220.5" fill="#e1e0ef"/>
<polygon points="68.4,206.4 72.1,200.8 68.9,195.8 67.3,199.6 62.7,204.8 59.8,206.7 62.7,208.2 62.7,208.3" fill="#e5e5f1"/>
<polygon points="98.8,214.7 105.0,222.5 109.2,219.2 107.6,213.5 106.7,212.4 100.6,212.8 99.1,213.9" fill="#edecf5"/>
<polygon points="107.6,213.5 109.2,219.2 111.8,220.3 117.2,214.3" fill="#f1f0f7"/>
<polygon points="78.3,207.5 75.3,209.7 74.9,211.4 79.0,218.9 80.9,219.4 85.3,212.9 85.3,212.2" fill="#f7f6fa"/>
<polygon points="119.1,222.2 112.7,221.8 111.0,231.0 114.5,231.3 118.3,231.0" fill="#e2e2f0"/>
<polygon points="96.6,216.9 98.8,214.7 99.1,213.9 93.4,209.5 87.0,210.1 85.3,212.2 85.3,212.9 91.8,217.1" fill="#f6f6fa"/>
<polygon points="62.7,208.3 66.1,212.3 67.7,214.3 70.0,214.8 74.9,211.4 75.3,209.7 68.4,206.4" fill="#e4e3f0"/>
<polygon points="78.3,207.5 85.3,212.2 87.0,210.1 87.6,200.8 87.0,200.3 80.7,199.7 78.7,201.6" fill="#e0e0ef"/>
<polygon points="86.4,225.5 96.2,225.0 96.6,216.9 91.8,217.1" fill="#e9e8f3"/>
<polygon points="95.6,191.0 96.3,190.1 94.9,189.2 89.2,186.7 84.4,186.5 84.3,187.7 88.9,192.1" fill="#f3f2f8"/>
<polygon points="87.0,200.3 88.9,192.1 84.3,187.7 78.9,193.0 80.7,199.7" fill="#e3e2f0"/>
<polygon points="84.1,226.4 83.2,229.2 84.6,229.0 99.5,229.8 100.2,229.8 96.2,225.0 86.4,225.5" fill="#e0dfef"/>
<polygon points="100.6,212.8 100.3,201.5 96.7,200.3 94.1,201.4 93.4,209.5 99.1,213.9" fill="#e6e5f2"/>
<polygon points="111.8,220.3 112.7,221.8 119.1,222.2 120.4,220.5 120.3,220.3 118.0,214.6 117.8,214.1 117.2,214.3" fill="#eeedf6"/>
<polygon points="79.0,218.9 73.5,220.1 72.0,222.0 72.1,225.4 82.9,229.3 83.2,229.2 84.1,226.4 80.9,219.4" fill="#efeef6"/>
<polygon points="108.8,208.6 107.8,200.7 106.7,199.2 100.3,201.5 100.6,212.8 106.7,212.4" fill="#f2f1f8"/>
<polygon points="87.6,200.8 94.1,201.4 96.7,200.3 95.6,191.0 88.9,192.1 87.0,200.3" fill="#e7e6f2"/>
<polygon points="72.0,222.0 73.5,220.1 70.0,214.8 67.7,214.3 67.9,214.6 68.4,219.2 68.2,221.5" fill="#edecf5"/>
<polygon points="74.9,211.4 70.0,214.8 73.5,220.1 79.0,218.9" fill="#f2f2f8"/>
<polygon points="85.9,235.7 92.8,238.6 94.3,234.9 93.2,230.7 85.2,231.8" fill="#f0eff7"/>
<polygon points="87.5,242.3 89.2,241.6 92.9,240.3 92.8,238.6 85.9,235.7 83.9,238.9" fill="#f7f6fb"/>
<polygon points="78.4,238.7 81.5,239.7 83.9,238.9 85.9,235.7 85.2,231.8 79.4,232.7" fill="#eeedf7"/>
<polygon points="94.3,234.9 92.8,238.6 92.9,240.3 95.5,239.3 99.5,237.6 99.5,235.3" fill="#f5f4fa"/>
<polygon points="94.3,234.9 99.5,235.3 99.5,229.8 93.2,230.7" fill="#eeedf7"/>
<polygon points="81.5,239.7 82.0,242.4 82.3,242.2 84.6,243.4 87.5,242.3 83.9,238.9" fill="#f4f3fa"/>
<polygon points="78.4,238.7 72.3,241.6 72.5,242.2 74.8,245.1 78.8,244.5 82.0,242.4 81.5,239.7" fill="#eeedf6"/>
<polygon points="78.4,238.7 79.4,232.7 69.0,234.1 71.3,237.6 72.3,241.6" fill="#f0eff7"/>
<polygon points="111.2,258.6 104.7,255.2 97.2,258.3 99.5,260.6 100.7,264.1 104.1,268.7 106.5,267.0 108.8,264.1 112.1,260.3" fill="#deddee"/>
<polygon points="109.6,238.2 108.2,237.7 100.1,241.2 99.5,246.4 103.1,248.2 108.2,246.2 110.9,241.3" fill="#e2e1f0"/>
<polygon points="142.2,255.6 145.8,259.0 152.0,259.5 155.0,256.4 150.2,252.3 143.2,254.5" fill="#deddee"/>
<polygon points="130.7,242.1 135.6,242.7 137.8,238.9 135.0,234.3 134.1,234.1 130.6,236.5 129.1,236.1" fill="#dedeee"/>
<polygon points="139.0,258.7 139.2,266.0 146.7,269.6 147.6,269.4 145.8,259.0 142.2,255.6 140.9,255.9" fill="#dedeee"/>
<polygon points="108.2,237.7 109.6,238.2 115.1,231.2 114.5,231.3 107.6,230.7 104.1,229.8 101.4,229.8" fill="#e5e4f1"/>
<polygon points="99.5,246.4 100.1,241.2 97.9,238.3 95.5,239.3 89.2,241.6 84.6,243.4 85.7,244.5 89.2,249.1 90.0,250.7" fill="#f5f4fa"/>
<polygon points="136.0,251.3 137.4,245.2 135.6,242.7 130.7,242.1 127.3,246.4 129.8,251.4" fill="#e1e0f0"/>
<polygon points="127.3,246.4 120.0,245.2 119.5,246.5 121.8,258.0 125.5,258.3 126.0,259.2 129.8,251.4" fill="#f0eff7"/>
<polygon points="160.4,274.0 157.8,275.5 162.3,274.5 162.2,274.3" fill="#ecebf5"/>
<polygon points="146.1,282.4 147.4,284.8 150.2,286.0 154.3,283.1 156.0,280.2 157.1,275.9" fill="#e3e2f0"/>
<polygon points="143.0,244.9 144.6,237.6 144.5,237.6 137.8,238.9 135.6,242.7 137.4,245.2" fill="#e9e8f3"/>
<polygon points="147.6,269.4 152.4,270.0 152.0,259.5 145.8,259.0" fill="#ddddee"/>
<polygon points="109.6,238.2 110.9,241.3 119.8,244.8 123.1,231.1 122.8,230.7 115.1,231.2" fill="#e4e3f1"/>
<polygon points="142.2,255.6 143.2,254.5 144.1,246.3 143.0,244.9 137.4,245.2 136.0,251.3 140.9,255.9" fill="#ebeaf4"/>
<polygon points="103.1,248.2 99.5,246.4 90.0,250.7 91.5,253.7 96.1,257.2 97.2,258.3 104.7,255.2" fill="#ededf6"/>
<polygon points="157.6,256.2 157.7,254.9 156.0,250.3 152.5,246.8 154.3,244.5 153.9,244.1 151.8,246.0 150.2,252.3 155.0,256.4" fill="#dfdeee"/>
<polygon points="139.2,266.0 139.0,258.7 127.0,260.9 128.3,262.9 131.2,269.9 131.4,270.7" fill="#e7e6f2"/>
<polygon points="139.0,258.7 140.9,255.9 136.0,251.3 129.8,251.4 126.0,259.2 127.0,260.9" fill="#e1e0ef"/>
<polygon points="146.7,269.6 139.2,266.0 131.4,270.7 132.4,275.6 134.7,273.9 138.7,273.3 142.4,275.4" fill="#eaeaf4"/>
<polygon points="119.5,246.5 120.0,245.2 119.8,244.8 110.9,241.3 108.2,246.2 112.5,252.1" fill="#efeef7"/>
<polygon points="108.2,246.2 103.1,248.2 104.7,255.2 111.2,258.6 112.5,252.1" fill="#e5e4f2"/>
<polygon points="151.8,246.0 153.9,244.1 152.0,242.2 149.8,237.9 144.6,237.6 143.0,244.9 144.1,246.3" fill="#e0dfef"/>
<polygon points="137.8,238.9 144.5,237.6 142.9,233.0 142.2,233.6 138.7,234.7 135.0,234.3" fill="#f0eff7"/>
<polygon points="100.1,241.2 108.2,237.7 101.4,229.8 99.5,229.8 99.5,237.6 97.9,238.3" fill="#e0e0ef"/>
<polygon points="119.8,244.8 120.0,245.2 127.3,246.4 130.7,242.1 129.1,236.1 126.0,235.3 123.1,231.1" fill="#deddee"/>
<polygon points="146.7,269.6 142.4,275.4 142.7,275.6 144.5,279.1 146.1,282.4 157.1,275.9 157.1,275.6 157.8,275.5 160.4,274.0 152.4,270.0 147.6,269.4" fill="#e0dfef"/>
<polygon points="150.2,252.3 151.8,246.0 144.1,246.3 143.2,254.5" fill="#e0dfef"/>
<polygon points="119.5,246.5 112.5,252.1 111.2,258.6 112.1,260.3 112.8,259.5 119.1,257.8 121.8,258.0" fill="#f5f4fa"/>
<polygon points="149.8,237.9 149.7,237.6 147.9,231.8 145.0,231.3 142.9,233.0 144.5,237.6 144.6,237.6" fill="#e3e3f1"/>
<polygon points="112.8,269.4 121.1,261.2 121.8,258.0 119.1,257.8 112.8,259.5 108.8,264.1 108.4,264.5" fill="#eaeaf4"/>
<polygon points="113.4,271.4 112.8,269.4 108.4,264.5 106.5,267.0 104.1,268.7 105.3,274.5 106.0,278.1" fill="#e4e3f0"/>
<polygon points="121.1,261.2 123.2,268.6 127.2,271.2 131.2,269.8 128.3,262.9 125.5,258.3 121.8,258.0" fill="#d8d7ea"/>
<polygon points="114.0,271.7 123.2,268.6 121.1,261.2 112.8,269.4 113.4,271.4" fill="#efeff6"/>
<polygon points="117.6,276.3 114.0,271.7 113.4,271.4 106.0,278.1 106.5,280.2 109.9,283.1 114.5,286.0 115.8,286.7" fill="#efeff6"/>
<polygon points="126.6,281.2 116.5,287.1 123.7,291.2 124.9,287.1 128.7,282.4" fill="#dadaeb"/>
<polygon points="126.6,281.2 124.6,276.1 117.6,276.3 115.8,286.7 116.5,287.1" fill="#e5e4f1"/>
<polygon points="124.6,276.1 127.2,271.2 123.2,268.6 114.0,271.7 117.6,276.3" fill="#dddced"/>
<polygon points="146.7,306.1 147.5,308.2 151.4,309.4 153.0,307.6 151.5,303.3 149.4,303.0" fill="#efeef7"/>
<polygon points="160.2,308.0 164.6,307.3 164.6,306.7 163.5,302.1 160.6,298.7 160.2,298.3 158.5,302.1" fill="#f7f7fb"/>
<polygon points="146.7,294.4 141.2,297.2 141.1,297.4 144.3,301.4 148.0,301.5 148.4,295.6" fill="#f3f2f9"/>
<polygon points="132.2,287.8 132.9,287.6 136.1,283.7 133.8,277.4 132.2,276.0 129.5,281.4 127.6,283.8" fill="#efeef7"/>
<polygon points="160.2,308.0 159.6,308.6 159.2,311.6 163.8,314.8 164.6,307.3" fill="#edecf5"/>
<polygon points="148.0,301.5 144.3,301.4 143.0,305.6 146.7,306.1 149.4,303.0" fill="#eeedf6"/>
<polygon points="133.8,277.4 136.1,283.7 139.4,284.2 144.1,278.4 144.1,278.3" fill="#f1f1f8"/>
<polygon points="140.2,298.1 131.6,297.2 137.6,302.1 138.4,302.8" fill="#eeedf6"/>
<polygon points="139.4,284.2 136.1,283.7 132.9,287.6 138.8,290.8 141.5,288.3" fill="#efeef7"/>
<polygon points="140.2,298.1 141.1,297.4 141.2,297.2 138.7,292.0 132.1,295.2 131.6,297.1 131.6,297.2" fill="#f2f2f8"/>
<polygon points="159.2,311.6 159.6,308.6 153.0,307.6 151.4,309.4 151.0,312.8 151.4,313.1 156.7,315.7" fill="#f6f6fa"/>
<polygon points="159.2,311.6 156.7,315.7 158.3,316.5 163.5,318.2 163.8,314.8" fill="#efeef7"/>
<polygon points="131.3,290.2 132.2,287.8 127.6,283.8 124.9,287.1 123.7,291.2 123.9,291.3" fill="#edecf5"/>
<polygon points="146.7,291.6 154.3,283.9 154.3,283.1 150.2,286.0 147.4,284.8 146.7,283.5 142.2,288.3" fill="#edecf5"/>
<polygon points="146.5,309.4 151.0,312.8 151.4,309.4 147.5,308.2" fill="#efeef7"/>
<polygon points="141.5,288.3 138.8,290.8 138.7,292.0 141.2,297.2 146.7,294.4 146.7,291.6 142.2,288.3" fill="#f3f2f8"/>
<polygon points="132.1,295.2 131.3,290.2 123.9,291.3 130.6,296.4 131.6,297.1" fill="#edecf6"/>
<polygon points="151.5,303.3 153.0,307.6 159.6,308.6 160.2,308.0 158.5,302.1 153.0,301.9" fill="#f9f9fc"/>
<polygon points="153.0,296.0 148.4,295.6 148.0,301.5 149.4,303.0 151.5,303.3 153.0,301.9" fill="#f7f7fb"/>
<polygon points="146.7,291.6 146.7,294.4 148.4,295.6 153.0,296.0 155.7,294.2 154.8,290.6 154.3,283.9" fill="#efeef7"/>
<polygon points="144.3,301.4 141.1,297.4 140.2,298.1 138.4,302.8 142.3,306.1 143.0,305.6" fill="#f6f6fa"/>
<polygon points="132.1,295.2 138.7,292.0 138.8,290.8 132.9,287.6 132.2,287.8 131.3,290.2" fill="#efeef7"/>
<polygon points="133.8,277.4 144.1,278.3 142.7,275.6 138.7,273.3 134.7,273.9 132.4,275.6 132.2,276.0" fill="#edecf6"/>
<polygon points="192.0,307.7 192.4,309.3 194.0,309.0 205.5,309.0 213.6,310.8 212.4,304.4 211.6,301.8 198.4,301.0" fill="#dedded"/>
<polygon points="187.0,273.1 188.9,264.7 187.0,262.9 179.2,263.0 176.7,268.9 184.6,274.8" fill="#dedded"/>
<polygon points="177.4,305.6 178.1,306.3 191.0,306.9 189.1,302.3 177.1,293.1 176.7,293.1 175.2,296.7" fill="#dedeed"/>
<polygon points="164.1,304.7 164.6,306.7 164.5,307.8 169.0,309.9 177.4,305.6 175.2,296.7 166.7,300.3" fill="#e7e6f2"/>
<polygon points="203.7,273.9 198.4,271.6 194.6,274.1 195.4,284.1 204.8,278.8" fill="#e2e1ef"/>
<polygon points="189.1,302.3 191.6,287.9 187.0,286.8 177.1,293.1" fill="#e0e0ee"/>
<polygon points="174.1,290.4 171.7,283.9 163.8,280.9 159.5,285.0 163.6,291.1" fill="#f1f0f7"/>
<polygon points="196.9,263.3 198.4,271.6 203.7,273.9 212.8,265.4 212.4,262.9 210.1,259.5 204.4,258.3 200.1,258.8" fill="#dddded"/>
<polygon points="201.5,290.7 197.5,290.9 198.4,301.0 211.6,301.8 210.6,298.9" fill="#dedded"/>
<polygon points="163.1,271.2 166.6,269.0 166.5,253.7 166.4,253.7 161.8,252.6 157.7,254.9 157.1,260.6 159.4,265.3 160.6,270.8" fill="#e8e7f2"/>
<polygon points="194.6,274.1 198.4,271.6 196.9,263.3 188.9,264.7 187.0,273.1" fill="#e1e0ee"/>
<polygon points="166.7,300.3 175.2,296.7 176.7,293.1 174.1,290.4 163.6,291.1 162.3,294.8" fill="#e8e7f2"/>
<polygon points="205.7,279.6 205.9,287.4 209.7,288.4 211.3,283.7 213.4,280.2" fill="#edecf5"/>
<polygon points="193.2,287.7 191.6,287.9 189.1,302.3 191.0,306.9 192.0,307.7 198.4,301.0 197.5,290.9" fill="#e2e1ef"/>
<polygon points="179.2,263.0 173.9,249.1 173.8,249.1 169.8,252.0 166.5,253.7 166.6,269.0 172.1,270.3 176.7,268.9" fill="#f3f3f8"/>
<polygon points="179.2,263.0 187.0,262.9 187.4,255.2 184.2,252.0 180.8,253.7 177.3,253.7 176.7,250.3 173.9,249.1" fill="#e0dfee"/>
<polygon points="169.0,309.9 170.9,315.4 171.0,315.4 178.4,312.8 178.1,306.3 177.4,305.6" fill="#dddced"/>
<polygon points="176.7,268.9 172.1,270.3 174.0,280.1 184.1,278.3 184.6,274.8" fill="#ececf5"/>
<polygon points="159.5,285.0 163.8,280.9 163.1,271.2 160.6,270.8 160.6,271.0 162.3,274.5 157.1,275.6 156.0,280.2 154.3,283.1 154.5,285.6" fill="#dddded"/>
<polygon points="195.4,284.1 193.2,287.7 197.5,290.9 201.5,290.7 205.9,287.4 205.7,279.6 204.8,278.8" fill="#f2f2f8"/>
<polygon points="172.1,270.3 166.6,269.0 163.1,271.2 163.8,280.9 171.7,283.9 174.0,280.1" fill="#dfdeee"/>
<polygon points="205.9,287.4 201.5,290.7 210.6,298.9 210.1,297.5 209.0,290.6 209.7,288.4" fill="#edecf5"/>
<polygon points="203.7,273.9 204.8,278.8 205.7,279.6 213.4,280.2 214.7,277.9 213.6,271.0 212.8,265.4" fill="#dddced"/>
<polygon points="177.1,293.1 187.0,286.8 184.1,278.3 174.0,280.1 171.7,283.9 174.1,290.4 176.7,293.1" fill="#e8e7f2"/>
<polygon points="157.1,296.1 160.6,298.7 163.5,302.1 164.1,304.7 166.7,300.3 162.3,294.8" fill="#dedded"/>
<polygon points="169.0,309.9 164.5,307.8 163.5,318.2 170.9,315.4" fill="#f4f4f9"/>
<polygon points="184.1,278.3 187.0,286.8 191.6,287.9 193.2,287.7 195.4,284.1 194.6,274.1 187.0,273.1 184.6,274.8" fill="#f2f2f8"/>
<polygon points="196.9,263.3 200.1,258.8 198.6,258.9 192.9,260.1 188.2,256.0 187.4,255.2 187.0,262.9 188.9,264.7" fill="#e0dfee"/>
<polygon points="178.4,312.8 182.5,311.3 192.4,309.3 192.0,307.7 191.0,306.9 178.1,306.3" fill="#e3e2f0"/>
<polygon points="162.3,294.8 163.6,291.1 159.5,285.0 154.5,285.6 154.8,290.6 156.0,295.2 157.1,296.1" fill="#e5e4f1"/>
<polygon points="231.0,256.7 229.9,253.9 219.8,252.8 218.2,258.3 221.4,263.9 228.9,259.8" fill="#f6f6fa"/>
<polygon points="242.8,251.6 241.5,249.1 240.9,246.2 234.3,246.2 230.7,246.4 229.9,253.9 231.0,256.7 237.7,258.1" fill="#e1e0ef"/>
<polygon points="226.7,273.7 233.1,276.1 237.8,269.1 232.2,267.3 226.2,272.0" fill="#eae9f4"/>
<polygon points="234.4,298.1 220.7,295.5 220.6,295.5 216.4,312.3 219.9,314.2 224.7,311.6" fill="#f3f3f9"/>
<polygon points="220.4,266.5 221.4,263.9 218.2,258.3 212.2,257.5 212.4,262.9 213.5,270.1" fill="#eae9f4"/>
<polygon points="247.4,275.0 247.3,272.2 246.2,261.4 240.5,262.3 239.5,268.6" fill="#f6f6fa"/>
<polygon points="218.2,258.3 219.8,252.8 216.8,247.2 213.6,247.4 211.9,249.1 212.2,257.5" fill="#eae9f4"/>
<polygon points="219.8,281.9 211.4,283.6 211.3,283.7 210.7,285.6 218.9,294.1 219.2,294.2" fill="#e0dfee"/>
<polygon points="235.5,281.9 247.5,277.5 247.4,275.0 239.5,268.6 237.8,269.1 233.1,276.1" fill="#e3e2f0"/>
<polygon points="220.6,295.5 220.7,295.5 228.6,285.3 223.1,280.1 221.3,280.3 219.8,281.9 219.2,294.2" fill="#e6e6f2"/>
<polygon points="232.2,267.3 228.9,259.8 221.4,263.9 220.4,266.5 226.2,272.0" fill="#f1f0f7"/>
<polygon points="236.6,290.3 235.3,297.9 239.4,301.4 248.4,294.0 248.1,288.6" fill="#eeedf6"/>
<polygon points="219.8,281.9 221.3,280.3 213.8,272.2 214.7,277.9 211.4,283.6" fill="#f3f2f8"/>
<polygon points="218.9,294.1 210.7,285.6 209.0,290.6 209.8,295.2" fill="#e5e4f1"/>
<polygon points="235.5,281.9 234.0,285.1 236.6,290.3 248.1,288.6 247.9,283.7 247.5,277.5" fill="#eae9f4"/>
<polygon points="236.6,290.3 234.0,285.1 228.6,285.3 220.7,295.5 234.4,298.1 235.3,297.9" fill="#e5e4f1"/>
<polygon points="220.6,295.5 219.2,294.2 218.9,294.1 209.8,295.2 210.1,297.5 212.4,304.4 213.6,310.8 216.4,312.3" fill="#efeef6"/>
<polygon points="234.4,298.1 224.7,311.6 226.3,310.8 234.3,307.9 241.2,305.3 239.4,301.4 235.3,297.9" fill="#f2f1f8"/>
<polygon points="220.4,266.5 213.5,270.1 213.6,271.0 213.8,272.2 221.3,280.3 223.1,280.1 226.7,273.7 226.2,272.0" fill="#e4e3f0"/>
<polygon points="239.5,268.6 240.5,262.3 237.7,258.1 231.0,256.7 228.9,259.8 232.2,267.3 237.8,269.1" fill="#e0dfee"/>
<polygon points="241.2,305.3 243.5,304.4 251.9,299.8 248.4,295.2 248.4,294.0 239.4,301.4" fill="#e3e2f0"/>
<polygon points="219.8,252.8 229.9,253.9 230.7,246.4 222.8,246.8 216.8,247.2" fill="#e4e3f0"/>
<polygon points="223.1,280.1 228.6,285.3 234.0,285.1 235.5,281.9 233.1,276.1 226.7,273.7" fill="#e4e3f0"/>
<polygon points="246.2,261.4 246.1,260.6 243.8,253.7 242.8,251.6 237.7,258.1 240.5,262.3" fill="#e5e5f1"/>
<polygon points="252.4,274.8 256.4,268.7 252.2,267.3 250.1,270.7" fill="#f6f6fa"/>
<polygon points="247.1,270.8 247.3,272.2 247.4,274.6 252.3,276.0 252.4,274.8 250.1,270.7" fill="#e8e7f2"/>
<polygon points="245.1,251.7 248.6,257.4 251.1,256.4 250.7,256.0 250.2,251.4 247.1,248.7" fill="#e5e4f1"/>
<polygon points="252.1,282.7 251.9,277.5 247.7,279.6 247.9,283.7 247.9,284.1" fill="#e6e5f2"/>
<polygon points="252.5,276.3 252.5,276.6 258.4,281.4 258.2,277.9 257.9,275.0" fill="#e4e4f1"/>
<polygon points="245.1,251.7 247.1,248.7 245.0,246.8 240.9,246.2 241.5,249.1 243.1,252.2" fill="#e4e3f0"/>
<polygon points="253.6,291.0 255.1,284.7 252.1,282.7 247.9,284.1 248.3,292.0" fill="#f0f0f7"/>
<polygon points="253.6,291.0 248.3,292.0 248.4,295.2 251.9,299.8 258.8,297.5 258.8,293.4" fill="#eeeef6"/>
<polygon points="252.3,276.0 252.5,276.3 257.9,275.0 257.2,268.6 256.4,268.7 252.4,274.8" fill="#e8e8f3"/>
<polygon points="248.6,257.4 245.1,251.7 243.1,252.2 243.8,253.7 245.9,259.9" fill="#e4e3f0"/>
<polygon points="252.2,267.3 256.4,268.7 257.2,268.6 257.1,267.6 254.9,261.1 250.9,265.4" fill="#ececf5"/>
<polygon points="250.1,270.7 252.2,267.3 250.9,265.4 246.4,263.8 247.1,270.8" fill="#e4e3f1"/>
<polygon points="248.6,257.4 245.9,259.9 246.1,260.6 246.4,263.8 250.9,265.4 254.9,261.1 254.8,260.6 251.1,256.4" fill="#e5e4f1"/>
<polygon points="253.6,291.0 258.8,293.4 258.8,289.4 258.5,282.4 255.1,284.7" fill="#e8e7f2"/>
<polygon points="252.5,276.6 251.9,277.5 252.1,282.7 255.1,284.7 258.5,282.4 258.4,281.4" fill="#e4e3f1"/>
<polygon points="265.9,253.7 260.4,256.9 260.6,258.8 262.1,260.3 263.9,260.9 267.9,258.0" fill="#f0eff8"/>
<polygon points="279.3,240.7 279.0,237.6 275.5,235.6 276.0,240.5" fill="#eeedf6"/>
<polygon points="267.2,269.4 264.0,272.0 264.6,274.9 269.3,277.5 270.1,277.4 270.3,272.2 270.5,271.3" fill="#ecebf5"/>
<polygon points="269.9,258.5 269.8,264.5 272.9,265.5 275.9,261.0" fill="#eae9f4"/>
<polygon points="275.1,241.0 271.3,239.8 269.9,242.3 270.6,245.5 274.3,245.8" fill="#ecebf5"/>
<polygon points="261.6,292.6 265.6,295.8 269.7,290.1 269.7,288.4 265.8,287.4" fill="#f5f4fa"/>
<polygon points="269.3,277.5 265.2,281.3 264.1,285.2 265.8,287.4 269.7,288.4 269.7,283.7 270.1,277.4" fill="#eeedf7"/>
<polygon points="263.0,285.1 264.1,285.2 265.2,281.3 260.0,277.5 258.2,277.6 258.2,277.9 258.4,281.6" fill="#f2f1f9"/>
<polygon points="254.7,254.7 257.7,253.1 258.2,251.0 253.4,246.5 253.0,246.8 250.2,251.4 250.4,253.1" fill="#f8f8fc"/>
<polygon points="260.7,249.7 261.1,241.7 257.6,242.8 253.4,246.5 258.2,251.0" fill="#eeedf7"/>
<polygon points="263.0,285.1 258.4,281.6 258.7,287.5" fill="#f0eff7"/>
<polygon points="258.5,269.0 265.7,265.1 263.9,260.9 262.1,260.3 257.2,268.3 257.2,268.9" fill="#eae9f4"/>
<polygon points="263.4,241.2 269.9,242.3 271.3,239.8 268.8,233.6 268.0,234.1 264.6,240.5 263.1,241.0" fill="#f2f2f9"/>
<polygon points="269.9,242.3 263.4,241.2 267.5,248.0 270.6,245.5" fill="#ebeaf5"/>
<polygon points="254.7,254.7 250.4,253.1 250.7,256.0 253.4,259.1" fill="#f7f6fb"/>
<polygon points="271.3,239.8 275.1,241.0 276.0,240.5 275.5,235.6 274.9,235.3 270.3,232.4 268.8,233.6" fill="#ecebf6"/>
<polygon points="261.6,292.6 265.8,287.4 264.1,285.2 263.0,285.1 258.7,287.5 258.8,289.4 258.8,293.2" fill="#f3f2f9"/>
<polygon points="265.6,295.8 261.6,292.6 258.8,293.2 258.8,297.5 265.8,296.4" fill="#f7f7fb"/>
<polygon points="272.0,255.0 278.0,256.8 279.5,253.7 279.8,252.9 273.5,251.0 271.7,252.0" fill="#f8f8fc"/>
<polygon points="260.7,249.7 266.3,250.4 266.9,249.9 267.5,248.0 263.4,241.2 263.1,241.0 261.1,241.7" fill="#eae9f4"/>
<polygon points="273.5,251.0 274.4,245.8 274.3,245.8 270.6,245.5 267.5,248.0 266.9,249.9 271.7,252.0" fill="#f8f7fb"/>
<polygon points="274.4,245.8 273.5,251.0 279.8,252.9 280.7,249.1 280.4,247.2" fill="#f6f5fa"/>
<polygon points="260.4,256.9 257.7,253.1 254.7,254.7 253.4,259.1 254.8,260.6 255.0,261.2 260.6,258.8" fill="#f5f5fa"/>
<polygon points="265.2,281.3 269.3,277.5 264.6,274.9 260.0,277.5" fill="#f7f6fb"/>
<polygon points="272.0,255.0 269.7,258.3 269.9,258.5 275.9,261.0 276.1,260.6 278.0,256.8" fill="#ebeaf5"/>
<polygon points="276.0,240.5 275.1,241.0 274.3,245.8 274.4,245.8 280.4,247.2 279.5,242.2 279.3,240.7" fill="#e9e8f4"/>
<polygon points="267.2,269.4 266.4,265.5 265.7,265.1 258.5,269.0 264.0,272.0" fill="#edecf6"/>
<polygon points="269.8,264.5 266.4,265.5 267.2,269.4 270.5,271.3 271.5,267.6 272.9,265.5" fill="#f1f0f8"/>
<polygon points="264.6,274.9 264.0,272.0 258.5,269.0 257.2,268.9 258.2,277.6 260.0,277.5" fill="#eae9f4"/>
<polygon points="260.7,249.7 258.2,251.0 257.7,253.1 260.4,256.9 265.9,253.7 266.3,250.4" fill="#f6f5fb"/>
<polygon points="266.9,249.9 266.3,250.4 265.9,253.7 267.9,258.0 269.7,258.3 272.0,255.0 271.7,252.0" fill="#edecf6"/>
<polygon points="228.0,227.9 229.5,233.2 236.1,232.0 236.9,227.5 229.6,226.7" fill="#f3f2f8"/>
<polygon points="228.8,209.9 226.9,217.6 231.1,220.5 238.2,220.5 234.4,211.6" fill="#e1e0ef"/>
<polygon points="231.1,220.5 226.9,217.6 224.8,218.8 225.6,227.1 228.0,227.9 229.6,226.7" fill="#dfdfee"/>
<polygon points="254.8,234.1 251.5,237.3 253.2,246.7 257.6,242.8 262.9,241.0" fill="#e8e7f2"/>
<polygon points="221.1,218.9 218.8,216.9 212.4,218.9 215.7,225.6 217.6,226.2" fill="#f1f1f8"/>
<polygon points="237.5,234.2 243.8,236.4 244.4,236.0 245.4,230.0 238.9,225.1 236.9,227.5 236.1,232.0" fill="#ebeaf4"/>
<polygon points="239.5,246.2 240.9,246.2 245.0,246.8 246.8,248.4 243.5,237.9 238.4,242.1" fill="#eeedf6"/>
<polygon points="193.4,252.6 199.5,251.5 198.5,245.9 186.3,238.8 185.4,239.9 185.7,243.3" fill="#e4e3f1"/>
<polygon points="228.8,209.9 234.4,211.6 238.8,209.5 239.0,204.5 232.0,204.2 226.7,206.0" fill="#efeef6"/>
<polygon points="215.0,234.3 210.0,232.3 208.0,233.6 207.2,237.1 211.0,240.2 214.9,236.7" fill="#f1f1f8"/>
<polygon points="211.0,240.2 207.2,237.1 203.3,239.1 203.9,243.6 207.6,245.8 210.8,243.0" fill="#efeff6"/>
<polygon points="224.8,218.8 226.9,217.6 228.8,209.9 226.7,206.0 225.1,206.5 219.4,210.5 217.9,211.1 218.8,216.9 221.1,218.9" fill="#f0f0f7"/>
<polygon points="251.5,237.3 254.8,234.1 255.2,232.4 247.3,228.8 245.4,230.0 244.4,236.0" fill="#f0eff7"/>
<polygon points="219.5,229.2 217.6,226.2 215.7,225.6 209.7,227.1 210.0,232.3 215.0,234.3 219.3,230.6" fill="#dfdfee"/>
<polygon points="203.3,239.1 207.2,237.1 208.0,233.6 203.2,231.8 198.2,235.4" fill="#dedded"/>
<polygon points="254.8,234.1 262.9,241.0 264.6,240.5 267.3,235.4 257.4,229.4 255.2,232.4" fill="#dedded"/>
<polygon points="225.6,227.1 219.5,229.2 219.3,230.6 226.4,238.6 229.5,233.2 228.0,227.9" fill="#e2e1ef"/>
<polygon points="226.4,238.6 226.4,239.5 228.0,242.4 233.7,240.5 237.5,234.2 236.1,232.0 229.5,233.2" fill="#e1e0ef"/>
<polygon points="227.7,246.6 234.3,246.2 239.5,246.2 238.4,242.1 233.7,240.5 228.0,242.4" fill="#dfdeee"/>
<polygon points="233.7,240.5 238.4,242.1 243.5,237.9 243.8,236.4 237.5,234.2" fill="#e5e5f1"/>
<polygon points="218.2,240.0 216.1,244.7 217.4,247.2 222.8,246.8 227.7,246.6 228.0,242.4 226.4,239.5" fill="#dfdeee"/>
<polygon points="214.9,236.7 211.0,240.2 210.8,243.0 216.1,244.7 218.2,240.0" fill="#e1e0ef"/>
<polygon points="251.5,237.3 244.4,236.0 243.8,236.4 243.5,237.9 246.8,248.4 250.2,251.4 253.0,246.8 253.2,246.7" fill="#e1e0ef"/>
<polygon points="208.0,233.6 210.0,232.3 209.7,227.1 206.1,224.4 203.7,227.1 203.2,231.8" fill="#e0e0ef"/>
<polygon points="216.1,244.7 210.8,243.0 207.6,245.8 207.7,247.3 211.9,250.7 211.9,249.1 213.6,247.4 217.4,247.2" fill="#e2e1f0"/>
<polygon points="247.3,228.8 255.2,232.4 257.4,229.4 257.9,226.0 253.0,223.2 254.2,222.1 251.6,219.0" fill="#edecf5"/>
<polygon points="193.4,252.6 185.7,243.3 185.9,246.8 184.2,252.0 188.2,256.0 192.3,259.5" fill="#eae9f3"/>
<polygon points="206.1,224.4 209.7,227.1 215.7,225.6 212.4,218.9 210.1,218.1 205.8,222.4" fill="#e0dfee"/>
<polygon points="207.6,245.8 203.9,243.6 198.5,245.9 199.5,251.5 202.5,254.1 207.7,247.3" fill="#e6e5f1"/>
<polygon points="238.8,209.5 247.7,213.9 245.6,211.1 243.8,204.8 239.0,204.5" fill="#dddced"/>
<polygon points="236.9,227.5 238.9,225.1 239.1,221.0 238.2,220.5 231.1,220.5 229.6,226.7" fill="#e7e6f2"/>
<polygon points="193.4,252.6 192.3,259.5 192.9,260.1 198.6,258.9 203.5,258.4 202.5,254.1 199.5,251.5" fill="#e0dfef"/>
<polygon points="198.2,235.4 203.2,231.8 203.7,227.1 196.3,227.4 195.2,229.5 194.0,234.1 191.6,235.1" fill="#f0eff7"/>
<polygon points="191.6,235.1 188.2,236.5 186.3,238.8 198.5,245.9 203.9,243.6 203.3,239.1 198.2,235.4" fill="#eae9f4"/>
<polygon points="217.9,211.1 212.4,213.4 210.1,218.0 210.1,218.1 212.4,218.9 218.8,216.9" fill="#dddced"/>
<polygon points="239.1,221.0 238.9,225.1 245.4,230.0 247.3,228.8 251.6,219.0 250.7,218.0 249.0,215.7" fill="#eeedf6"/>
<polygon points="202.5,254.1 203.5,258.4 204.4,258.3 210.1,259.5 212.4,262.9 211.9,250.7 207.7,247.3" fill="#e1e0ef"/>
<polygon points="226.4,238.6 219.3,230.6 215.0,234.3 214.9,236.7 218.2,240.0 226.4,239.5" fill="#f3f2f8"/>
<polygon points="219.5,229.2 225.6,227.1 224.8,218.8 221.1,218.9 217.6,226.2" fill="#e1e0ef"/>
<polygon points="114.5,207.1 116.8,205.9 120.3,198.4 123.7,197.9 128.3,200.7 137.6,199.6 143.3,198.4 144.5,196.7 145.6,198.2 150.2,199.0 151.4,203.0 154.8,207.6 156.0,210.5 151.4,213.4 150.2,216.9 152.5,220.3 151.4,226.1 147.9,231.3 145.0,231.3 142.2,233.6 138.7,234.7 134.1,234.1 130.6,236.5 126.0,235.3 122.8,230.7 122.6,223.8 120.3,220.3 118.0,214.6 116.2,210.0" fill="#dcdbec" stroke="#707070" stroke-width="0.5"/>
<polygon points="150.2,199.0 175.6,199.0 174.4,203.0 172.1,210.0 170.4,214.6 171.0,219.2 168.7,223.8 172.1,228.4 176.7,230.7 174.4,237.6 169.8,236.5 167.5,231.8 164.1,235.3 159.4,237.6 153.7,239.9 152.0,242.2 149.7,237.6 147.9,231.8 151.4,226.1 152.5,220.3 150.2,216.9 151.4,213.4 156.0,210.5 154.8,207.6 151.4,203.0" fill="#cbcbe4" stroke="#707070" stroke-width="0.5"/>
<polygon points="175.6,199.0 184.2,198.2 188.2,200.2 185.9,203.0 183.6,207.6 188.2,212.3 191.7,216.9 198.6,219.2 199.8,221.5 197.5,224.9 195.2,229.5 194.0,234.1 188.2,236.5 185.4,239.9 179.0,234.1 176.7,230.7 172.1,228.4 168.7,223.8 171.0,219.2 170.4,214.6 172.1,210.0 174.4,203.0" fill="#d5d5e9" stroke="#707070" stroke-width="0.5"/>
<polygon points="184.2,198.2 188.2,200.2 192.9,197.3 198.6,199.0 203.2,196.1 210.1,194.4 214.7,198.4 220.5,200.7 227.4,201.9 232.0,204.2 225.1,206.5 219.4,210.5 212.4,213.4 210.1,218.0 205.5,222.6 199.8,221.5 198.6,219.2 191.7,216.9 188.2,212.3 183.6,207.6 185.9,203.0" fill="#dddcec" stroke="#707070" stroke-width="0.5"/>
<polygon points="152.0,242.2 153.7,239.9 159.4,237.6 164.1,235.3 167.5,231.8 169.8,236.5 174.4,237.6 176.7,230.7 179.0,234.1 185.4,239.9 185.9,246.8 184.2,252.0 180.8,253.7 177.3,253.7 176.7,250.3 173.8,249.1 169.8,252.0 166.4,253.7 161.8,252.6 157.7,254.9 156.0,250.3 152.5,246.8 154.3,244.5" fill="#d0d0e6" stroke="#707070" stroke-width="0.5"/>
<polygon points="241.5,130.0 253.6,137.5 253.0,141.0 257.6,143.8 258.8,146.7 268.0,149.6 274.4,151.9 275.5,155.9 273.8,159.4 276.1,161.1 285.3,159.7 285.1,171.3 262.3,171.5 261.1,173.8 253.0,174.4 246.1,170.9 241.5,162.3 230.0,160.0 233.2,160.6 220.5,150.2 229.7,144.4 238.9,137.5 240.7,132.3" fill="#f4f3fa" stroke="#707070" stroke-width="0.5"/>
<polygon points="233.2,160.6 230.0,160.0 241.5,162.3 246.1,170.9 253.0,174.4 261.1,173.8 262.3,171.5 285.1,171.3 285.3,181.3 283.6,186.9 282.4,196.1 278.4,199.6 268.0,200.2 253.0,201.3 243.8,204.8 236.6,203.6 235.5,200.0 234.3,183.6 226.3,182.4 224.5,176.7 229.7,173.2 232.6,169.8" fill="#eeedf7" stroke="#707070" stroke-width="0.5"/>
<polygon points="285.3,181.3 285.9,164.0 292.2,164.2 291.6,170.9 294.5,175.5 299.1,179.6 304.9,184.7 308.3,191.7 310.6,195.1 310.6,199.6 308.3,213.4 309.5,220.9 304.9,218.0 299.1,216.3 294.5,216.9 287.6,218.6 288.8,213.4 286.5,208.8 284.1,203.0 282.4,196.1 283.6,186.9" fill="#c4c5e1" stroke="#707070" stroke-width="0.5"/>
<polygon points="311.2,199.1 318.7,199.1 327.9,198.0 337.1,194.0 351.0,184.7 365.9,177.6 365.4,210.0 356.7,214.6 352.1,222.1 346.4,223.2 341.8,226.1 337.1,226.7 331.4,226.1 326.8,223.2 328.5,214.6 322.2,208.8 318.7,201.9 317.6,199.6" fill="#c0c2df" stroke="#707070" stroke-width="0.5"/>
<polygon points="310.6,199.6 317.6,199.6 318.7,201.9 322.2,208.8 328.5,214.6 326.8,223.2 322.2,222.4 317.6,223.8 312.9,224.4 309.5,220.9 308.3,213.4" fill="#cbcce4" stroke="#707070" stroke-width="0.5"/>
<polygon points="365.9,177.6 377.5,171.5 402.5,170.9 402.5,183.6 397.1,186.9 391.3,193.8 384.4,203.0 380.9,210.0 382.1,218.0 376.3,219.7 371.7,223.2 365.9,223.5 359.0,221.8 352.1,222.1 356.7,214.6 365.4,210.0" fill="#eeedf7" stroke="#707070" stroke-width="0.5"/>
<polygon points="243.8,204.8 253.0,201.3 268.0,200.2 278.4,199.6 282.4,196.1 284.1,203.0 286.5,208.8 280.7,213.4 273.8,216.9 268.0,223.8 268.6,229.5 270.3,232.4 268.0,234.1 264.6,232.4 263.4,229.0 260.0,227.2 253.0,223.2 254.2,222.1 250.7,218.0 245.6,211.1" fill="#cdcee6" stroke="#707070" stroke-width="0.5"/>
<polygon points="286.5,208.8 280.7,213.4 273.8,216.9 268.0,223.8 268.6,229.5 270.3,232.4 274.9,235.3 279.0,237.6 279.5,229.5 284.1,222.1 287.6,218.6 288.8,213.4" fill="#d9d9ec" stroke="#707070" stroke-width="0.5"/>
<polygon points="279.5,229.5 284.1,222.1 287.6,218.6 294.5,216.9 299.1,216.3 304.9,218.0 309.5,220.9 312.9,224.4 315.3,226.1 308.9,224.4 304.3,226.1 299.7,230.7 293.9,235.3 293.9,238.2 297.4,239.9 303.2,242.8 304.9,246.8 302.0,245.7 295.1,244.5 290.5,249.1 285.9,246.8 280.1,248.0 280.7,249.1 279.5,242.2 279.0,237.6" fill="#cdcde6" stroke="#707070" stroke-width="0.5"/>
<polygon points="325.6,231.8 330.2,230.7 333.7,234.1 336.0,237.6 338.3,241.1 334.8,243.9 332.5,246.8 332.0,250.3 330.2,246.8 326.8,242.2 322.7,241.1 323.3,235.3" fill="#3f0d80" stroke="#707070" stroke-width="0.5"/>
<polygon points="315.3,226.1 322.2,223.2 330.2,226.7 331.4,230.7 325.6,231.8 323.3,235.3 322.7,241.1 317.6,243.4 313.5,241.1 315.8,235.3" fill="#9d8bc5" stroke="#707070" stroke-width="0.5"/>
<polygon points="305.5,250.3 310.6,246.8 317.6,243.4 322.7,241.6 326.8,242.8 330.2,247.4 332.0,250.9 331.4,258.3 329.1,266.4 323.3,265.3 317.6,263.5 317.0,258.3 312.9,253.7 308.3,253.7" fill="#54288f" stroke="#707070" stroke-width="0.5"/>
<polygon points="333.1,248.0 338.3,243.9 344.1,245.7 349.8,249.1 352.1,254.9 355.0,260.6 349.8,262.4 344.1,260.6 339.4,261.8 336.0,258.3 332.5,254.9" fill="#9e8ac4" stroke="#707070" stroke-width="0.5"/>
<polygon points="331.4,226.1 340.6,226.7 346.4,225.5 351.0,230.7 349.8,230.7 342.9,234.1 345.2,239.9 344.1,245.1 338.9,243.4 336.6,237.6 333.7,233.6 331.4,230.7" fill="#c5c4e0" stroke="#707070" stroke-width="0.5"/>
<polygon points="342.9,234.1 349.8,230.7 353.3,235.3 354.4,242.2 352.1,244.5 348.7,248.0 344.1,245.1 345.2,239.9" fill="#9e8ac4" stroke="#707070" stroke-width="0.5"/>
<polygon points="351.0,223.8 368.2,223.8 370.6,228.4 368.2,237.6 367.1,245.7 362.5,251.4 356.7,244.5 355.0,239.9 353.3,235.3 351.0,230.7 346.4,225.5" fill="#d6d6ea" stroke="#707070" stroke-width="0.5"/>
<polygon points="370.6,223.8 376.3,219.7 382.1,218.0 385.0,221.5 387.8,226.1 389.0,231.8 392.4,234.1 393.0,239.3 390.7,242.8 385.5,246.2 382.1,251.4 377.5,252.0 370.6,256.0 364.8,254.9 362.5,251.4 367.1,245.7 368.2,237.6 370.6,228.4" fill="#b9b5d9" stroke="#707070" stroke-width="0.5"/>
<polygon points="352.1,244.5 356.7,244.5 362.5,251.4 364.8,254.9 361.3,260.6 355.0,260.6 352.1,254.9 349.8,249.1" fill="#cfcfe7" stroke="#707070" stroke-width="0.5"/>
<polygon points="270.3,273.3 276.1,269.9 280.7,266.4 284.1,271.0 288.2,277.9 284.1,281.4 283.0,288.3 278.4,284.8 273.8,282.5 270.9,279.1" fill="#9a86c2" stroke="#707070" stroke-width="0.5"/>
<polygon points="274.4,293.5 279.5,292.9 284.1,294.1 285.3,295.6 274.4,295.8" fill="#5a2d91" stroke="#707070" stroke-width="0.5"/>
<polygon points="280.1,248.0 285.9,246.8 290.5,249.1 295.1,244.5 302.0,245.7 304.9,249.1 306.6,252.6 312.4,251.4 315.8,256.0 317.0,260.6 315.8,266.4 311.2,267.6 310.6,276.2 306.6,272.2 299.7,268.7 290.5,265.3 287.0,260.6 282.4,256.0 279.5,253.7" fill="#bfbedd" stroke="#707070" stroke-width="0.5"/>
<polygon points="293.9,235.3 299.7,230.7 304.3,226.1 308.9,224.4 314.1,224.9 315.3,230.7 314.7,237.6 311.2,242.2 308.9,245.7 304.9,246.8 303.2,242.8 297.4,239.9 293.9,238.2" fill="#cfcfe7" stroke="#707070" stroke-width="0.5"/>
<polygon points="290.5,246.2 292.8,242.8 297.4,241.6 302.0,242.8 304.9,246.8 304.9,249.1 302.0,245.7 295.1,244.5 290.5,249.1" fill="#cfcfe7" stroke="#707070" stroke-width="0.5"/>
<polygon points="312.4,267.6 319.9,265.8 329.1,267.0 333.7,271.0 338.3,275.6 333.7,277.9 327.9,279.1 321.0,280.2 314.1,279.1 312.9,273.3" fill="#d4d4e9" stroke="#707070" stroke-width="0.5"/>
<polygon points="322.2,280.2 330.2,277.9 338.3,280.2 343.5,283.7 342.3,289.4 337.1,290.6 331.4,289.4 325.6,288.3 322.7,284.8" fill="#b8b3d8" stroke="#707070" stroke-width="0.5"/>
<polygon points="338.3,275.6 344.1,272.2 351.0,262.9 355.0,260.6 361.3,260.6 364.8,267.6 362.5,275.6 360.2,283.7 356.7,288.3 354.4,291.8 351.5,288.9 347.5,291.2 344.1,292.3 342.3,289.4 343.5,283.7" fill="#d2d2e8" stroke="#707070" stroke-width="0.5"/>
<polygon points="364.8,254.9 370.6,256.0 377.5,252.0 382.1,251.4 382.1,253.7 378.6,260.6 375.2,267.6 372.9,272.2 370.0,277.9 367.1,283.7 364.2,289.4 360.8,294.1 357.9,294.6 356.7,288.3 360.2,283.7 362.5,275.6 364.8,267.6 361.3,260.6" fill="#cdcde6" stroke="#707070" stroke-width="0.5"/>
<polygon points="329.1,290.6 337.1,290.6 340.6,296.4 337.1,301.0 333.7,305.6 332.5,312.5 330.2,315.4 327.9,315.9 322.2,315.4 321.0,307.9 324.5,304.4 325.6,295.2" fill="#c8c8e3" stroke="#707070" stroke-width="0.5"/>
<polygon points="309.5,307.9 315.3,305.6 318.7,310.2 317.6,315.4 314.1,314.2 310.6,317.1" fill="#b0a5d2" stroke="#707070" stroke-width="0.5"/>
<polygon points="296.2,304.4 301.4,301.0 308.3,302.1 309.5,307.9 310.6,317.1 304.9,317.7 300.9,314.8 298.0,310.2" fill="#c5c4e0" stroke="#707070" stroke-width="0.5"/>
<polygon points="310.6,276.2 311.2,267.6 315.8,266.4 317.6,263.5 323.3,265.3 329.1,266.4 329.1,267.0 319.9,265.8 312.4,267.6 312.9,273.3 314.1,279.1" fill="#d0d0e6" stroke="#707070" stroke-width="0.5"/>
<polygon points="294.5,279.1 301.4,275.6 306.6,272.2 310.6,276.2 314.1,279.1 321.0,280.2 322.2,280.2 322.7,284.8 319.9,290.6 312.9,292.9 306.0,290.6 299.1,288.3 295.7,283.7" fill="#cacae4" stroke="#707070" stroke-width="0.5"/>
<polygon points="284.1,281.4 288.2,277.9 294.5,279.1 295.7,283.7 299.1,288.3 306.0,290.6 304.9,296.4 301.4,301.0 296.2,304.4 292.8,300.4 287.6,296.9 285.3,295.6 284.1,294.1 283.0,288.3" fill="#c5c4e0" stroke="#707070" stroke-width="0.5"/>
<polygon points="312.9,292.9 319.9,290.6 325.6,288.3 325.6,295.2 324.5,304.4 321.0,307.9 315.3,305.6 309.5,307.9 308.3,302.1 304.9,296.4 306.0,290.6" fill="#c9c9e3" stroke="#707070" stroke-width="0.5"/>
<polygon points="217.1,294.1 220.5,288.3 227.4,284.3 234.3,285.4 238.9,287.1 234.3,290.6 230.9,296.4 228.0,301.0 222.8,299.8 219.4,296.4" fill="#c4c4e1" stroke="#707070" stroke-width="0.5"/>
<polygon points="230.9,296.4 234.3,290.6 238.9,287.1 243.5,288.3 242.4,295.2 238.9,301.0 233.2,302.7 229.1,301.0" fill="#d2d2e8" stroke="#707070" stroke-width="0.5"/>
<polygon points="236.6,305.0 244.7,301.0 249.3,301.9 243.5,304.4 238.9,306.7" fill="#b8b3d8" stroke="#707070" stroke-width="0.5"/>
<polygon points="228.0,260.6 234.3,253.7 242.4,254.9 244.7,262.9 243.5,272.2 236.6,271.0 229.7,267.6" fill="#e0dfee" stroke="#707070" stroke-width="0.5"/>
<polygon points="156.0,281.4 162.3,274.5 167.5,279.1 168.1,295.2 168.7,301.0 164.6,302.1 160.6,298.7 156.0,295.2 154.8,290.6" fill="#dcdbec" stroke="#707070" stroke-width="0.5"/>
<polygon points="169.2,282.5 180.2,281.4 183.6,287.1 184.2,294.1 176.7,296.9 169.8,296.4" fill="#d9d8ea" stroke="#707070" stroke-width="0.5"/>
<polygon points="165.2,303.3 168.7,301.0 175.6,298.7 183.6,306.7 188.2,307.9 182.5,311.3 171.0,315.4 163.5,318.2 164.6,306.7" fill="#dddcec" stroke="#707070" stroke-width="0.5"/>
<polygon points="172.1,258.3 188.2,257.2 194.0,262.9 199.8,269.9 197.5,274.5 188.2,272.2 183.6,265.3 176.7,267.6 171.0,265.3" fill="#e1e0ee" stroke="#707070" stroke-width="0.5"/>
<polygon points="197.5,305.0 202.1,305.0 202.1,308.5 197.5,308.5" fill="#c4c4e1" stroke="#707070" stroke-width="0.5"/>
<polygon points="130.6,244.5 137.6,239.9 145.6,237.6 149.7,237.6 152.0,242.2 154.3,244.5 152.5,246.8 156.0,250.3 157.7,254.9 157.1,260.6 159.4,265.3 160.6,271.0 162.3,274.5 157.1,275.6 156.0,280.2 154.3,283.1 150.2,286.0 147.4,284.8 144.5,279.1 145.6,269.9 141.0,268.7 137.6,262.9 134.1,258.3 135.3,251.4" fill="#dddcec" stroke="#707070" stroke-width="0.5"/>
<polygon points="96.1,244.5 103.0,242.2 107.6,249.1 114.5,253.7 112.8,259.5 108.8,264.1 106.5,267.0 104.1,268.7 100.7,264.1 99.5,260.6 96.1,257.2 98.4,251.4" fill="#dfdeed" stroke="#707070" stroke-width="0.5"/>
<polygon points="112.8,259.5 119.1,257.8 125.5,258.3 128.3,262.9 131.2,269.9 124.9,272.2 118.0,273.3 107.6,271.0 106.5,267.0 108.8,264.1" fill="#d8d7ea" stroke="#707070" stroke-width="0.5"/>
<polygon points="198.6,226.1 211.3,223.8 213.6,234.1 209.0,242.2 199.8,244.5 189.4,239.9 194.0,234.1 195.2,229.5" fill="#deddec" stroke="#707070" stroke-width="0.5"/>
<polygon points="188.2,242.2 195.2,239.9 198.6,244.5 192.9,248.0 187.7,246.2" fill="#e1e0ee" stroke="#707070" stroke-width="0.5"/>
<polygon points="230.0,218.0 236.9,214.6 242.7,218.0 246.1,226.1 241.5,234.1 234.6,235.3 230.0,231.8" fill="#dad9eb" stroke="#707070" stroke-width="0.5"/>
<polygon points="220.5,230.7 227.4,229.5 229.7,235.3 222.8,236.5" fill="#d0d0e6" stroke="#707070" stroke-width="0.5"/>
<polygon points="62.7,204.8 67.3,199.6 73.0,200.7 76.5,207.6 73.0,213.4 67.9,214.6 66.1,212.3 62.7,208.2" fill="#dedded" stroke="#707070" stroke-width="0.5"/>
<polygon points="71.9,191.5 89.2,188.6 96.1,193.8 90.3,203.0 88.0,199.6 78.8,197.3 73.0,198.4" fill="#ebeaf4" stroke="#707070" stroke-width="0.5"/>
<use href="#mapl"/>
</g>
<g transform="translate(1193,0)" clip-path="url(#mc)">
<polygon points="140.2,26.0 139.6,31.5 138.9,35.6 141.6,38.4 141.0,43.0 137.6,48.2 132.9,52.8 126.0,56.9 121.4,60.9 114.5,63.5 107.6,64.7 105.3,67.8 103.0,73.6 100.7,77.0 95.5,80.5 91.5,83.4 89.7,89.1 87.4,94.9 87.1,99.5 82.3,103.5 77.6,108.7 74.8,114.5 73.0,120.2 70.7,124.3 67.3,126.6 65.6,130.6 65.0,135.6 120.0,170.0 300.0,250.0 330.2,315.4 333.7,318.2 338.3,321.7 341.8,324.0 344.1,329.8 343.5,340.1 340.6,350.5 339.4,359.7 338.3,368.9 333.7,373.5 336.0,381.6 415.8,381.6 415.8,26.0" fill="#e5e5e5" stroke="none" stroke-width="0.5"/>
<polygon points="65.0,135.6 63.8,141.0 66.1,139.8 69.6,144.4 72.5,147.9 73.0,151.3 70.7,153.6 71.3,157.7 73.6,160.6 74.8,167.5 74.8,174.4 73.0,181.3 71.3,188.8 78.8,186.3 89.2,186.7 94.9,189.2 99.5,192.1 103.0,193.2 105.3,197.3 108.8,201.9 112.2,205.3 114.5,207.1 116.8,205.9 120.3,198.4 123.7,197.9 128.3,200.7 137.6,199.6 143.3,198.4 144.5,196.7 145.6,198.2 184.2,198.2 186.5,189.9 184.2,189.4 181.3,164.0 177.9,135.2 175.0,117.9 173.8,96.4 190.0,96.0 151.4,72.4 151.4,86.0 117.2,86.0 116.8,113.1 107.6,113.9 105.3,117.9 106.5,135.6" fill="#fff3f4" stroke="none" stroke-width="0.5"/>
<polygon points="190.0,96.0 173.8,96.4 175.0,117.9 177.9,135.2 181.3,164.0 184.2,189.4 186.5,189.9 184.2,198.2 145.6,198.2 144.5,196.7 143.3,198.4 137.6,199.6 128.3,200.7 123.7,197.9 120.3,198.4 116.8,205.9 114.5,207.1 116.2,210.0 118.0,214.6 120.3,220.3 122.6,223.8 122.8,230.7 126.0,235.3 130.6,236.5 134.1,234.1 138.7,234.7 142.2,233.6 145.0,231.3 147.9,231.8 149.7,237.6 152.0,242.2 154.3,244.5 152.5,246.8 156.0,250.3 157.7,254.9 161.8,252.6 166.4,253.7 169.8,252.0 173.8,249.1 176.7,250.3 177.3,253.7 180.8,253.7 184.2,252.0 185.9,246.8 185.4,239.9 188.2,236.5 194.0,234.1 195.2,229.5 197.5,224.9 199.8,221.5 205.5,222.6 210.1,218.0 212.4,213.4 219.4,210.5 225.1,206.5 232.0,204.2 243.8,204.8 253.0,201.3 268.0,200.2 278.4,199.6 282.4,196.1 283.6,186.9 285.3,181.3 285.3,159.7 276.1,161.1 273.8,159.4 275.5,155.9 274.4,151.9 268.0,149.6 258.8,146.7 257.6,143.8 253.0,141.0 253.6,137.5 230.0,122.0 190.0,96.0" fill="#fff0f1" stroke="none" stroke-width="0.5"/>
<polygon points="285.3,159.7 301.4,155.9 318.7,141.0 365.9,112.4 379.8,115.6 388.4,121.7 397.6,117.9 398.8,130.6 402.8,139.8 407.4,146.7 404.5,152.5 403.4,164.0 402.2,170.9 402.5,183.6 397.1,186.9 391.3,193.8 384.4,203.0 380.9,210.0 382.1,218.0 376.3,219.7 371.7,223.2 365.9,223.5 359.0,221.8 352.1,222.1 346.4,223.2 341.8,226.1 337.1,226.7 331.4,226.1 326.8,223.2 322.2,222.4 317.6,223.8 312.9,224.4 309.5,220.9 304.9,218.0 299.1,216.3 294.5,216.9 287.6,218.6 284.1,222.1 279.5,229.5 279.0,237.6 274.9,235.3 270.3,232.4 268.0,234.1 264.6,232.4 263.4,229.0 260.0,227.2 253.0,223.2 254.2,222.1 250.7,218.0 245.6,211.1 243.8,204.8 253.0,201.3 268.0,200.2 278.4,199.6 282.4,196.1 283.6,186.9 285.3,181.3 285.3,159.7" fill="#fff0f1" stroke="none" stroke-width="0.5"/>
<polygon points="279.0,237.6 279.5,229.5 284.1,222.1 287.6,218.6 294.5,216.9 299.1,216.3 304.9,218.0 309.5,220.9 312.9,224.4 317.6,223.8 322.2,222.4 326.8,223.2 331.4,226.1 337.1,226.7 341.8,226.1 346.4,223.2 352.1,222.1 359.0,221.8 365.9,223.5 371.7,223.2 376.3,219.7 382.1,218.0 385.0,221.5 387.8,226.1 389.0,231.8 392.4,234.1 393.0,239.3 390.7,242.8 385.5,246.2 382.1,253.7 378.6,260.6 375.2,267.6 372.9,272.2 370.0,277.9 367.1,283.7 364.2,289.4 360.8,294.1 357.9,294.6 354.4,291.8 351.5,288.9 347.5,291.2 344.1,292.3 340.6,296.4 337.1,301.0 333.7,305.6 332.5,312.5 330.2,315.4 327.9,315.9 321.0,315.9 314.1,314.2 310.6,317.7 304.9,317.7 300.9,314.8 298.0,310.2 296.2,304.4 292.8,300.4 287.6,296.9 280.7,295.2 269.7,295.8 269.7,283.7 270.3,272.2 271.5,267.6 276.1,260.6 279.5,253.7 280.7,249.1 279.5,242.2 279.0,237.6" fill="#fcc6ca" stroke="none" stroke-width="0.5"/>
<polygon points="250.2,251.4 253.0,246.8 257.6,242.8 264.6,240.5 268.0,234.1 270.3,232.4 274.9,235.3 279.0,237.6 279.5,242.2 280.7,249.1 279.5,253.7 276.1,260.6 271.5,267.6 270.3,272.2 269.7,283.7 269.7,295.8 258.8,297.5 258.8,289.4 258.2,277.9 257.1,267.6 254.8,260.6 250.7,256.0 250.2,251.4" fill="#fff0f1" stroke="none" stroke-width="0.5"/>
<polygon points="240.9,246.2 241.5,249.1 243.8,253.7 246.1,260.6 247.3,272.2 247.9,283.7 248.4,295.2 251.9,299.8 258.8,297.5 258.8,289.4 258.2,277.9 257.1,267.6 254.8,260.6 250.7,256.0 250.2,251.4 245.0,246.8 240.9,246.2" fill="#ffeef0" stroke="none" stroke-width="0.5"/>
<polygon points="184.2,252.0 185.9,246.8 185.4,239.9 188.2,236.5 194.0,234.1 195.2,229.5 197.5,224.9 199.8,221.5 205.5,222.6 210.1,218.0 212.4,213.4 219.4,210.5 225.1,206.5 232.0,204.2 243.8,204.8 245.6,211.1 250.7,218.0 254.2,222.1 253.0,223.2 260.0,227.2 263.4,229.0 264.6,232.4 268.0,234.1 264.6,240.5 257.6,242.8 253.0,246.8 250.2,251.4 245.0,246.8 240.9,246.2 234.3,246.2 222.8,246.8 213.6,247.4 211.9,249.1 212.4,262.9 210.1,259.5 204.4,258.3 198.6,258.9 192.9,260.1 188.2,256.0 184.2,252.0" fill="#ffeced" stroke="none" stroke-width="0.5"/>
<polygon points="212.4,262.9 211.9,249.1 213.6,247.4 222.8,246.8 234.3,246.2 240.9,246.2 241.5,249.1 243.8,253.7 246.1,260.6 247.3,272.2 247.9,283.7 248.4,295.2 251.9,299.8 243.5,304.4 234.3,307.9 226.3,310.8 219.9,314.2 213.6,310.8 212.4,304.4 210.1,297.5 209.0,290.6 211.3,283.7 214.7,277.9 213.6,271.0 212.4,262.9" fill="#fff0f1" stroke="none" stroke-width="0.5"/>
<polygon points="157.7,254.9 161.8,252.6 166.4,253.7 169.8,252.0 173.8,249.1 176.7,250.3 177.3,253.7 180.8,253.7 184.2,252.0 188.2,256.0 192.9,260.1 198.6,258.9 204.4,258.3 210.1,259.5 212.4,262.9 213.6,271.0 214.7,277.9 211.3,283.7 209.0,290.6 210.1,297.5 212.4,304.4 213.6,310.8 205.5,309.0 194.0,309.0 182.5,311.3 171.0,315.4 163.5,318.2 164.6,306.7 163.5,302.1 160.6,298.7 156.0,295.2 154.8,290.6 154.3,283.1 156.0,280.2 157.1,275.6 162.3,274.5 160.6,271.0 159.4,265.3 157.1,260.6 157.7,254.9" fill="#fff0f1" stroke="none" stroke-width="0.5"/>
<polygon points="123.7,291.2 124.9,287.1 129.5,281.4 132.4,275.6 134.7,273.9 138.7,273.3 142.7,275.6 144.5,279.1 147.4,284.8 150.2,286.0 154.3,283.1 154.8,290.6 156.0,295.2 160.6,298.7 163.5,302.1 164.6,306.7 163.5,318.2 158.3,316.5 151.4,313.1 144.5,307.9 137.6,302.1 130.6,296.4 123.7,291.2" fill="#fff3f4" stroke="none" stroke-width="0.5"/>
<polygon points="104.1,268.7 106.5,267.0 108.8,264.1 112.8,259.5 119.1,257.8 125.5,258.3 128.3,262.9 131.2,269.9 132.4,275.6 129.5,281.4 124.9,287.1 123.7,291.2 114.5,286.0 109.9,283.1 106.5,280.2 105.3,274.5 104.1,268.7" fill="#fbd0d3" stroke="none" stroke-width="0.5"/>
<polygon points="84.6,243.4 89.2,241.6 95.5,239.3 99.5,237.6 99.5,229.8 104.1,229.8 107.6,230.7 114.5,231.3 122.8,230.7 126.0,235.3 130.6,236.5 134.1,234.1 138.7,234.7 142.2,233.6 145.0,231.3 147.9,231.8 149.7,237.6 152.0,242.2 154.3,244.5 152.5,246.8 156.0,250.3 157.7,254.9 157.1,260.6 159.4,265.3 160.6,271.0 162.3,274.5 157.1,275.6 156.0,280.2 154.3,283.1 150.2,286.0 147.4,284.8 144.5,279.1 142.7,275.6 138.7,273.3 134.7,273.9 132.4,275.6 131.2,269.9 128.3,262.9 125.5,258.3 119.1,257.8 112.8,259.5 108.8,264.1 106.5,267.0 104.1,268.7 100.7,264.1 99.5,260.6 96.1,257.2 91.5,253.7 89.2,249.1 85.7,244.5 84.6,243.4" fill="#ffeef0" stroke="none" stroke-width="0.5"/>
<polygon points="67.3,230.7 78.8,230.1 84.6,229.0 99.5,229.8 69.0,234.1 71.3,237.6 72.5,242.2 74.8,245.1 78.8,244.5 82.3,242.2 84.6,243.4 89.2,241.6 95.5,239.3 99.5,237.6 99.5,229.8" fill="#fff3f4" stroke="none" stroke-width="0.5"/>
<polygon points="71.3,187.5 78.8,186.3 89.2,186.7 94.9,189.2 99.5,192.1 103.0,193.2 105.3,197.3 108.8,201.9 112.2,205.3 114.5,207.1 116.2,210.0 118.0,214.6 120.3,220.3 122.6,223.8 122.8,230.7 114.5,231.3 107.6,230.7 104.1,229.8 99.5,229.8 84.6,229.0 78.8,230.1 67.3,230.7 67.9,226.1 68.4,219.2 67.9,214.6 66.1,212.3 62.7,208.2 59.8,206.7 62.7,204.8 67.3,199.6 70.2,192.7 71.3,187.5" fill="#fff0f1" stroke="none" stroke-width="0.5"/>
<polygon points="68.4,219.7 78.8,219.7 83.4,217.4 88.0,218.6 92.6,220.3 97.8,220.3 98.4,222.1 93.8,222.9 88.0,221.5 83.4,220.9 78.8,222.9 68.4,223.2" fill="#ffeef0" stroke="none" stroke-width="0.5"/>
<polygon points="72.1,225.4 72.0,222.0 68.2,221.5 67.9,226.1 67.3,230.7 68.3,230.6" fill="#fff2f3"/>
<polygon points="87.0,210.1 93.4,209.5 94.1,201.4 87.6,200.8" fill="#ffeff0"/>
<polygon points="105.0,222.5 98.8,214.7 96.6,216.9 96.2,225.0 100.2,229.8 103.8,229.8" fill="#fff3f4"/>
<polygon points="108.8,208.6 115.4,208.5 114.5,207.1 112.2,205.3 108.8,201.9 107.8,200.7" fill="#ffeeef"/>
<polygon points="85.3,212.9 80.9,219.4 84.1,226.4 86.4,225.5 91.8,217.1" fill="#fff8f8"/>
<polygon points="72.1,225.4 68.3,230.6 78.8,230.1 82.9,229.3" fill="#fff4f4"/>
<polygon points="72.1,200.8 68.4,206.4 75.3,209.7 78.3,207.5 78.7,201.6" fill="#fee7e9"/>
<polygon points="72.1,200.8 78.7,201.6 80.7,199.7 78.9,193.0 70.8,189.9 70.2,192.7 68.9,195.8" fill="#fee9ea"/>
<polygon points="84.4,186.5 78.8,186.3 71.3,187.5 70.8,189.9 78.9,193.0 84.3,187.7" fill="#fff3f4"/>
<polygon points="108.8,208.6 106.7,212.4 107.6,213.5 117.2,214.3 117.8,214.1 116.2,210.0 115.4,208.5" fill="#fee9eb"/>
<polygon points="95.6,191.0 96.7,200.3 100.3,201.5 106.7,199.2 105.3,197.3 103.0,193.2 99.5,192.1 96.3,190.1" fill="#fff3f4"/>
<polygon points="119.1,222.2 118.3,231.0 122.8,230.7 122.6,223.8 120.4,220.5" fill="#fee8e9"/>
<polygon points="68.4,206.4 72.1,200.8 68.9,195.8 67.3,199.6 62.7,204.8 59.8,206.7 62.7,208.2 62.7,208.3" fill="#ffebed"/>
<polygon points="98.8,214.7 105.0,222.5 109.2,219.2 107.6,213.5 106.7,212.4 100.6,212.8 99.1,213.9" fill="#fff2f2"/>
<polygon points="107.6,213.5 109.2,219.2 111.8,220.3 117.2,214.3" fill="#fff4f5"/>
<polygon points="78.3,207.5 75.3,209.7 74.9,211.4 79.0,218.9 80.9,219.4 85.3,212.9 85.3,212.2" fill="#fff9f9"/>
<polygon points="119.1,222.2 112.7,221.8 111.0,231.0 114.5,231.3 118.3,231.0" fill="#fee9ea"/>
<polygon points="96.6,216.9 98.8,214.7 99.1,213.9 93.4,209.5 87.0,210.1 85.3,212.2 85.3,212.9 91.8,217.1" fill="#fff8f9"/>
<polygon points="62.7,208.3 66.1,212.3 67.7,214.3 70.0,214.8 74.9,211.4 75.3,209.7 68.4,206.4" fill="#feeaeb"/>
<polygon points="78.3,207.5 85.3,212.2 87.0,210.1 87.6,200.8 87.0,200.3 80.7,199.7 78.7,201.6" fill="#fee7e9"/>
<polygon points="86.4,225.5 96.2,225.0 96.6,216.9 91.8,217.1" fill="#ffeff0"/>
<polygon points="95.6,191.0 96.3,190.1 94.9,189.2 89.2,186.7 84.4,186.5 84.3,187.7 88.9,192.1" fill="#fff6f7"/>
<polygon points="87.0,200.3 88.9,192.1 84.3,187.7 78.9,193.0 80.7,199.7" fill="#fee9eb"/>
<polygon points="84.1,226.4 83.2,229.2 84.6,229.0 99.5,229.8 100.2,229.8 96.2,225.0 86.4,225.5" fill="#fee7e9"/>
<polygon points="100.6,212.8 100.3,201.5 96.7,200.3 94.1,201.4 93.4,209.5 99.1,213.9" fill="#ffeced"/>
<polygon points="111.8,220.3 112.7,221.8 119.1,222.2 120.4,220.5 120.3,220.3 118.0,214.6 117.8,214.1 117.2,214.3" fill="#fff2f3"/>
<polygon points="79.0,218.9 73.5,220.1 72.0,222.0 72.1,225.4 82.9,229.3 83.2,229.2 84.1,226.4 80.9,219.4" fill="#fff3f4"/>
<polygon points="108.8,208.6 107.8,200.7 106.7,199.2 100.3,201.5 100.6,212.8 106.7,212.4" fill="#fff5f6"/>
<polygon points="87.6,200.8 94.1,201.4 96.7,200.3 95.6,191.0 88.9,192.1 87.0,200.3" fill="#ffedee"/>
<polygon points="72.0,222.0 73.5,220.1 70.0,214.8 67.7,214.3 67.9,214.6 68.4,219.2 68.2,221.5" fill="#fff1f2"/>
<polygon points="74.9,211.4 70.0,214.8 73.5,220.1 79.0,218.9" fill="#fff6f6"/>
<polygon points="85.9,235.7 92.8,238.6 94.3,234.9 93.2,230.7 85.2,231.8" fill="#fff2f3"/>
<polygon points="87.5,242.3 89.2,241.6 92.9,240.3 92.8,238.6 85.9,235.7 83.9,238.9" fill="#fff8f8"/>
<polygon points="78.4,238.7 81.5,239.7 83.9,238.9 85.9,235.7 85.2,231.8 79.4,232.7" fill="#fff1f2"/>
<polygon points="94.3,234.9 92.8,238.6 92.9,240.3 95.5,239.3 99.5,237.6 99.5,235.3" fill="#fff6f7"/>
<polygon points="94.3,234.9 99.5,235.3 99.5,229.8 93.2,230.7" fill="#fff1f2"/>
<polygon points="81.5,239.7 82.0,242.4 82.3,242.2 84.6,243.4 87.5,242.3 83.9,238.9" fill="#fff6f7"/>
<polygon points="78.4,238.7 72.3,241.6 72.5,242.2 74.8,245.1 78.8,244.5 82.0,242.4 81.5,239.7" fill="#fff1f2"/>
<polygon points="78.4,238.7 79.4,232.7 69.0,234.1 71.3,237.6 72.3,241.6" fill="#fff2f3"/>
<polygon points="111.2,258.6 104.7,255.2 97.2,258.3 99.5,260.6 100.7,264.1 104.1,268.7 106.5,267.0 108.8,264.1 112.1,260.3" fill="#fee7e9"/>
<polygon points="109.6,238.2 108.2,237.7 100.1,241.2 99.5,246.4 103.1,248.2 108.2,246.2 110.9,241.3" fill="#ffebed"/>
<polygon points="142.2,255.6 145.8,259.0 152.0,259.5 155.0,256.4 150.2,252.3 143.2,254.5" fill="#fee6e9"/>
<polygon points="130.7,242.1 135.6,242.7 137.8,238.9 135.0,234.3 134.1,234.1 130.6,236.5 129.1,236.1" fill="#fee7e9"/>
<polygon points="139.0,258.7 139.2,266.0 146.7,269.6 147.6,269.4 145.8,259.0 142.2,255.6 140.9,255.9" fill="#fee7e9"/>
<polygon points="108.2,237.7 109.6,238.2 115.1,231.2 114.5,231.3 107.6,230.7 104.1,229.8 101.4,229.8" fill="#ffedef"/>
<polygon points="99.5,246.4 100.1,241.2 97.9,238.3 95.5,239.3 89.2,241.6 84.6,243.4 85.7,244.5 89.2,249.1 90.0,250.7" fill="#fff8f9"/>
<polygon points="136.0,251.3 137.4,245.2 135.6,242.7 130.7,242.1 127.3,246.4 129.8,251.4" fill="#ffeaec"/>
<polygon points="127.3,246.4 120.0,245.2 119.5,246.5 121.8,258.0 125.5,258.3 126.0,259.2 129.8,251.4" fill="#fff5f6"/>
<polygon points="160.4,274.0 157.8,275.5 162.3,274.5 162.2,274.3" fill="#fff2f4"/>
<polygon points="146.1,282.4 147.4,284.8 150.2,286.0 154.3,283.1 156.0,280.2 157.1,275.9" fill="#ffebed"/>
<polygon points="143.0,244.9 144.6,237.6 144.5,237.6 137.8,238.9 135.6,242.7 137.4,245.2" fill="#fff0f2"/>
<polygon points="147.6,269.4 152.4,270.0 152.0,259.5 145.8,259.0" fill="#fee6e8"/>
<polygon points="109.6,238.2 110.9,241.3 119.8,244.8 123.1,231.1 122.8,230.7 115.1,231.2" fill="#ffecee"/>
<polygon points="142.2,255.6 143.2,254.5 144.1,246.3 143.0,244.9 137.4,245.2 136.0,251.3 140.9,255.9" fill="#fff1f3"/>
<polygon points="103.1,248.2 99.5,246.4 90.0,250.7 91.5,253.7 96.1,257.2 97.2,258.3 104.7,255.2" fill="#fff3f4"/>
<polygon points="157.6,256.2 157.7,254.9 156.0,250.3 152.5,246.8 154.3,244.5 153.9,244.1 151.8,246.0 150.2,252.3 155.0,256.4" fill="#fee7ea"/>
<polygon points="139.0,258.7 140.9,255.9 136.0,251.3 129.8,251.4 126.0,259.2 127.0,260.9" fill="#ffe9eb"/>
<polygon points="146.7,269.6 139.2,266.0 131.4,270.7 132.4,275.6 134.7,273.9 138.7,273.3 142.4,275.4" fill="#fff1f3"/>
<polygon points="119.5,246.5 120.0,245.2 119.8,244.8 110.9,241.3 108.2,246.2 112.5,252.1" fill="#fff4f5"/>
<polygon points="108.2,246.2 103.1,248.2 104.7,255.2 111.2,258.6 112.5,252.1" fill="#ffedef"/>
<polygon points="151.8,246.0 153.9,244.1 152.0,242.2 149.8,237.9 144.6,237.6 143.0,244.9 144.1,246.3" fill="#fee8eb"/>
<polygon points="137.8,238.9 144.5,237.6 142.9,233.0 142.2,233.6 138.7,234.7 135.0,234.3" fill="#fff5f6"/>
<polygon points="100.1,241.2 108.2,237.7 101.4,229.8 99.5,229.8 99.5,237.6 97.9,238.3" fill="#ffe9eb"/>
<polygon points="119.8,244.8 120.0,245.2 127.3,246.4 130.7,242.1 129.1,236.1 126.0,235.3 123.1,231.1" fill="#fee6e9"/>
<polygon points="146.7,269.6 142.4,275.4 142.7,275.6 144.5,279.1 146.1,282.4 157.1,275.9 157.1,275.6 157.8,275.5 160.4,274.0 152.4,270.0 147.6,269.4" fill="#fee8eb"/>
<polygon points="150.2,252.3 151.8,246.0 144.1,246.3 143.2,254.5" fill="#fee8ea"/>
<polygon points="119.5,246.5 112.5,252.1 111.2,258.6 112.1,260.3 112.8,259.5 119.1,257.8 121.8,258.0" fill="#fff8f9"/>
<polygon points="149.8,237.9 149.7,237.6 147.9,231.8 145.0,231.3 142.9,233.0 144.5,237.6 144.6,237.6" fill="#ffecee"/>
<polygon points="112.8,269.4 121.1,261.2 121.8,258.0 119.1,257.8 112.8,259.5 108.8,264.1 108.4,264.5" fill="#fde3e5"/>
<polygon points="113.4,271.4 112.8,269.4 108.4,264.5 106.5,267.0 104.1,268.7 105.3,274.5 106.0,278.1" fill="#fcdbdd"/>
<polygon points="121.1,261.2 123.2,268.6 127.2,271.2 131.2,269.8 128.3,262.9 125.5,258.3 121.8,258.0" fill="#fbced1"/>
<polygon points="114.0,271.7 123.2,268.6 121.1,261.2 112.8,269.4 113.4,271.4" fill="#fdeaeb"/>
<polygon points="117.6,276.3 114.0,271.7 113.4,271.4 106.0,278.1 106.5,280.2 109.9,283.1 114.5,286.0 115.8,286.7" fill="#fdeaeb"/>
<polygon points="126.6,281.2 116.5,287.1 123.7,291.2 124.9,287.1 128.7,282.4" fill="#fbcfd2"/>
<polygon points="126.6,281.2 124.6,276.1 117.6,276.3 115.8,286.7 116.5,287.1" fill="#fcdcdf"/>
<polygon points="124.6,276.1 127.2,271.2 123.2,268.6 114.0,271.7 117.6,276.3" fill="#fbd2d5"/>
<polygon points="146.7,306.1 147.5,308.2 151.4,309.4 153.0,307.6 151.5,303.3 149.4,303.0" fill="#fff2f3"/>
<polygon points="160.2,308.0 164.6,307.3 164.6,306.7 163.5,302.1 160.6,298.7 160.2,298.3 158.5,302.1" fill="#fff9f9"/>
<polygon points="146.7,294.4 141.2,297.2 141.1,297.4 144.3,301.4 148.0,301.5 148.4,295.6" fill="#fff5f6"/>
<polygon points="160.2,308.0 159.6,308.6 159.2,311.6 163.8,314.8 164.6,307.3" fill="#fff1f2"/>
<polygon points="148.0,301.5 144.3,301.4 143.0,305.6 146.7,306.1 149.4,303.0" fill="#fff1f2"/>
<polygon points="133.8,277.4 136.1,283.7 139.4,284.2 144.1,278.4 144.1,278.3" fill="#fff4f5"/>
<polygon points="140.2,298.1 131.6,297.2 137.6,302.1 138.4,302.8" fill="#fff1f3"/>
<polygon points="139.4,284.2 136.1,283.7 132.9,287.6 138.8,290.8 141.5,288.3" fill="#fff2f3"/>
<polygon points="140.2,298.1 141.1,297.4 141.2,297.2 138.7,292.0 132.1,295.2 131.6,297.1 131.6,297.2" fill="#fff5f6"/>
<polygon points="159.2,311.6 159.6,308.6 153.0,307.6 151.4,309.4 151.0,312.8 151.4,313.1 156.7,315.7" fill="#fff8f9"/>
<polygon points="131.3,290.2 132.2,287.8 127.6,283.8 124.9,287.1 123.7,291.2 123.9,291.3" fill="#fff1f2"/>
<polygon points="146.7,291.6 154.3,283.9 154.3,283.1 150.2,286.0 147.4,284.8 146.7,283.5 142.2,288.3" fill="#fff1f2"/>
<polygon points="146.5,309.4 151.0,312.8 151.4,309.4 147.5,308.2" fill="#fff2f3"/>
<polygon points="141.5,288.3 138.8,290.8 138.7,292.0 141.2,297.2 146.7,294.4 146.7,291.6 142.2,288.3" fill="#fff5f6"/>
<polygon points="132.1,295.2 131.3,290.2 123.9,291.3 130.6,296.4 131.6,297.1" fill="#fff1f2"/>
<polygon points="151.5,303.3 153.0,307.6 159.6,308.6 160.2,308.0 158.5,302.1 153.0,301.9" fill="#fffafb"/>
<polygon points="153.0,296.0 148.4,295.6 148.0,301.5 149.4,303.0 151.5,303.3 153.0,301.9" fill="#fff9f9"/>
<polygon points="146.7,291.6 146.7,294.4 148.4,295.6 153.0,296.0 155.7,294.2 154.8,290.6 154.3,283.9" fill="#fff2f3"/>
<polygon points="144.3,301.4 141.1,297.4 140.2,298.1 138.4,302.8 142.3,306.1 143.0,305.6" fill="#fff8f9"/>
<polygon points="132.1,295.2 138.7,292.0 138.8,290.8 132.9,287.6 132.2,287.8 131.3,290.2" fill="#fff2f3"/>
<polygon points="133.8,277.4 144.1,278.3 142.7,275.6 138.7,273.3 134.7,273.9 132.4,275.6 132.2,276.0" fill="#fff1f2"/>
<polygon points="192.0,307.7 192.4,309.3 194.0,309.0 205.5,309.0 213.6,310.8 212.4,304.4 211.6,301.8 198.4,301.0" fill="#fee8ea"/>
<polygon points="187.0,273.1 188.9,264.7 187.0,262.9 179.2,263.0 176.7,268.9 184.6,274.8" fill="#fee8ea"/>
<polygon points="177.4,305.6 178.1,306.3 191.0,306.9 189.1,302.3 177.1,293.1 176.7,293.1 175.2,296.7" fill="#fee9ea"/>
<polygon points="164.1,304.7 164.6,306.7 164.5,307.8 169.0,309.9 177.4,305.6 175.2,296.7 166.7,300.3" fill="#fff1f2"/>
<polygon points="203.7,273.9 198.4,271.6 194.6,274.1 195.4,284.1 204.8,278.8" fill="#ffecee"/>
<polygon points="189.1,302.3 191.6,287.9 187.0,286.8 177.1,293.1" fill="#ffeaec"/>
<polygon points="174.1,290.4 171.7,283.9 163.8,280.9 159.5,285.0 163.6,291.1" fill="#fff7f7"/>
<polygon points="196.9,263.3 198.4,271.6 203.7,273.9 212.8,265.4 212.4,262.9 210.1,259.5 204.4,258.3 200.1,258.8" fill="#fee8e9"/>
<polygon points="201.5,290.7 197.5,290.9 198.4,301.0 211.6,301.8 210.6,298.9" fill="#fee8ea"/>
<polygon points="163.1,271.2 166.6,269.0 166.5,253.7 166.4,253.7 161.8,252.6 157.7,254.9 157.1,260.6 159.4,265.3 160.6,270.8" fill="#fff1f2"/>
<polygon points="194.6,274.1 198.4,271.6 196.9,263.3 188.9,264.7 187.0,273.1" fill="#ffebec"/>
<polygon points="166.7,300.3 175.2,296.7 176.7,293.1 174.1,290.4 163.6,291.1 162.3,294.8" fill="#fff1f2"/>
<polygon points="205.7,279.6 205.9,287.4 209.7,288.4 211.3,283.7 213.4,280.2" fill="#fff4f5"/>
<polygon points="193.2,287.7 191.6,287.9 189.1,302.3 191.0,306.9 192.0,307.7 198.4,301.0 197.5,290.9" fill="#ffeced"/>
<polygon points="179.2,263.0 173.9,249.1 173.8,249.1 169.8,252.0 166.5,253.7 166.6,269.0 172.1,270.3 176.7,268.9" fill="#fff8f8"/>
<polygon points="179.2,263.0 187.0,262.9 187.4,255.2 184.2,252.0 180.8,253.7 177.3,253.7 176.7,250.3 173.9,249.1" fill="#feeaec"/>
<polygon points="169.0,309.9 170.9,315.4 171.0,315.4 178.4,312.8 178.1,306.3 177.4,305.6" fill="#fee7e9"/>
<polygon points="176.7,268.9 172.1,270.3 174.0,280.1 184.1,278.3 184.6,274.8" fill="#fff4f5"/>
<polygon points="159.5,285.0 163.8,280.9 163.1,271.2 160.6,270.8 160.6,271.0 162.3,274.5 157.1,275.6 156.0,280.2 154.3,283.1 154.5,285.6" fill="#fee8e9"/>
<polygon points="195.4,284.1 193.2,287.7 197.5,290.9 201.5,290.7 205.9,287.4 205.7,279.6 204.8,278.8" fill="#fff7f8"/>
<polygon points="172.1,270.3 166.6,269.0 163.1,271.2 163.8,280.9 171.7,283.9 174.0,280.1" fill="#fee9eb"/>
<polygon points="205.9,287.4 201.5,290.7 210.6,298.9 210.1,297.5 209.0,290.6 209.7,288.4" fill="#fff4f5"/>
<polygon points="203.7,273.9 204.8,278.8 205.7,279.6 213.4,280.2 214.7,277.9 213.6,271.0 212.8,265.4" fill="#fee7e9"/>
<polygon points="177.1,293.1 187.0,286.8 184.1,278.3 174.0,280.1 171.7,283.9 174.1,290.4 176.7,293.1" fill="#fff1f2"/>
<polygon points="157.1,296.1 160.6,298.7 163.5,302.1 164.1,304.7 166.7,300.3 162.3,294.8" fill="#fee8ea"/>
<polygon points="169.0,309.9 164.5,307.8 163.5,318.2 170.9,315.4" fill="#fff8f9"/>
<polygon points="184.1,278.3 187.0,286.8 191.6,287.9 193.2,287.7 195.4,284.1 194.6,274.1 187.0,273.1 184.6,274.8" fill="#fff7f8"/>
<polygon points="196.9,263.3 200.1,258.8 198.6,258.9 192.9,260.1 188.2,256.0 187.4,255.2 187.0,262.9 188.9,264.7" fill="#feeaeb"/>
<polygon points="178.4,312.8 182.5,311.3 192.4,309.3 192.0,307.7 191.0,306.9 178.1,306.3" fill="#ffedef"/>
<polygon points="162.3,294.8 163.6,291.1 159.5,285.0 154.5,285.6 154.8,290.6 156.0,295.2 157.1,296.1" fill="#ffeff0"/>
<polygon points="231.0,256.7 229.9,253.9 219.8,252.8 218.2,258.3 221.4,263.9 228.9,259.8" fill="#fff9f9"/>
<polygon points="242.8,251.6 241.5,249.1 240.9,246.2 234.3,246.2 230.7,246.4 229.9,253.9 231.0,256.7 237.7,258.1" fill="#fee7e9"/>
<polygon points="226.7,273.7 233.1,276.1 237.8,269.1 232.2,267.3 226.2,272.0" fill="#ffeff1"/>
<polygon points="234.4,298.1 220.7,295.5 220.6,295.5 216.4,312.3 219.9,314.2 224.7,311.6" fill="#fff6f7"/>
<polygon points="220.4,266.5 221.4,263.9 218.2,258.3 212.2,257.5 212.4,262.9 213.5,270.1" fill="#ffeff0"/>
<polygon points="247.4,275.0 247.3,272.2 246.2,261.4 240.5,262.3 239.5,268.6" fill="#fff9f9"/>
<polygon points="218.2,258.3 219.8,252.8 216.8,247.2 213.6,247.4 211.9,249.1 212.2,257.5" fill="#ffeff1"/>
<polygon points="219.8,281.9 211.4,283.6 211.3,283.7 210.7,285.6 218.9,294.1 219.2,294.2" fill="#fee7e9"/>
<polygon points="235.5,281.9 247.5,277.5 247.4,275.0 239.5,268.6 237.8,269.1 233.1,276.1" fill="#fee9eb"/>
<polygon points="220.6,295.5 220.7,295.5 228.6,285.3 223.1,280.1 221.3,280.3 219.8,281.9 219.2,294.2" fill="#ffecee"/>
<polygon points="232.2,267.3 228.9,259.8 221.4,263.9 220.4,266.5 226.2,272.0" fill="#fff4f5"/>
<polygon points="236.6,290.3 235.3,297.9 239.4,301.4 248.4,294.0 248.1,288.6" fill="#fff2f3"/>
<polygon points="219.8,281.9 221.3,280.3 213.8,272.2 214.7,277.9 211.4,283.6" fill="#fff6f7"/>
<polygon points="218.9,294.1 210.7,285.6 209.0,290.6 209.8,295.2" fill="#ffebec"/>
<polygon points="235.5,281.9 234.0,285.1 236.6,290.3 248.1,288.6 247.9,283.7 247.5,277.5" fill="#ffeff0"/>
<polygon points="236.6,290.3 234.0,285.1 228.6,285.3 220.7,295.5 234.4,298.1 235.3,297.9" fill="#ffebec"/>
<polygon points="220.6,295.5 219.2,294.2 218.9,294.1 209.8,295.2 210.1,297.5 212.4,304.4 213.6,310.8 216.4,312.3" fill="#fff3f4"/>
<polygon points="234.4,298.1 224.7,311.6 226.3,310.8 234.3,307.9 241.2,305.3 239.4,301.4 235.3,297.9" fill="#fff5f6"/>
<polygon points="220.4,266.5 213.5,270.1 213.6,271.0 213.8,272.2 221.3,280.3 223.1,280.1 226.7,273.7 226.2,272.0" fill="#feeaec"/>
<polygon points="239.5,268.6 240.5,262.3 237.7,258.1 231.0,256.7 228.9,259.8 232.2,267.3 237.8,269.1" fill="#fee7e8"/>
<polygon points="241.2,305.3 243.5,304.4 251.9,299.8 248.4,295.2 248.4,294.0 239.4,301.4" fill="#fee9eb"/>
<polygon points="219.8,252.8 229.9,253.9 230.7,246.4 222.8,246.8 216.8,247.2" fill="#feeaec"/>
<polygon points="223.1,280.1 228.6,285.3 234.0,285.1 235.5,281.9 233.1,276.1 226.7,273.7" fill="#feeaeb"/>
<polygon points="246.2,261.4 246.1,260.6 243.8,253.7 242.8,251.6 237.7,258.1 240.5,262.3" fill="#ffebed"/>
<polygon points="252.4,274.8 256.4,268.7 252.2,267.3 250.1,270.7" fill="#fff8f9"/>
<polygon points="247.1,270.8 247.3,272.2 247.4,274.6 252.3,276.0 252.4,274.8 250.1,270.7" fill="#ffedef"/>
<polygon points="245.1,251.7 248.6,257.4 251.1,256.4 250.7,256.0 250.2,251.4 247.1,248.7" fill="#ffeaec"/>
<polygon points="252.1,282.7 251.9,277.5 247.7,279.6 247.9,283.7 247.9,284.1" fill="#ffecee"/>
<polygon points="252.5,276.3 252.5,276.6 258.4,281.4 258.2,277.9 257.9,275.0" fill="#ffeaec"/>
<polygon points="245.1,251.7 247.1,248.7 245.0,246.8 240.9,246.2 241.5,249.1 243.1,252.2" fill="#ffeaec"/>
<polygon points="253.6,291.0 255.1,284.7 252.1,282.7 247.9,284.1 248.3,292.0" fill="#fff4f5"/>
<polygon points="253.6,291.0 248.3,292.0 248.4,295.2 251.9,299.8 258.8,297.5 258.8,293.4" fill="#fff2f4"/>
<polygon points="248.6,257.4 245.1,251.7 243.1,252.2 243.8,253.7 245.9,259.9" fill="#ffeaec"/>
<polygon points="252.2,267.3 256.4,268.7 257.2,268.6 257.1,267.6 254.9,261.1 250.9,265.4" fill="#fff1f2"/>
<polygon points="250.1,270.7 252.2,267.3 250.9,265.4 246.4,263.8 247.1,270.8" fill="#ffeaec"/>
<polygon points="248.6,257.4 245.9,259.9 246.1,260.6 246.4,263.8 250.9,265.4 254.9,261.1 254.8,260.6 251.1,256.4" fill="#ffebed"/>
<polygon points="253.6,291.0 258.8,293.4 258.8,289.4 258.5,282.4 255.1,284.7" fill="#ffedef"/>
<polygon points="252.5,276.6 251.9,277.5 252.1,282.7 255.1,284.7 258.5,282.4 258.4,281.4" fill="#ffeaec"/>
<polygon points="265.9,253.7 260.4,256.9 260.6,258.8 262.1,260.3 263.9,260.9 267.9,258.0" fill="#fff1f2"/>
<polygon points="279.3,240.7 279.0,237.6 275.5,235.6 276.0,240.5" fill="#ffeff0"/>
<polygon points="267.2,269.4 264.0,272.0 264.6,274.9 269.3,277.5 270.1,277.4 270.3,272.2 270.5,271.3" fill="#ffeeef"/>
<polygon points="269.9,258.5 269.8,264.5 272.9,265.5 275.9,261.0" fill="#ffecee"/>
<polygon points="275.1,241.0 271.3,239.8 269.9,242.3 270.6,245.5 274.3,245.8" fill="#ffeeef"/>
<polygon points="261.6,292.6 265.6,295.8 269.7,290.1 269.7,288.4 265.8,287.4" fill="#fff5f6"/>
<polygon points="263.0,285.1 264.1,285.2 265.2,281.3 260.0,277.5 258.2,277.6 258.2,277.9 258.4,281.6" fill="#fff3f4"/>
<polygon points="254.7,254.7 257.7,253.1 258.2,251.0 253.4,246.5 253.0,246.8 250.2,251.4 250.4,253.1" fill="#fff9f9"/>
<polygon points="263.0,285.1 258.4,281.6 258.7,287.5" fill="#fff1f1"/>
<polygon points="258.5,269.0 265.7,265.1 263.9,260.9 262.1,260.3 257.2,268.3 257.2,268.9" fill="#ffedee"/>
<polygon points="263.4,241.2 269.9,242.3 271.3,239.8 268.8,233.6 268.0,234.1 264.6,240.5 263.1,241.0" fill="#fff3f4"/>
<polygon points="269.9,242.3 263.4,241.2 267.5,248.0 270.6,245.5" fill="#ffedee"/>
<polygon points="254.7,254.7 250.4,253.1 250.7,256.0 253.4,259.1" fill="#fff7f8"/>
<polygon points="271.3,239.8 275.1,241.0 276.0,240.5 275.5,235.6 274.9,235.3 270.3,232.4 268.8,233.6" fill="#ffeeef"/>
<polygon points="261.6,292.6 265.8,287.4 264.1,285.2 263.0,285.1 258.7,287.5 258.8,289.4 258.8,293.2" fill="#fff4f5"/>
<polygon points="265.6,295.8 261.6,292.6 258.8,293.2 258.8,297.5 265.8,296.4" fill="#fff8f8"/>
<polygon points="272.0,255.0 278.0,256.8 279.5,253.7 279.8,252.9 273.5,251.0 271.7,252.0" fill="#fff9f9"/>
<polygon points="260.7,249.7 266.3,250.4 266.9,249.9 267.5,248.0 263.4,241.2 263.1,241.0 261.1,241.7" fill="#ffeced"/>
<polygon points="273.5,251.0 274.4,245.8 274.3,245.8 270.6,245.5 267.5,248.0 266.9,249.9 271.7,252.0" fill="#fff8f9"/>
<polygon points="274.4,245.8 273.5,251.0 279.8,252.9 280.7,249.1 280.4,247.2" fill="#fff6f7"/>
<polygon points="260.4,256.9 257.7,253.1 254.7,254.7 253.4,259.1 254.8,260.6 255.0,261.2 260.6,258.8" fill="#fff6f7"/>
<polygon points="265.2,281.3 269.3,277.5 264.6,274.9 260.0,277.5" fill="#fff7f8"/>
<polygon points="272.0,255.0 269.7,258.3 269.9,258.5 275.9,261.0 276.1,260.6 278.0,256.8" fill="#ffedee"/>
<polygon points="276.0,240.5 275.1,241.0 274.3,245.8 274.4,245.8 280.4,247.2 279.5,242.2 279.3,240.7" fill="#ffebed"/>
<polygon points="267.2,269.4 266.4,265.5 265.7,265.1 258.5,269.0 264.0,272.0" fill="#ffeff0"/>
<polygon points="269.8,264.5 266.4,265.5 267.2,269.4 270.5,271.3 271.5,267.6 272.9,265.5" fill="#fff2f3"/>
<polygon points="264.6,274.9 264.0,272.0 258.5,269.0 257.2,268.9 258.2,277.6 260.0,277.5" fill="#ffecee"/>
<polygon points="260.7,249.7 258.2,251.0 257.7,253.1 260.4,256.9 265.9,253.7 266.3,250.4" fill="#fff7f7"/>
<polygon points="266.9,249.9 266.3,250.4 265.9,253.7 267.9,258.0 269.7,258.3 272.0,255.0 271.7,252.0" fill="#ffeeef"/>
<polygon points="228.0,227.9 229.5,233.2 236.1,232.0 236.9,227.5 229.6,226.7" fill="#fff7f7"/>
<polygon points="228.8,209.9 226.9,217.6 231.1,220.5 238.2,220.5 234.4,211.6" fill="#ffeaeb"/>
<polygon points="231.1,220.5 226.9,217.6 224.8,218.8 225.6,227.1 228.0,227.9 229.6,226.7" fill="#ffe8ea"/>
<polygon points="254.8,234.1 251.5,237.3 253.2,246.7 257.6,242.8 262.9,241.0" fill="#ffeff0"/>
<polygon points="221.1,218.9 218.8,216.9 212.4,218.9 215.7,225.6 217.6,226.2" fill="#fff6f6"/>
<polygon points="237.5,234.2 243.8,236.4 244.4,236.0 245.4,230.0 238.9,225.1 236.9,227.5 236.1,232.0" fill="#fff1f2"/>
<polygon points="239.5,246.2 240.9,246.2 245.0,246.8 246.8,248.4 243.5,237.9 238.4,242.1" fill="#fff3f4"/>
<polygon points="193.4,252.6 199.5,251.5 198.5,245.9 186.3,238.8 185.4,239.9 185.7,243.3" fill="#ffedee"/>
<polygon points="228.8,209.9 234.4,211.6 238.8,209.5 239.0,204.5 232.0,204.2 226.7,206.0" fill="#fff4f4"/>
<polygon points="215.0,234.3 210.0,232.3 208.0,233.6 207.2,237.1 211.0,240.2 214.9,236.7" fill="#fff6f6"/>
<polygon points="211.0,240.2 207.2,237.1 203.3,239.1 203.9,243.6 207.6,245.8 210.8,243.0" fill="#fff4f5"/>
<polygon points="224.8,218.8 226.9,217.6 228.8,209.9 226.7,206.0 225.1,206.5 219.4,210.5 217.9,211.1 218.8,216.9 221.1,218.9" fill="#fff5f6"/>
<polygon points="251.5,237.3 254.8,234.1 255.2,232.4 247.3,228.8 245.4,230.0 244.4,236.0" fill="#fff5f5"/>
<polygon points="219.5,229.2 217.6,226.2 215.7,225.6 209.7,227.1 210.0,232.3 215.0,234.3 219.3,230.6" fill="#ffe8ea"/>
<polygon points="203.3,239.1 207.2,237.1 208.0,233.6 203.2,231.8 198.2,235.4" fill="#fee7e8"/>
<polygon points="254.8,234.1 262.9,241.0 264.6,240.5 267.3,235.4 257.4,229.4 255.2,232.4" fill="#fee7e8"/>
<polygon points="225.6,227.1 219.5,229.2 219.3,230.6 226.4,238.6 229.5,233.2 228.0,227.9" fill="#ffebec"/>
<polygon points="226.4,238.6 226.4,239.5 228.0,242.4 233.7,240.5 237.5,234.2 236.1,232.0 229.5,233.2" fill="#ffeaeb"/>
<polygon points="227.7,246.6 234.3,246.2 239.5,246.2 238.4,242.1 233.7,240.5 228.0,242.4" fill="#ffe8e9"/>
<polygon points="233.7,240.5 238.4,242.1 243.5,237.9 243.8,236.4 237.5,234.2" fill="#ffeeef"/>
<polygon points="218.2,240.0 216.1,244.7 217.4,247.2 222.8,246.8 227.7,246.6 228.0,242.4 226.4,239.5" fill="#ffe8ea"/>
<polygon points="214.9,236.7 211.0,240.2 210.8,243.0 216.1,244.7 218.2,240.0" fill="#ffeaeb"/>
<polygon points="251.5,237.3 244.4,236.0 243.8,236.4 243.5,237.9 246.8,248.4 250.2,251.4 253.0,246.8 253.2,246.7" fill="#ffeaeb"/>
<polygon points="208.0,233.6 210.0,232.3 209.7,227.1 206.1,224.4 203.7,227.1 203.2,231.8" fill="#ffe9eb"/>
<polygon points="216.1,244.7 210.8,243.0 207.6,245.8 207.7,247.3 211.9,250.7 211.9,249.1 213.6,247.4 217.4,247.2" fill="#ffebec"/>
<polygon points="247.3,228.8 255.2,232.4 257.4,229.4 257.9,226.0 253.0,223.2 254.2,222.1 251.6,219.0" fill="#fff3f3"/>
<polygon points="193.4,252.6 185.7,243.3 185.9,246.8 184.2,252.0 188.2,256.0 192.3,259.5" fill="#fff0f1"/>
<polygon points="206.1,224.4 209.7,227.1 215.7,225.6 212.4,218.9 210.1,218.1 205.8,222.4" fill="#ffe9ea"/>
<polygon points="207.6,245.8 203.9,243.6 198.5,245.9 199.5,251.5 202.5,254.1 207.7,247.3" fill="#ffeeef"/>
<polygon points="238.8,209.5 247.7,213.9 245.6,211.1 243.8,204.8 239.0,204.5" fill="#fee6e7"/>
<polygon points="236.9,227.5 238.9,225.1 239.1,221.0 238.2,220.5 231.1,220.5 229.6,226.7" fill="#ffeff0"/>
<polygon points="193.4,252.6 192.3,259.5 192.9,260.1 198.6,258.9 203.5,258.4 202.5,254.1 199.5,251.5" fill="#ffe9ea"/>
<polygon points="198.2,235.4 203.2,231.8 203.7,227.1 196.3,227.4 195.2,229.5 194.0,234.1 191.6,235.1" fill="#fff5f5"/>
<polygon points="191.6,235.1 188.2,236.5 186.3,238.8 198.5,245.9 203.9,243.6 203.3,239.1 198.2,235.4" fill="#fff1f1"/>
<polygon points="217.9,211.1 212.4,213.4 210.1,218.0 210.1,218.1 212.4,218.9 218.8,216.9" fill="#fee6e7"/>
<polygon points="239.1,221.0 238.9,225.1 245.4,230.0 247.3,228.8 251.6,219.0 250.7,218.0 249.0,215.7" fill="#fff3f4"/>
<polygon points="202.5,254.1 203.5,258.4 204.4,258.3 210.1,259.5 212.4,262.9 211.9,250.7 207.7,247.3" fill="#ffeaeb"/>
<polygon points="226.4,238.6 219.3,230.6 215.0,234.3 214.9,236.7 218.2,240.0 226.4,239.5" fill="#fff7f7"/>
<polygon points="219.5,229.2 225.6,227.1 224.8,218.8 221.1,218.9 217.6,226.2" fill="#ffeaeb"/>
<polygon points="114.5,207.1 116.8,205.9 120.3,198.4 123.7,197.9 128.3,200.7 137.6,199.6 143.3,198.4 144.5,196.7 145.6,198.2 150.2,199.0 151.4,203.0 154.8,207.6 156.0,210.5 151.4,213.4 150.2,216.9 152.5,220.3 151.4,226.1 147.9,231.3 145.0,231.3 142.2,233.6 138.7,234.7 134.1,234.1 130.6,236.5 126.0,235.3 122.8,230.7 122.6,223.8 120.3,220.3 118.0,214.6 116.2,210.0" fill="#fedfe1" stroke="#707070" stroke-width="0.5"/>
<polygon points="150.2,199.0 175.6,199.0 174.4,203.0 172.1,210.0 170.4,214.6 171.0,219.2 168.7,223.8 172.1,228.4 176.7,230.7 174.4,237.6 169.8,236.5 167.5,231.8 164.1,235.3 159.4,237.6 153.7,239.9 152.0,242.2 149.7,237.6 147.9,231.8 151.4,226.1 152.5,220.3 150.2,216.9 151.4,213.4 156.0,210.5 154.8,207.6 151.4,203.0" fill="#fdd9dc" stroke="#707070" stroke-width="0.5"/>
<polygon points="175.6,199.0 184.2,198.2 188.2,200.2 185.9,203.0 183.6,207.6 188.2,212.3 191.7,216.9 198.6,219.2 199.8,221.5 197.5,224.9 195.2,229.5 194.0,234.1 188.2,236.5 185.4,239.9 179.0,234.1 176.7,230.7 172.1,228.4 168.7,223.8 171.0,219.2 170.4,214.6 172.1,210.0 174.4,203.0" fill="#fedde0" stroke="#707070" stroke-width="0.5"/>
<polygon points="184.2,198.2 188.2,200.2 192.9,197.3 198.6,199.0 203.2,196.1 210.1,194.4 214.7,198.4 220.5,200.7 227.4,201.9 232.0,204.2 225.1,206.5 219.4,210.5 212.4,213.4 210.1,218.0 205.5,222.6 199.8,221.5 198.6,219.2 191.7,216.9 188.2,212.3 183.6,207.6 185.9,203.0" fill="#fee0e2" stroke="#707070" stroke-width="0.5"/>
<polygon points="152.0,242.2 153.7,239.9 159.4,237.6 164.1,235.3 167.5,231.8 169.8,236.5 174.4,237.6 176.7,230.7 179.0,234.1 185.4,239.9 185.9,246.8 184.2,252.0 180.8,253.7 177.3,253.7 176.7,250.3 173.8,249.1 169.8,252.0 166.4,253.7 161.8,252.6 157.7,254.9 156.0,250.3 152.5,246.8 154.3,244.5" fill="#fdd8db" stroke="#707070" stroke-width="0.5"/>
<polygon points="241.5,130.0 253.6,137.5 253.0,141.0 257.6,143.8 258.8,146.7 268.0,149.6 274.4,151.9 275.5,155.9 273.8,159.4 276.1,161.1 285.3,159.7 285.1,171.3 262.3,171.5 261.1,173.8 253.0,174.4 246.1,170.9 241.5,162.3 230.0,160.0 233.2,160.6 220.5,150.2 229.7,144.4 238.9,137.5 240.7,132.3" fill="#fff5f6" stroke="#707070" stroke-width="0.5"/>
<polygon points="233.2,160.6 230.0,160.0 241.5,162.3 246.1,170.9 253.0,174.4 261.1,173.8 262.3,171.5 285.1,171.3 285.3,181.3 283.6,186.9 282.4,196.1 278.4,199.6 268.0,200.2 253.0,201.3 243.8,204.8 236.6,203.6 235.5,200.0 234.3,183.6 226.3,182.4 224.5,176.7 229.7,173.2 232.6,169.8" fill="#fff2f3" stroke="#707070" stroke-width="0.5"/>
<polygon points="285.3,181.3 285.9,164.0 292.2,164.2 291.6,170.9 294.5,175.5 299.1,179.6 304.9,184.7 308.3,191.7 310.6,195.1 310.6,199.6 308.3,213.4 309.5,220.9 304.9,218.0 299.1,216.3 294.5,216.9 287.6,218.6 288.8,213.4 286.5,208.8 284.1,203.0 282.4,196.1 283.6,186.9" fill="#e8878c" stroke="#707070" stroke-width="0.5"/>
<polygon points="311.2,199.1 318.7,199.1 327.9,198.0 337.1,194.0 351.0,184.7 365.9,177.6 365.4,210.0 356.7,214.6 352.1,222.1 346.4,223.2 341.8,226.1 337.1,226.7 331.4,226.1 326.8,223.2 328.5,214.6 322.2,208.8 318.7,201.9 317.6,199.6" fill="#fccdd0" stroke="#707070" stroke-width="0.5"/>
<polygon points="310.6,199.6 317.6,199.6 318.7,201.9 322.2,208.8 328.5,214.6 326.8,223.2 322.2,222.4 317.6,223.8 312.9,224.4 309.5,220.9 308.3,213.4" fill="#f6b3b7" stroke="#707070" stroke-width="0.5"/>
<polygon points="365.9,177.6 377.5,171.5 402.5,170.9 402.5,183.6 397.1,186.9 391.3,193.8 384.4,203.0 380.9,210.0 382.1,218.0 376.3,219.7 371.7,223.2 365.9,223.5 359.0,221.8 352.1,222.1 356.7,214.6 365.4,210.0" fill="#ffeced" stroke="#707070" stroke-width="0.5"/>
<polygon points="243.8,204.8 253.0,201.3 268.0,200.2 278.4,199.6 282.4,196.1 284.1,203.0 286.5,208.8 280.7,213.4 273.8,216.9 268.0,223.8 268.6,229.5 270.3,232.4 268.0,234.1 264.6,232.4 263.4,229.0 260.0,227.2 253.0,223.2 254.2,222.1 250.7,218.0 245.6,211.1" fill="#f8b4b8" stroke="#707070" stroke-width="0.5"/>
<polygon points="286.5,208.8 280.7,213.4 273.8,216.9 268.0,223.8 268.6,229.5 270.3,232.4 274.9,235.3 279.0,237.6 279.5,229.5 284.1,222.1 287.6,218.6 288.8,213.4" fill="#fbc8cb" stroke="#707070" stroke-width="0.5"/>
<polygon points="279.5,229.5 284.1,222.1 287.6,218.6 294.5,216.9 299.1,216.3 304.9,218.0 309.5,220.9 312.9,224.4 315.3,226.1 308.9,224.4 304.3,226.1 299.7,230.7 293.9,235.3 293.9,238.2 297.4,239.9 303.2,242.8 304.9,246.8 302.0,245.7 295.1,244.5 290.5,249.1 285.9,246.8 280.1,248.0 280.7,249.1 279.5,242.2 279.0,237.6" fill="#fee0e2" stroke="#707070" stroke-width="0.5"/>
<polygon points="325.6,231.8 330.2,230.7 333.7,234.1 336.0,237.6 338.3,241.1 334.8,243.9 332.5,246.8 332.0,250.3 330.2,246.8 326.8,242.2 322.7,241.1 323.3,235.3" fill="#fcc8cb" stroke="#707070" stroke-width="0.5"/>
<polygon points="315.3,226.1 322.2,223.2 330.2,226.7 331.4,230.7 325.6,231.8 323.3,235.3 322.7,241.1 317.6,243.4 313.5,241.1 315.8,235.3" fill="#e88a90" stroke="#707070" stroke-width="0.5"/>
<polygon points="305.5,250.3 310.6,246.8 317.6,243.4 322.7,241.6 326.8,242.8 330.2,247.4 332.0,250.9 331.4,258.3 329.1,266.4 323.3,265.3 317.6,263.5 317.0,258.3 312.9,253.7 308.3,253.7" fill="#f4a0a6" stroke="#707070" stroke-width="0.5"/>
<polygon points="333.1,248.0 338.3,243.9 344.1,245.7 349.8,249.1 352.1,254.9 355.0,260.6 349.8,262.4 344.1,260.6 339.4,261.8 336.0,258.3 332.5,254.9" fill="#f7adb2" stroke="#707070" stroke-width="0.5"/>
<polygon points="331.4,226.1 340.6,226.7 346.4,225.5 351.0,230.7 349.8,230.7 342.9,234.1 345.2,239.9 344.1,245.1 338.9,243.4 336.6,237.6 333.7,233.6 331.4,230.7" fill="#fdd0d3" stroke="#707070" stroke-width="0.5"/>
<polygon points="342.9,234.1 349.8,230.7 353.3,235.3 354.4,242.2 352.1,244.5 348.7,248.0 344.1,245.1 345.2,239.9" fill="#f9b5ba" stroke="#707070" stroke-width="0.5"/>
<polygon points="351.0,223.8 368.2,223.8 370.6,228.4 368.2,237.6 367.1,245.7 362.5,251.4 356.7,244.5 355.0,239.9 353.3,235.3 351.0,230.7 346.4,225.5" fill="#f7a9ae" stroke="#707070" stroke-width="0.5"/>
<polygon points="370.6,223.8 376.3,219.7 382.1,218.0 385.0,221.5 387.8,226.1 389.0,231.8 392.4,234.1 393.0,239.3 390.7,242.8 385.5,246.2 382.1,251.4 377.5,252.0 370.6,256.0 364.8,254.9 362.5,251.4 367.1,245.7 368.2,237.6 370.6,228.4" fill="#c24a48" stroke="#707070" stroke-width="0.5"/>
<polygon points="352.1,244.5 356.7,244.5 362.5,251.4 364.8,254.9 361.3,260.6 355.0,260.6 352.1,254.9 349.8,249.1" fill="#fdd0d3" stroke="#707070" stroke-width="0.5"/>
<polygon points="270.3,273.3 276.1,269.9 280.7,266.4 284.1,271.0 288.2,277.9 284.1,281.4 283.0,288.3 278.4,284.8 273.8,282.5 270.9,279.1" fill="#f7a9ae" stroke="#707070" stroke-width="0.5"/>
<polygon points="274.4,293.5 279.5,292.9 284.1,294.1 285.3,295.6 274.4,295.8" fill="#fcc6ca" stroke="#707070" stroke-width="0.5"/>
<polygon points="280.1,248.0 285.9,246.8 290.5,249.1 295.1,244.5 302.0,245.7 304.9,249.1 306.6,252.6 312.4,251.4 315.8,256.0 317.0,260.6 315.8,266.4 311.2,267.6 310.6,276.2 306.6,272.2 299.7,268.7 290.5,265.3 287.0,260.6 282.4,256.0 279.5,253.7" fill="#a01018" stroke="#707070" stroke-width="0.5"/>
<polygon points="293.9,235.3 299.7,230.7 304.3,226.1 308.9,224.4 314.1,224.9 315.3,230.7 314.7,237.6 311.2,242.2 308.9,245.7 304.9,246.8 303.2,242.8 297.4,239.9 293.9,238.2" fill="#9b0712" stroke="#707070" stroke-width="0.5"/>
<polygon points="290.5,246.2 292.8,242.8 297.4,241.6 302.0,242.8 304.9,246.8 304.9,249.1 302.0,245.7 295.1,244.5 290.5,249.1" fill="#9e0c15" stroke="#707070" stroke-width="0.5"/>
<polygon points="312.4,267.6 319.9,265.8 329.1,267.0 333.7,271.0 338.3,275.6 333.7,277.9 327.9,279.1 321.0,280.2 314.1,279.1 312.9,273.3" fill="#fcc8cc" stroke="#707070" stroke-width="0.5"/>
<polygon points="322.2,280.2 330.2,277.9 338.3,280.2 343.5,283.7 342.3,289.4 337.1,290.6 331.4,289.4 325.6,288.3 322.7,284.8" fill="#ee8f95" stroke="#707070" stroke-width="0.5"/>
<polygon points="338.3,275.6 344.1,272.2 351.0,262.9 355.0,260.6 361.3,260.6 364.8,267.6 362.5,275.6 360.2,283.7 356.7,288.3 354.4,291.8 351.5,288.9 347.5,291.2 344.1,292.3 342.3,289.4 343.5,283.7" fill="#f9b3b8" stroke="#707070" stroke-width="0.5"/>
<polygon points="364.8,254.9 370.6,256.0 377.5,252.0 382.1,251.4 382.1,253.7 378.6,260.6 375.2,267.6 372.9,272.2 370.0,277.9 367.1,283.7 364.2,289.4 360.8,294.1 357.9,294.6 356.7,288.3 360.2,283.7 362.5,275.6 364.8,267.6 361.3,260.6" fill="#ffe3e5" stroke="#707070" stroke-width="0.5"/>
<polygon points="329.1,290.6 337.1,290.6 340.6,296.4 337.1,301.0 333.7,305.6 332.5,312.5 330.2,315.4 327.9,315.9 322.2,315.4 321.0,307.9 324.5,304.4 325.6,295.2" fill="#f4a0a6" stroke="#707070" stroke-width="0.5"/>
<polygon points="309.5,307.9 315.3,305.6 318.7,310.2 317.6,315.4 314.1,314.2 310.6,317.1" fill="#fcc6ca" stroke="#707070" stroke-width="0.5"/>
<polygon points="296.2,304.4 301.4,301.0 308.3,302.1 309.5,307.9 310.6,317.1 304.9,317.7 300.9,314.8 298.0,310.2" fill="#fdd0d3" stroke="#707070" stroke-width="0.5"/>
<polygon points="310.6,276.2 311.2,267.6 315.8,266.4 317.6,263.5 323.3,265.3 329.1,266.4 329.1,267.0 319.9,265.8 312.4,267.6 312.9,273.3 314.1,279.1" fill="#fcc8cc" stroke="#707070" stroke-width="0.5"/>
<polygon points="294.5,279.1 301.4,275.6 306.6,272.2 310.6,276.2 314.1,279.1 321.0,280.2 322.2,280.2 322.7,284.8 319.9,290.6 312.9,292.9 306.0,290.6 299.1,288.3 295.7,283.7" fill="#fcc6ca" stroke="#707070" stroke-width="0.5"/>
<polygon points="284.1,281.4 288.2,277.9 294.5,279.1 295.7,283.7 299.1,288.3 306.0,290.6 304.9,296.4 301.4,301.0 296.2,304.4 292.8,300.4 287.6,296.9 285.3,295.6 284.1,294.1 283.0,288.3" fill="#fccacd" stroke="#707070" stroke-width="0.5"/>
<polygon points="312.9,292.9 319.9,290.6 325.6,288.3 325.6,295.2 324.5,304.4 321.0,307.9 315.3,305.6 309.5,307.9 308.3,302.1 304.9,296.4 306.0,290.6" fill="#fdd3d6" stroke="#707070" stroke-width="0.5"/>
<polygon points="217.1,294.1 220.5,288.3 227.4,284.3 234.3,285.4 238.9,287.1 234.3,290.6 230.9,296.4 228.0,301.0 222.8,299.8 219.4,296.4" fill="#f7a9ae" stroke="#707070" stroke-width="0.5"/>
<polygon points="230.9,296.4 234.3,290.6 238.9,287.1 243.5,288.3 242.4,295.2 238.9,301.0 233.2,302.7 229.1,301.0" fill="#f9bfc3" stroke="#707070" stroke-width="0.5"/>
<polygon points="236.6,305.0 244.7,301.0 249.3,301.9 243.5,304.4 238.9,306.7" fill="#f7a9ae" stroke="#707070" stroke-width="0.5"/>
<polygon points="228.0,260.6 234.3,253.7 242.4,254.9 244.7,262.9 243.5,272.2 236.6,271.0 229.7,267.6" fill="#ffe9eb" stroke="#707070" stroke-width="0.5"/>
<polygon points="156.0,281.4 162.3,274.5 167.5,279.1 168.1,295.2 168.7,301.0 164.6,302.1 160.6,298.7 156.0,295.2 154.8,290.6" fill="#ffe9eb" stroke="#707070" stroke-width="0.5"/>
<polygon points="169.2,282.5 180.2,281.4 183.6,287.1 184.2,294.1 176.7,296.9 169.8,296.4" fill="#ffe9eb" stroke="#707070" stroke-width="0.5"/>
<polygon points="165.2,303.3 168.7,301.0 175.6,298.7 183.6,306.7 188.2,307.9 182.5,311.3 171.0,315.4 163.5,318.2 164.6,306.7" fill="#f9b8bc" stroke="#707070" stroke-width="0.5"/>
<polygon points="172.1,258.3 188.2,257.2 194.0,262.9 199.8,269.9 197.5,274.5 188.2,272.2 183.6,265.3 176.7,267.6 171.0,265.3" fill="#ffeced" stroke="#707070" stroke-width="0.5"/>
<polygon points="197.5,305.0 202.1,305.0 202.1,308.5 197.5,308.5" fill="#f7a9ae" stroke="#707070" stroke-width="0.5"/>
<polygon points="130.6,244.5 137.6,239.9 145.6,237.6 149.7,237.6 152.0,242.2 154.3,244.5 152.5,246.8 156.0,250.3 157.7,254.9 157.1,260.6 159.4,265.3 160.6,271.0 162.3,274.5 157.1,275.6 156.0,280.2 154.3,283.1 150.2,286.0 147.4,284.8 144.5,279.1 145.6,269.9 141.0,268.7 137.6,262.9 134.1,258.3 135.3,251.4" fill="#ffe4e6" stroke="#707070" stroke-width="0.5"/>
<polygon points="96.1,244.5 103.0,242.2 107.6,249.1 114.5,253.7 112.8,259.5 108.8,264.1 106.5,267.0 104.1,268.7 100.7,264.1 99.5,260.6 96.1,257.2 98.4,251.4" fill="#ffe9eb" stroke="#707070" stroke-width="0.5"/>
<polygon points="112.8,259.5 119.1,257.8 125.5,258.3 128.3,262.9 131.2,269.9 124.9,272.2 118.0,273.3 107.6,271.0 106.5,267.0 108.8,264.1" fill="#f9c0c4" stroke="#707070" stroke-width="0.5"/>
<polygon points="198.6,226.1 211.3,223.8 213.6,234.1 209.0,242.2 199.8,244.5 189.4,239.9 194.0,234.1 195.2,229.5" fill="#ffe4e6" stroke="#707070" stroke-width="0.5"/>
<polygon points="188.2,242.2 195.2,239.9 198.6,244.5 192.9,248.0 187.7,246.2" fill="#f9b8bc" stroke="#707070" stroke-width="0.5"/>
<polygon points="230.0,218.0 236.9,214.6 242.7,218.0 246.1,226.1 241.5,234.1 234.6,235.3 230.0,231.8" fill="#ffe6e8" stroke="#707070" stroke-width="0.5"/>
<polygon points="220.5,230.7 227.4,229.5 229.7,235.3 222.8,236.5" fill="#ffdfe1" stroke="#707070" stroke-width="0.5"/>
<polygon points="62.7,204.8 67.3,199.6 73.0,200.7 76.5,207.6 73.0,213.4 67.9,214.6 66.1,212.3 62.7,208.2" fill="#ffe9eb" stroke="#707070" stroke-width="0.5"/>
<polygon points="71.9,191.5 89.2,188.6 96.1,193.8 90.3,203.0 88.0,199.6 78.8,197.3 73.0,198.4" fill="#fff0f1" stroke="#707070" stroke-width="0.5"/>
<use href="#mapl"/>
</g>
<text transform="translate(-0.1,27.5) scale(1.090,1)" font-size="38" font-weight="bold" stroke="#000" stroke-width="1.6" stroke-linejoin="round">a</text>
<text transform="translate(671.9,27.6) scale(1.090,1)" font-size="38" font-weight="bold" stroke="#000" stroke-width="1.6" stroke-linejoin="round">b</text>
<text transform="translate(1249.2,27.3) scale(1.090,1)" font-size="38" font-weight="bold" stroke="#000" stroke-width="1.6" stroke-linejoin="round">c</text>
<text transform="translate(0.9,480.0) scale(1.090,1)" font-size="38" font-weight="bold" stroke="#000" stroke-width="1.6" stroke-linejoin="round">d</text>
<text transform="translate(947.2,481.2) scale(1.090,1)" font-size="38" font-weight="bold" stroke="#000" stroke-width="1.6" stroke-linejoin="round">e</text>
<text transform="translate(0.4,1078.1) scale(1.090,1)" font-size="38" font-weight="bold" stroke="#000" stroke-width="1.6" stroke-linejoin="round">f</text>
<text transform="translate(0.6,1768.6) scale(1.090,1)" font-size="38" font-weight="bold" stroke="#000" stroke-width="1.6" stroke-linejoin="round">g</text>
<defs>
<linearGradient id="gA" x1="0" y1="0" x2="0" y2="1"><stop offset="0" stop-color="#163a78"/><stop offset="0.25" stop-color="#285a9a"/><stop offset="0.47" stop-color="#3b88be"/><stop offset="0.52" stop-color="#4292c6"/><stop offset="0.7" stop-color="#8cb3db"/><stop offset="0.85" stop-color="#c9d9ee"/><stop offset="1" stop-color="#ffffff"/></linearGradient>
<linearGradient id="gB" x1="0" y1="0" x2="0" y2="1"><stop offset="0" stop-color="#3f0a7f"/><stop offset="0.12" stop-color="#572d92"/><stop offset="0.3" stop-color="#7d62ae"/><stop offset="0.45" stop-color="#a08fc6"/><stop offset="0.6" stop-color="#bbb9da"/><stop offset="0.8" stop-color="#dad9eb"/><stop offset="1" stop-color="#faf9fd"/></linearGradient>
<linearGradient id="gC" x1="0" y1="0" x2="0" y2="1"><stop offset="0" stop-color="#98000d"/><stop offset="0.1" stop-color="#a82c29"/><stop offset="0.3" stop-color="#c5514f"/><stop offset="0.45" stop-color="#e07c7f"/><stop offset="0.55" stop-color="#f0959b"/><stop offset="0.72" stop-color="#f9bcc0"/><stop offset="0.88" stop-color="#fedfe1"/><stop offset="1" stop-color="#fff5f6"/></linearGradient>
</defs>
<rect x="429.0" y="127.1" width="46.9" height="224.4" fill="url(#gA)" stroke="none" stroke-width="1.2"/>
<line x1="430.0" y1="194.7" x2="438.5" y2="194.7" stroke="#fff" stroke-width="1.2"/>
<line x1="465.9" y1="194.7" x2="474.9" y2="194.7" stroke="#fff" stroke-width="1.2"/>
<line x1="430.0" y1="273.4" x2="438.5" y2="273.4" stroke="#fff" stroke-width="1.2"/>
<line x1="465.9" y1="273.4" x2="474.9" y2="273.4" stroke="#fff" stroke-width="1.2"/>
<text transform="translate(430.6,78.6) scale(1.070,1)" font-size="26.5">Population</text>
<text transform="translate(430.6,111.5) scale(0.997,1)" font-size="26.5">size</text>
<text transform="translate(489.1,202.5) scale(1.121,1)" font-size="22.3">10,000,000</text>
<text transform="translate(489.1,281.3) scale(1.149,1)" font-size="22.3">5,000,000</text>
<text transform="translate(489.1,359.9) scale(1.129,1)" font-size="22.3">0</text>
<rect x="1045.0" y="127.1" width="46.9" height="225.4" fill="url(#gB)" stroke="none" stroke-width="1.2"/>
<line x1="1046.0" y1="149.1" x2="1054.5" y2="149.1" stroke="#fff" stroke-width="1.2"/>
<line x1="1081.9" y1="149.1" x2="1090.9" y2="149.1" stroke="#fff" stroke-width="1.2"/>
<line x1="1046.0" y1="216.5" x2="1054.5" y2="216.5" stroke="#fff" stroke-width="1.2"/>
<line x1="1081.9" y1="216.5" x2="1090.9" y2="216.5" stroke="#fff" stroke-width="1.2"/>
<line x1="1046.0" y1="284.4" x2="1054.5" y2="284.4" stroke="#fff" stroke-width="1.2"/>
<line x1="1081.9" y1="284.4" x2="1090.9" y2="284.4" stroke="#fff" stroke-width="1.2"/>
<text transform="translate(1046.9,78.6) scale(1.079,1)" font-size="26.5">Probability</text>
<text transform="translate(1046.9,111.9) scale(1.097,1)" font-size="26.5">of spillover</text>
<text transform="translate(1104.1,156.9) scale(1.083,1)" font-size="22.3">0.03</text>
<text transform="translate(1104.1,224.1) scale(1.071,1)" font-size="22.3">0.02</text>
<text transform="translate(1104.1,292.0) scale(0.979,1)" font-size="22.3">0.01</text>
<text transform="translate(1104.1,359.6) scale(1.129,1)" font-size="22.3">0</text>
<rect x="1623.0" y="111.1" width="46.9" height="225.9" fill="url(#gC)" stroke="none" stroke-width="1.2"/>
<line x1="1624.0" y1="149.7" x2="1632.5" y2="149.7" stroke="#fff" stroke-width="1.2"/>
<line x1="1659.9" y1="149.7" x2="1668.9" y2="149.7" stroke="#fff" stroke-width="1.2"/>
<line x1="1624.0" y1="212.0" x2="1632.5" y2="212.0" stroke="#fff" stroke-width="1.2"/>
<line x1="1659.9" y1="212.0" x2="1668.9" y2="212.0" stroke="#fff" stroke-width="1.2"/>
<line x1="1624.0" y1="274.2" x2="1632.5" y2="274.2" stroke="#fff" stroke-width="1.2"/>
<line x1="1659.9" y1="274.2" x2="1668.9" y2="274.2" stroke="#fff" stroke-width="1.2"/>
<text transform="translate(1624.9,94.8) scale(1.088,1)" font-size="26.5">Infections</text>
<text transform="translate(1681.8,156.9) scale(1.091,1)" font-size="22.3">75,000</text>
<text transform="translate(1681.8,218.9) scale(1.158,1)" font-size="22.3">50,000</text>
<text transform="translate(1681.8,281.7) scale(1.114,1)" font-size="22.3">25,000</text>
<text transform="translate(1681.8,343.7) scale(1.129,1)" font-size="22.3">0</text>
<rect x="188.2" y="816.0" width="42.2" height="5.4" fill="#F8766D" stroke="#111" stroke-width="1.1"/>
<line x1="209.3" y1="811.8" x2="209.3" y2="819.5" stroke="#111" stroke-width="1.15"/>
<line x1="201.1" y1="811.8" x2="217.5" y2="811.8" stroke="#111" stroke-width="1.15"/>
<line x1="201.1" y1="819.5" x2="217.5" y2="819.5" stroke="#111" stroke-width="1.15"/>
<rect x="234.7" y="816.0" width="42.2" height="5.4" fill="#E58700" stroke="#111" stroke-width="1.1"/>
<line x1="255.8" y1="806.8" x2="255.8" y2="819.8" stroke="#111" stroke-width="1.15"/>
<line x1="247.6" y1="806.8" x2="263.9" y2="806.8" stroke="#111" stroke-width="1.15"/>
<line x1="247.6" y1="819.8" x2="263.9" y2="819.8" stroke="#111" stroke-width="1.15"/>
<rect x="281.1" y="815.8" width="42.2" height="5.6" fill="#C99800" stroke="#111" stroke-width="1.1"/>
<line x1="302.2" y1="807.6" x2="302.2" y2="818.7" stroke="#111" stroke-width="1.15"/>
<line x1="294.0" y1="807.6" x2="310.4" y2="807.6" stroke="#111" stroke-width="1.15"/>
<line x1="294.0" y1="818.7" x2="310.4" y2="818.7" stroke="#111" stroke-width="1.15"/>
<rect x="327.6" y="820.8" width="42.2" height="0.6" fill="#A3A500" stroke="#111" stroke-width="1.1"/>
<rect x="374.0" y="812.3" width="42.2" height="9.1" fill="#6BB100" stroke="#111" stroke-width="1.1"/>
<line x1="395.1" y1="803.6" x2="395.1" y2="816.3" stroke="#111" stroke-width="1.15"/>
<line x1="386.9" y1="803.6" x2="403.3" y2="803.6" stroke="#111" stroke-width="1.15"/>
<line x1="386.9" y1="816.3" x2="403.3" y2="816.3" stroke="#111" stroke-width="1.15"/>
<rect x="420.4" y="820.6" width="42.2" height="0.8" fill="#00BA38" stroke="#111" stroke-width="1.1"/>
<line x1="441.6" y1="819.5" x2="441.6" y2="821.2" stroke="#111" stroke-width="1.15"/>
<line x1="433.4" y1="819.5" x2="449.8" y2="819.5" stroke="#111" stroke-width="1.15"/>
<line x1="433.4" y1="821.2" x2="449.8" y2="821.2" stroke="#111" stroke-width="1.15"/>
<rect x="466.9" y="820.8" width="42.2" height="0.6" fill="#00BF7D" stroke="#111" stroke-width="1.1"/>
<rect x="513.4" y="819.5" width="42.2" height="1.9" fill="#00C0AF" stroke="#111" stroke-width="1.1"/>
<line x1="534.5" y1="818.4" x2="534.5" y2="820.8" stroke="#111" stroke-width="1.15"/>
<line x1="526.2" y1="818.4" x2="542.7" y2="818.4" stroke="#111" stroke-width="1.15"/>
<line x1="526.2" y1="820.8" x2="542.7" y2="820.8" stroke="#111" stroke-width="1.15"/>
<rect x="559.8" y="817.4" width="42.2" height="4.0" fill="#00BCD8" stroke="#111" stroke-width="1.1"/>
<line x1="580.9" y1="811.3" x2="580.9" y2="820.0" stroke="#111" stroke-width="1.15"/>
<line x1="572.7" y1="811.3" x2="589.1" y2="811.3" stroke="#111" stroke-width="1.15"/>
<line x1="572.7" y1="820.0" x2="589.1" y2="820.0" stroke="#111" stroke-width="1.15"/>
<rect x="606.2" y="820.8" width="42.2" height="0.6" fill="#00B0F6" stroke="#111" stroke-width="1.1"/>
<rect x="652.7" y="817.4" width="42.2" height="4.0" fill="#619CFF" stroke="#111" stroke-width="1.1"/>
<line x1="673.8" y1="807.3" x2="673.8" y2="819.5" stroke="#111" stroke-width="1.15"/>
<line x1="665.6" y1="807.3" x2="682.0" y2="807.3" stroke="#111" stroke-width="1.15"/>
<line x1="665.6" y1="819.5" x2="682.0" y2="819.5" stroke="#111" stroke-width="1.15"/>
<rect x="699.1" y="682.2" width="42.2" height="139.2" fill="#B983FF" stroke="#111" stroke-width="1.1"/>
<line x1="720.2" y1="489.6" x2="720.2" y2="751.0" stroke="#111" stroke-width="1.15"/>
<line x1="712.0" y1="489.6" x2="728.5" y2="489.6" stroke="#111" stroke-width="1.15"/>
<line x1="712.0" y1="751.0" x2="728.5" y2="751.0" stroke="#111" stroke-width="1.15"/>
<rect x="745.6" y="820.8" width="42.2" height="0.6" fill="#E76BF3" stroke="#111" stroke-width="1.1"/>
<line x1="766.7" y1="820.2" x2="766.7" y2="821.3" stroke="#111" stroke-width="1.15"/>
<line x1="758.5" y1="820.2" x2="774.9" y2="820.2" stroke="#111" stroke-width="1.15"/>
<line x1="758.5" y1="821.3" x2="774.9" y2="821.3" stroke="#111" stroke-width="1.15"/>
<rect x="792.1" y="820.8" width="42.2" height="0.6" fill="#FD61D1" stroke="#111" stroke-width="1.1"/>
<rect x="838.5" y="819.8" width="42.2" height="1.6" fill="#FF67A4" stroke="#111" stroke-width="1.1"/>
<line x1="859.6" y1="815.5" x2="859.6" y2="821.0" stroke="#111" stroke-width="1.15"/>
<line x1="851.4" y1="815.5" x2="867.8" y2="815.5" stroke="#111" stroke-width="1.15"/>
<line x1="851.4" y1="821.0" x2="867.8" y2="821.0" stroke="#111" stroke-width="1.15"/>
<rect x="181.2" y="472.6" width="706.6" height="365.7" fill="none" stroke="#222" stroke-width="1.35"/>
<line x1="171.7" y1="518.7" x2="181.2" y2="518.7" stroke="#222" stroke-width="1.2"/>
<text transform="translate(160.3,526.8) scale(1.114,1)" font-size="22.3" text-anchor="end">1,500,000</text>
<line x1="171.7" y1="619.9" x2="181.2" y2="619.9" stroke="#222" stroke-width="1.2"/>
<text transform="translate(160.3,628.0) scale(1.114,1)" font-size="22.3" text-anchor="end">1,000,000</text>
<line x1="171.7" y1="720.0" x2="181.2" y2="720.0" stroke="#222" stroke-width="1.2"/>
<text transform="translate(160.3,728.1) scale(1.174,1)" font-size="22.3" text-anchor="end">500,000</text>
<line x1="171.7" y1="821.4" x2="181.2" y2="821.4" stroke="#222" stroke-width="1.2"/>
<text transform="translate(160.3,829.5) scale(1.129,1)" font-size="22.3" text-anchor="end">0</text>
<line x1="209.3" y1="838.3" x2="209.3" y2="847.6" stroke="#222" stroke-width="1.2"/>
<text transform="translate(216.8,869.5) rotate(-45)" font-size="26.7" text-anchor="end">Benin</text>
<line x1="255.8" y1="838.3" x2="255.8" y2="847.6" stroke="#222" stroke-width="1.2"/>
<text transform="translate(263.2,869.5) rotate(-45)" font-size="26.7" text-anchor="end">Burkina Faso</text>
<line x1="302.2" y1="838.3" x2="302.2" y2="847.6" stroke="#222" stroke-width="1.2"/>
<text transform="translate(309.7,869.5) rotate(-45) scale(1.060,1)" font-size="26.7" text-anchor="end">Côte d’Ivoire</text>
<line x1="348.7" y1="838.3" x2="348.7" y2="847.6" stroke="#222" stroke-width="1.2"/>
<text transform="translate(356.2,869.5) rotate(-45) scale(1.040,1)" font-size="26.7" text-anchor="end">The Gambia</text>
<line x1="395.1" y1="838.3" x2="395.1" y2="847.6" stroke="#222" stroke-width="1.2"/>
<text transform="translate(402.6,869.5) rotate(-45) scale(1.020,1)" font-size="26.7" text-anchor="end">Ghana</text>
<line x1="441.6" y1="838.3" x2="441.6" y2="847.6" stroke="#222" stroke-width="1.2"/>
<text transform="translate(449.1,869.5) rotate(-45) scale(1.020,1)" font-size="26.7" text-anchor="end">Guinea</text>
<line x1="488.0" y1="838.3" x2="488.0" y2="847.6" stroke="#222" stroke-width="1.2"/>
<text transform="translate(495.5,869.5) rotate(-45) scale(1.040,1)" font-size="26.7" text-anchor="end">Guinea-Bissau</text>
<line x1="534.5" y1="838.3" x2="534.5" y2="847.6" stroke="#222" stroke-width="1.2"/>
<text transform="translate(542.0,869.5) rotate(-45) scale(1.040,1)" font-size="26.7" text-anchor="end">Liberia</text>
<line x1="580.9" y1="838.3" x2="580.9" y2="847.6" stroke="#222" stroke-width="1.2"/>
<text transform="translate(588.4,869.5) rotate(-45) scale(1.040,1)" font-size="26.7" text-anchor="end">Mali</text>
<line x1="627.4" y1="838.3" x2="627.4" y2="847.6" stroke="#222" stroke-width="1.2"/>
<text transform="translate(634.9,869.5) rotate(-45) scale(1.050,1)" font-size="26.7" text-anchor="end">Mauritania</text>
<line x1="673.8" y1="838.3" x2="673.8" y2="847.6" stroke="#222" stroke-width="1.2"/>
<text transform="translate(681.3,869.5) rotate(-45) scale(1.040,1)" font-size="26.7" text-anchor="end">Niger</text>
<line x1="720.2" y1="838.3" x2="720.2" y2="847.6" stroke="#222" stroke-width="1.2"/>
<text transform="translate(727.8,869.5) rotate(-45) scale(1.040,1)" font-size="26.7" text-anchor="end">Nigeria</text>
<line x1="766.7" y1="838.3" x2="766.7" y2="847.6" stroke="#222" stroke-width="1.2"/>
<text transform="translate(774.2,869.5) rotate(-45) scale(1.040,1)" font-size="26.7" text-anchor="end">Senegal</text>
<line x1="813.2" y1="838.3" x2="813.2" y2="847.6" stroke="#222" stroke-width="1.2"/>
<text transform="translate(820.7,869.5) rotate(-45) scale(1.050,1)" font-size="26.7" text-anchor="end">Sierra Leone</text>
<line x1="859.6" y1="838.3" x2="859.6" y2="847.6" stroke="#222" stroke-width="1.2"/>
<text transform="translate(867.1,869.5) rotate(-45) scale(1.040,1)" font-size="26.7" text-anchor="end">Togo</text>
<text transform="translate(25.0,655.5) rotate(-90) scale(1.102,1)" font-size="26.5" text-anchor="middle">Infections</text>
<rect x="1098.9" y="738.0" width="42.2" height="83.4" fill="#F8766D" stroke="#111" stroke-width="1.1"/>
<line x1="1120.0" y1="663.0" x2="1120.0" y2="786.5" stroke="#111" stroke-width="1.15"/>
<line x1="1111.8" y1="663.0" x2="1128.2" y2="663.0" stroke="#111" stroke-width="1.15"/>
<line x1="1111.8" y1="786.5" x2="1128.2" y2="786.5" stroke="#111" stroke-width="1.15"/>
<rect x="1145.4" y="773.6" width="42.2" height="47.8" fill="#E58700" stroke="#111" stroke-width="1.1"/>
<line x1="1166.5" y1="679.2" x2="1166.5" y2="803.2" stroke="#111" stroke-width="1.15"/>
<line x1="1158.3" y1="679.2" x2="1174.7" y2="679.2" stroke="#111" stroke-width="1.15"/>
<line x1="1158.3" y1="803.2" x2="1174.7" y2="803.2" stroke="#111" stroke-width="1.15"/>
<rect x="1191.8" y="778.0" width="42.2" height="43.4" fill="#C99800" stroke="#111" stroke-width="1.1"/>
<line x1="1212.9" y1="706.3" x2="1212.9" y2="797.7" stroke="#111" stroke-width="1.15"/>
<line x1="1204.7" y1="706.3" x2="1221.1" y2="706.3" stroke="#111" stroke-width="1.15"/>
<line x1="1204.7" y1="797.7" x2="1221.1" y2="797.7" stroke="#111" stroke-width="1.15"/>
<rect x="1238.3" y="812.5" width="42.2" height="8.9" fill="#A3A500" stroke="#111" stroke-width="1.1"/>
<line x1="1259.4" y1="783.9" x2="1259.4" y2="819.1" stroke="#111" stroke-width="1.15"/>
<line x1="1251.2" y1="783.9" x2="1267.6" y2="783.9" stroke="#111" stroke-width="1.15"/>
<line x1="1251.2" y1="819.1" x2="1267.6" y2="819.1" stroke="#111" stroke-width="1.15"/>
<rect x="1284.7" y="760.3" width="42.2" height="61.1" fill="#6BB100" stroke="#111" stroke-width="1.1"/>
<line x1="1305.8" y1="705.2" x2="1305.8" y2="787.9" stroke="#111" stroke-width="1.15"/>
<line x1="1297.6" y1="705.2" x2="1314.0" y2="705.2" stroke="#111" stroke-width="1.15"/>
<line x1="1297.6" y1="787.9" x2="1314.0" y2="787.9" stroke="#111" stroke-width="1.15"/>
<rect x="1331.2" y="809.6" width="42.2" height="11.8" fill="#00BA38" stroke="#111" stroke-width="1.1"/>
<line x1="1352.3" y1="784.7" x2="1352.3" y2="817.5" stroke="#111" stroke-width="1.15"/>
<line x1="1344.1" y1="784.7" x2="1360.5" y2="784.7" stroke="#111" stroke-width="1.15"/>
<line x1="1344.1" y1="817.5" x2="1360.5" y2="817.5" stroke="#111" stroke-width="1.15"/>
<rect x="1377.7" y="796.5" width="42.2" height="24.9" fill="#00BF7D" stroke="#111" stroke-width="1.1"/>
<line x1="1398.8" y1="767.1" x2="1398.8" y2="815.3" stroke="#111" stroke-width="1.15"/>
<line x1="1390.6" y1="767.1" x2="1407.0" y2="767.1" stroke="#111" stroke-width="1.15"/>
<line x1="1390.6" y1="815.3" x2="1407.0" y2="815.3" stroke="#111" stroke-width="1.15"/>
<rect x="1424.1" y="750.7" width="42.2" height="70.7" fill="#00C0AF" stroke="#111" stroke-width="1.1"/>
<line x1="1445.2" y1="678.9" x2="1445.2" y2="795.7" stroke="#111" stroke-width="1.15"/>
<line x1="1437.0" y1="678.9" x2="1453.4" y2="678.9" stroke="#111" stroke-width="1.15"/>
<line x1="1437.0" y1="795.7" x2="1453.4" y2="795.7" stroke="#111" stroke-width="1.15"/>
<rect x="1470.6" y="785.1" width="42.2" height="36.3" fill="#00BCD8" stroke="#111" stroke-width="1.1"/>
<line x1="1491.7" y1="724.4" x2="1491.7" y2="805.8" stroke="#111" stroke-width="1.15"/>
<line x1="1483.5" y1="724.4" x2="1499.9" y2="724.4" stroke="#111" stroke-width="1.15"/>
<line x1="1483.5" y1="805.8" x2="1499.9" y2="805.8" stroke="#111" stroke-width="1.15"/>
<rect x="1517.0" y="820.4" width="42.2" height="1.0" fill="#00B0F6" stroke="#111" stroke-width="1.1"/>
<line x1="1538.1" y1="814.5" x2="1538.1" y2="821.4" stroke="#111" stroke-width="1.15"/>
<line x1="1529.9" y1="814.5" x2="1546.3" y2="814.5" stroke="#111" stroke-width="1.15"/>
<line x1="1529.9" y1="821.4" x2="1546.3" y2="821.4" stroke="#111" stroke-width="1.15"/>
<rect x="1563.5" y="786.7" width="42.2" height="34.7" fill="#619CFF" stroke="#111" stroke-width="1.1"/>
<line x1="1584.6" y1="693.4" x2="1584.6" y2="806.8" stroke="#111" stroke-width="1.15"/>
<line x1="1576.4" y1="693.4" x2="1592.8" y2="693.4" stroke="#111" stroke-width="1.15"/>
<line x1="1576.4" y1="806.8" x2="1592.8" y2="806.8" stroke="#111" stroke-width="1.15"/>
<rect x="1610.0" y="682.3" width="42.2" height="139.1" fill="#B983FF" stroke="#111" stroke-width="1.1"/>
<line x1="1631.1" y1="489.4" x2="1631.1" y2="750.9" stroke="#111" stroke-width="1.15"/>
<line x1="1622.9" y1="489.4" x2="1639.3" y2="489.4" stroke="#111" stroke-width="1.15"/>
<line x1="1622.9" y1="750.9" x2="1639.3" y2="750.9" stroke="#111" stroke-width="1.15"/>
<rect x="1656.4" y="814.3" width="42.2" height="7.1" fill="#E76BF3" stroke="#111" stroke-width="1.1"/>
<line x1="1677.5" y1="803.1" x2="1677.5" y2="819.0" stroke="#111" stroke-width="1.15"/>
<line x1="1669.3" y1="803.1" x2="1685.7" y2="803.1" stroke="#111" stroke-width="1.15"/>
<line x1="1669.3" y1="819.0" x2="1685.7" y2="819.0" stroke="#111" stroke-width="1.15"/>
<rect x="1702.9" y="813.5" width="42.2" height="7.9" fill="#FD61D1" stroke="#111" stroke-width="1.1"/>
<line x1="1724.0" y1="792.0" x2="1724.0" y2="818.2" stroke="#111" stroke-width="1.15"/>
<line x1="1715.8" y1="792.0" x2="1732.2" y2="792.0" stroke="#111" stroke-width="1.15"/>
<line x1="1715.8" y1="818.2" x2="1732.2" y2="818.2" stroke="#111" stroke-width="1.15"/>
<rect x="1749.3" y="781.7" width="42.2" height="39.7" fill="#FF67A4" stroke="#111" stroke-width="1.1"/>
<line x1="1770.4" y1="672.0" x2="1770.4" y2="805.0" stroke="#111" stroke-width="1.15"/>
<line x1="1762.2" y1="672.0" x2="1778.6" y2="672.0" stroke="#111" stroke-width="1.15"/>
<line x1="1762.2" y1="805.0" x2="1778.6" y2="805.0" stroke="#111" stroke-width="1.15"/>
<rect x="1092.2" y="472.6" width="706.5" height="365.7" fill="none" stroke="#222" stroke-width="1.35"/>
<line x1="1082.7" y1="483.2" x2="1092.2" y2="483.2" stroke="#222" stroke-width="1.2"/>
<text transform="translate(1070.3,491.3) scale(1.169,1)" font-size="22.3" text-anchor="end">800</text>
<line x1="1082.7" y1="568.2" x2="1092.2" y2="568.2" stroke="#222" stroke-width="1.2"/>
<text transform="translate(1070.3,576.3) scale(1.169,1)" font-size="22.3" text-anchor="end">600</text>
<line x1="1082.7" y1="652.5" x2="1092.2" y2="652.5" stroke="#222" stroke-width="1.2"/>
<text transform="translate(1070.3,660.6) scale(1.169,1)" font-size="22.3" text-anchor="end">400</text>
<line x1="1082.7" y1="737.0" x2="1092.2" y2="737.0" stroke="#222" stroke-width="1.2"/>
<text transform="translate(1070.3,745.1) scale(1.129,1)" font-size="22.3" text-anchor="end">200</text>
<line x1="1082.7" y1="821.4" x2="1092.2" y2="821.4" stroke="#222" stroke-width="1.2"/>
<text transform="translate(1070.3,829.5) scale(1.129,1)" font-size="22.3" text-anchor="end">0</text>
<line x1="1120.0" y1="838.3" x2="1120.0" y2="847.6" stroke="#222" stroke-width="1.2"/>
<text transform="translate(1127.5,869.5) rotate(-45)" font-size="26.7" text-anchor="end">Benin</text>
<line x1="1166.5" y1="838.3" x2="1166.5" y2="847.6" stroke="#222" stroke-width="1.2"/>
<text transform="translate(1174.0,869.5) rotate(-45)" font-size="26.7" text-anchor="end">Burkina Faso</text>
<line x1="1212.9" y1="838.3" x2="1212.9" y2="847.6" stroke="#222" stroke-width="1.2"/>
<text transform="translate(1220.4,869.5) rotate(-45) scale(1.060,1)" font-size="26.7" text-anchor="end">Côte d’Ivoire</text>
<line x1="1259.4" y1="838.3" x2="1259.4" y2="847.6" stroke="#222" stroke-width="1.2"/>
<text transform="translate(1266.9,869.5) rotate(-45) scale(1.040,1)" font-size="26.7" text-anchor="end">The Gambia</text>
<line x1="1305.8" y1="838.3" x2="1305.8" y2="847.6" stroke="#222" stroke-width="1.2"/>
<text transform="translate(1313.3,869.5) rotate(-45) scale(1.020,1)" font-size="26.7" text-anchor="end">Ghana</text>
<line x1="1352.3" y1="838.3" x2="1352.3" y2="847.6" stroke="#222" stroke-width="1.2"/>
<text transform="translate(1359.8,869.5) rotate(-45) scale(1.020,1)" font-size="26.7" text-anchor="end">Guinea</text>
<line x1="1398.8" y1="838.3" x2="1398.8" y2="847.6" stroke="#222" stroke-width="1.2"/>
<text transform="translate(1406.3,869.5) rotate(-45) scale(1.040,1)" font-size="26.7" text-anchor="end">Guinea-Bissau</text>
<line x1="1445.2" y1="838.3" x2="1445.2" y2="847.6" stroke="#222" stroke-width="1.2"/>
<text transform="translate(1452.7,869.5) rotate(-45) scale(1.040,1)" font-size="26.7" text-anchor="end">Liberia</text>
<line x1="1491.7" y1="838.3" x2="1491.7" y2="847.6" stroke="#222" stroke-width="1.2"/>
<text transform="translate(1499.2,869.5) rotate(-45) scale(1.040,1)" font-size="26.7" text-anchor="end">Mali</text>
<line x1="1538.1" y1="838.3" x2="1538.1" y2="847.6" stroke="#222" stroke-width="1.2"/>
<text transform="translate(1545.6,869.5) rotate(-45) scale(1.050,1)" font-size="26.7" text-anchor="end">Mauritania</text>
<line x1="1584.6" y1="838.3" x2="1584.6" y2="847.6" stroke="#222" stroke-width="1.2"/>
<text transform="translate(1592.1,869.5) rotate(-45) scale(1.040,1)" font-size="26.7" text-anchor="end">Niger</text>
<line x1="1631.1" y1="838.3" x2="1631.1" y2="847.6" stroke="#222" stroke-width="1.2"/>
<text transform="translate(1638.6,869.5) rotate(-45) scale(1.040,1)" font-size="26.7" text-anchor="end">Nigeria</text>
<line x1="1677.5" y1="838.3" x2="1677.5" y2="847.6" stroke="#222" stroke-width="1.2"/>
<text transform="translate(1685.0,869.5) rotate(-45) scale(1.040,1)" font-size="26.7" text-anchor="end">Senegal</text>
<line x1="1724.0" y1="838.3" x2="1724.0" y2="847.6" stroke="#222" stroke-width="1.2"/>
<text transform="translate(1731.5,869.5) rotate(-45) scale(1.050,1)" font-size="26.7" text-anchor="end">Sierra Leone</text>
<line x1="1770.4" y1="838.3" x2="1770.4" y2="847.6" stroke="#222" stroke-width="1.2"/>
<text transform="translate(1777.9,869.5) rotate(-45) scale(1.040,1)" font-size="26.7" text-anchor="end">Togo</text>
<text transform="translate(967.7,655.5) rotate(-90) scale(1.102,1)" font-size="26.5" text-anchor="middle">Infections</text>
<text transform="translate(999.4,655.0) rotate(-90) scale(1.104,1)" font-size="26.5" text-anchor="middle">(/100,000 population)</text>
<polyline points="198.7,1302.4 200.3,1297.7 202.6,1296.6 204.9,1292.0 207.2,1280.5 209.5,1271.2 211.8,1270.1 214.1,1266.6 217.1,1258.6 219.9,1256.3 222.2,1250.5 224.0,1241.3 225.6,1232.1 227.9,1230.9 230.2,1229.8 232.5,1228.2 234.8,1229.8 236.7,1232.1 238.3,1228.6 240.6,1224.0 242.4,1219.4 244.1,1221.7 245.9,1222.9 248.0,1218.2 249.8,1221.0 252.1,1217.6 254.0,1220.6 255.6,1222.4 257.2,1209.0 258.6,1201.7 260.4,1205.6 262.3,1201.0 264.1,1188.3 266.4,1165.3 269.2,1137.6 271.9,1116.9 274.5,1108.8 276.8,1114.6 279.3,1130.7 281.6,1158.3 283.9,1183.7 286.7,1204.4 290.1,1218.2 293.6,1227.5 297.1,1235.5 300.0,1243.6 302.8,1257.4 305.6,1265.5 308.6,1272.4 311.3,1274.7 313.6,1279.3 316.2,1278.2 318.5,1281.6 320.3,1283.2 323.1,1280.5 325.4,1275.9 327.2,1264.3 328.6,1260.2 330.5,1263.2 332.8,1268.5 335.1,1262.0 338.5,1260.9 340.8,1256.3 342.4,1252.8 344.3,1256.3 346.6,1255.6 348.4,1257.0 350.7,1254.0 353.0,1244.7 355.3,1227.5 357.6,1204.4 360.0,1181.4 362.3,1167.6 364.6,1164.1 366.9,1167.6 369.2,1181.4 371.5,1204.4 373.8,1232.1 376.1,1257.4 378.8,1278.2 382.3,1292.0 385.8,1298.9 389.2,1302.4 393.8,1304.0 399.6,1304.4" fill="none" stroke="#e41a1c" stroke-width="1.35" stroke-linejoin="round"/>
<polyline points="198.7,1302.4 200.3,1297.7 202.6,1296.6 204.9,1292.0 207.2,1280.5 209.5,1271.2 211.8,1270.1 214.1,1266.6 217.1,1258.6 219.9,1256.3 222.2,1250.5 224.0,1241.3 225.6,1232.1 227.9,1230.9 230.2,1229.8 232.5,1228.2 234.8,1229.8 236.7,1232.1 238.3,1228.6 240.6,1224.0 242.4,1219.4 244.1,1221.7 245.9,1222.9 248.0,1218.2 249.8,1221.0 252.1,1217.6 254.0,1220.6 255.6,1222.4 257.2,1220.6 259.0,1218.2 261.3,1215.9 263.6,1209.0 265.9,1190.6 268.7,1169.9 271.5,1151.4 274.5,1145.2 277.0,1151.4 279.3,1172.2 281.6,1195.2 283.9,1213.6 286.7,1229.8 290.1,1245.9 293.6,1258.6 297.1,1268.9 300.5,1278.2 305.1,1285.1 310.9,1289.7 316.6,1293.1 321.2,1294.3 325.9,1289.7 329.3,1285.5 332.8,1287.4 337.4,1288.1 342.0,1287.4 346.6,1288.5 351.2,1287.4 354.7,1281.6 358.1,1275.9 361.6,1271.7 363.9,1271.2 367.3,1274.7 370.8,1282.8 374.2,1293.1 377.7,1300.0 382.3,1303.5 386.9,1304.4" fill="none" stroke="#ff7f00" stroke-width="1.35" stroke-dasharray="4.2 3" stroke-linejoin="round"/>
<polyline points="198.7,1302.4 200.3,1297.7 202.6,1296.6 204.9,1292.0 207.2,1280.5 209.5,1271.2 211.8,1270.1 214.1,1266.6 217.1,1258.6 219.9,1256.3 222.2,1250.5 224.0,1241.3 225.6,1232.1 225.6,1233.2 227.9,1234.4 231.4,1235.5 234.8,1237.8 237.1,1235.5 240.6,1229.8 242.9,1227.5 245.2,1229.8 247.5,1230.9 249.8,1228.6 253.3,1229.8 255.6,1230.9 257.4,1227.5 260.2,1225.2 262.5,1220.6 264.8,1209.0 267.6,1190.6 270.6,1176.8 273.3,1171.0 275.9,1172.2 278.2,1181.4 280.5,1199.8 282.8,1218.2 285.5,1236.7 289.0,1252.8 292.4,1265.5 295.9,1275.9 300.5,1283.9 305.1,1289.7 310.9,1293.1 316.6,1295.4 321.2,1296.6 325.9,1294.3 329.3,1290.1 333.9,1291.5 339.7,1292.4 346.6,1293.1 351.2,1293.1 354.7,1288.5 358.1,1285.1 361.6,1282.8 364.6,1282.8 367.3,1286.2 370.8,1293.1 374.2,1298.9 378.8,1303.0 383.5,1304.4" fill="none" stroke="#377eb8" stroke-width="1.35" stroke-dasharray="4.2 3" stroke-linejoin="round"/>
<polyline points="198.7,1302.4 200.3,1297.7 202.6,1296.6 204.9,1292.0 207.2,1280.5 209.5,1271.2 211.8,1270.1 214.1,1266.6 217.1,1258.6 219.9,1256.3 222.2,1250.5 224.0,1241.3 225.6,1232.1 225.6,1233.9 229.1,1233.9 232.5,1233.2 236.0,1235.5 239.4,1230.9 242.9,1227.5 246.4,1228.6 249.8,1227.5 253.3,1228.6 255.6,1229.8 257.9,1227.5 261.3,1225.2 264.8,1215.9 267.8,1195.2 270.6,1181.4 273.3,1175.6 275.6,1179.1 277.5,1188.3 279.8,1209.0 282.1,1227.5 284.8,1245.9 287.8,1262.0 291.3,1273.5 295.9,1285.1 301.7,1292.0 307.4,1295.4 314.3,1297.7 321.2,1298.9 328.2,1296.6 337.4,1297.7 348.9,1298.9 357.0,1297.7 362.7,1296.6 368.5,1300.0 374.2,1303.0 378.8,1304.4" fill="none" stroke="#ff7f00" stroke-width="1.35" stroke-dasharray="1.5 3.4" stroke-linejoin="round"/>
<polyline points="198.7,1302.4 200.3,1297.7 202.6,1296.6 204.9,1292.0 207.2,1280.5 209.5,1271.2 211.8,1270.1 214.1,1266.6 217.1,1258.6 219.9,1256.3 222.2,1250.5 224.0,1241.3 225.6,1232.1 225.6,1239.0 229.1,1238.5 232.5,1240.1 236.0,1242.4 239.4,1239.0 242.9,1236.7 246.4,1239.0 249.8,1241.3 253.3,1244.1 255.6,1246.4 257.9,1242.4 261.3,1240.1 264.8,1234.4 268.2,1220.6 271.0,1213.6 274.0,1210.9 276.5,1213.6 278.6,1222.9 280.9,1239.0 283.2,1252.8 286.7,1266.6 291.3,1280.5 295.9,1289.7 301.7,1296.6 308.6,1300.0 316.6,1301.7 325.9,1301.9 337.4,1302.4 348.9,1303.0 360.4,1302.4 367.3,1303.0 374.2,1304.4" fill="none" stroke="#377eb8" stroke-width="1.35" stroke-dasharray="1.5 3.4" stroke-linejoin="round"/>
<line x1="148.8" y1="1305.0" x2="504.2" y2="1305.0" stroke="#000" stroke-width="2.2"/>
<rect x="148.8" y="1099.3" width="355.4" height="215.5" fill="none" stroke="#222" stroke-width="1.35"/>
<text transform="translate(326.6,1085.8) scale(1.121,1)" font-size="20.4" text-anchor="middle">Benin</text>
<line x1="139.5" y1="1109.1" x2="148.8" y2="1109.1" stroke="#222" stroke-width="1.2"/>
<text transform="translate(126.9,1116.9) scale(1.053,1)" font-size="21.6" text-anchor="end">1,500</text>
<line x1="139.5" y1="1174.7" x2="148.8" y2="1174.7" stroke="#222" stroke-width="1.2"/>
<text transform="translate(126.9,1182.5) scale(1.123,1)" font-size="21.6" text-anchor="end">1,000</text>
<line x1="139.5" y1="1239.7" x2="148.8" y2="1239.7" stroke="#222" stroke-width="1.2"/>
<text transform="translate(126.9,1247.5) scale(1.174,1)" font-size="21.6" text-anchor="end">500</text>
<line x1="139.5" y1="1305.0" x2="148.8" y2="1305.0" stroke="#222" stroke-width="1.2"/>
<text transform="translate(126.9,1312.8) scale(1.032,1)" font-size="21.6" text-anchor="end">0</text>
<polyline points="759.1,1304.3 770.6,1303.5 779.2,1300.6 785.0,1297.7 790.7,1291.9 795.1,1284.7 797.9,1280.4 800.8,1270.3 803.7,1267.5 806.6,1261.7 809.5,1245.9 812.3,1219.9 815.2,1199.8 817.5,1194.0 819.5,1191.7 821.8,1171.0 824.1,1153.7 826.2,1136.4 827.6,1133.5 829.6,1142.7 831.6,1127.8 833.9,1120.0 836.2,1120.0 838.3,1114.8 840.6,1109.0 842.6,1113.9 845.5,1122.0 848.3,1133.5 851.2,1145.0 854.1,1162.3 857.6,1173.8 861.3,1188.2 865.0,1207.0 868.5,1225.7 872.0,1240.1 875.7,1251.6 880.0,1260.3 884.3,1267.5 887.2,1268.9 890.1,1276.1 894.4,1283.3 900.2,1289.6 907.4,1294.2 911.7,1294.8 916.0,1294.0 920.3,1295.7 924.7,1296.3 930.4,1299.1 937.6,1300.6 946.3,1302.0 954.9,1303.5 963.5,1304.6" fill="none" stroke="#e41a1c" stroke-width="1.35" stroke-linejoin="round"/>
<polyline points="773.5,1304.3 785.0,1300.6 792.2,1296.3 797.9,1290.5 803.7,1284.7 808.0,1277.5 812.3,1266.0 816.7,1257.4 821.0,1251.6 825.3,1240.1 829.6,1237.2 833.9,1235.2 838.3,1235.8 841.1,1233.5 845.5,1237.2 851.2,1245.9 857.0,1255.9 864.2,1268.9 871.4,1280.4 878.6,1286.2 885.8,1290.5 894.4,1296.3 903.1,1300.0 914.6,1301.4 926.1,1302.6 937.6,1304.0" fill="none" stroke="#ff7f00" stroke-width="1.35" stroke-dasharray="4.2 3" stroke-linejoin="round"/>
<polyline points="776.3,1304.3 786.4,1301.4 793.6,1297.7 800.8,1290.5 806.6,1283.3 810.9,1276.1 816.7,1268.9 822.4,1263.1 826.7,1257.4 831.1,1255.9 835.4,1253.9 839.7,1255.1 844.0,1255.9 849.8,1261.7 857.0,1270.3 864.2,1279.0 871.4,1287.6 880.0,1293.4 888.7,1297.7 900.2,1300.6 911.7,1302.0 923.2,1303.2 934.7,1304.3" fill="none" stroke="#377eb8" stroke-width="1.35" stroke-dasharray="4.2 3" stroke-linejoin="round"/>
<polyline points="779.2,1304.0 790.7,1299.1 800.8,1293.4 810.9,1287.6 819.5,1284.7 826.7,1282.1 832.5,1281.9 839.7,1282.7 848.3,1286.2 857.0,1291.4 865.6,1296.3 877.1,1301.2 888.7,1303.5 900.2,1304.3" fill="none" stroke="#ff7f00" stroke-width="1.35" stroke-dasharray="1.5 3.4" stroke-linejoin="round"/>
<polyline points="782.1,1304.0 793.6,1300.6 805.1,1297.7 816.7,1294.8 825.3,1293.4 833.9,1294.2 842.6,1295.4 851.2,1298.3 862.7,1301.4 874.3,1303.5 885.8,1304.3" fill="none" stroke="#377eb8" stroke-width="1.35" stroke-dasharray="1.5 3.4" stroke-linejoin="round"/>
<line x1="640.6" y1="1304.9" x2="996.0" y2="1304.9" stroke="#000" stroke-width="2.2"/>
<rect x="640.6" y="1099.3" width="355.4" height="215.5" fill="none" stroke="#222" stroke-width="1.35"/>
<text transform="translate(818.4,1085.8) scale(1.110,1)" font-size="20.4" text-anchor="middle">Burkina Faso</text>
<line x1="631.3" y1="1128.6" x2="640.6" y2="1128.6" stroke="#222" stroke-width="1.2"/>
<text transform="translate(617.9,1136.4) scale(1.118,1)" font-size="21.6" text-anchor="end">150,000</text>
<line x1="631.3" y1="1187.7" x2="640.6" y2="1187.7" stroke="#222" stroke-width="1.2"/>
<text transform="translate(617.9,1195.5) scale(1.144,1)" font-size="21.6" text-anchor="end">100,000</text>
<line x1="631.3" y1="1246.4" x2="640.6" y2="1246.4" stroke="#222" stroke-width="1.2"/>
<text transform="translate(617.9,1254.2) scale(1.178,1)" font-size="21.6" text-anchor="end">50,000</text>
<line x1="631.3" y1="1304.9" x2="640.6" y2="1304.9" stroke="#222" stroke-width="1.2"/>
<text transform="translate(617.9,1312.7) scale(1.032,1)" font-size="21.6" text-anchor="end">0</text>
<polyline points="1221.6,1304.6 1233.1,1302.9 1244.7,1301.2 1253.3,1301.2 1259.1,1298.6 1264.8,1299.1 1273.5,1297.7 1279.2,1296.3 1285.0,1294.8 1289.3,1293.4 1291.3,1292.5 1293.6,1288.5 1296.5,1289.6 1300.8,1287.6 1305.1,1284.7 1309.5,1281.3 1313.2,1279.6 1316.7,1281.3 1321.0,1284.7 1325.3,1288.5 1328.2,1289.1 1330.5,1287.6 1332.5,1289.1 1335.4,1284.7 1338.3,1286.2 1341.1,1283.9 1344.0,1283.9 1346.0,1271.8 1348.3,1266.0 1350.6,1248.7 1352.9,1217.1 1355.3,1176.7 1357.6,1142.2 1359.9,1119.1 1362.2,1109.6 1363.9,1109.6 1365.6,1119.1 1367.9,1145.0 1370.2,1179.6 1372.5,1217.1 1374.8,1248.7 1377.1,1270.3 1380.0,1284.7 1383.5,1291.9 1388.1,1295.7 1393.0,1297.7 1398.7,1300.0 1405.9,1300.0 1414.6,1299.7 1421.8,1301.2 1429.0,1302.9 1437.6,1304.0 1452.0,1304.6" fill="none" stroke="#e41a1c" stroke-width="1.35" stroke-linejoin="round"/>
<polyline points="1227.4,1304.6 1250.4,1302.0 1273.5,1300.0 1290.7,1297.7 1300.8,1294.8 1308.0,1292.8 1313.8,1291.9 1319.5,1294.8 1325.3,1297.1 1333.9,1298.3 1342.6,1297.7 1348.3,1294.8 1352.7,1283.3 1357.0,1271.8 1359.9,1266.0 1362.7,1263.7 1365.6,1267.5 1369.1,1280.4 1372.8,1293.4 1377.1,1300.6 1382.9,1303.5 1391.5,1304.6" fill="none" stroke="#ff7f00" stroke-width="1.35" stroke-dasharray="4.2 3" stroke-linejoin="round"/>
<polyline points="1230.3,1304.6 1250.4,1302.9 1273.5,1301.2 1290.7,1299.1 1302.3,1296.3 1310.9,1294.8 1316.7,1295.4 1322.4,1297.7 1331.1,1299.4 1342.6,1299.7 1348.3,1297.7 1352.7,1290.5 1357.0,1283.3 1361.3,1279.0 1364.2,1280.4 1368.5,1289.1 1372.8,1298.3 1377.1,1302.9 1382.9,1304.6" fill="none" stroke="#377eb8" stroke-width="1.35" stroke-dasharray="4.2 3" stroke-linejoin="round"/>
<polyline points="1233.1,1304.6 1264.8,1302.3 1290.7,1300.6 1308.0,1299.4 1322.4,1301.2 1336.8,1302.0 1348.3,1301.2 1355.5,1298.3 1361.3,1296.8 1367.1,1298.6 1372.8,1302.3 1380.0,1304.3" fill="none" stroke="#ff7f00" stroke-width="1.35" stroke-dasharray="1.5 3.4" stroke-linejoin="round"/>
<polyline points="1236.0,1304.6 1264.8,1302.9 1293.6,1301.4 1313.8,1301.4 1331.1,1302.9 1348.3,1302.6 1359.9,1301.2 1368.5,1302.3 1377.1,1304.3" fill="none" stroke="#377eb8" stroke-width="1.35" stroke-dasharray="1.5 3.4" stroke-linejoin="round"/>
<line x1="1145.3" y1="1304.9" x2="1500.7" y2="1304.9" stroke="#000" stroke-width="2.2"/>
<rect x="1145.3" y="1099.3" width="355.4" height="215.5" fill="none" stroke="#222" stroke-width="1.35"/>
<text transform="translate(1322.9,1085.8) scale(1.195,1)" font-size="20.4" text-anchor="middle">Côte d’Ivoire</text>
<line x1="1136.0" y1="1100.7" x2="1145.3" y2="1100.7" stroke="#222" stroke-width="1.2"/>
<text transform="translate(1122.2,1108.5) scale(1.155,1)" font-size="21.6" text-anchor="end">20,000</text>
<line x1="1136.0" y1="1151.4" x2="1145.3" y2="1151.4" stroke="#222" stroke-width="1.2"/>
<text transform="translate(1122.2,1159.2) scale(1.090,1)" font-size="21.6" text-anchor="end">15,000</text>
<line x1="1136.0" y1="1202.6" x2="1145.3" y2="1202.6" stroke="#222" stroke-width="1.2"/>
<text transform="translate(1122.2,1210.4) scale(1.111,1)" font-size="21.6" text-anchor="end">10,000</text>
<line x1="1136.0" y1="1253.9" x2="1145.3" y2="1253.9" stroke="#222" stroke-width="1.2"/>
<text transform="translate(1122.2,1261.7) scale(1.145,1)" font-size="21.6" text-anchor="end">5,000</text>
<line x1="1136.0" y1="1304.9" x2="1145.3" y2="1304.9" stroke="#222" stroke-width="1.2"/>
<text transform="translate(1122.2,1312.7) scale(1.032,1)" font-size="21.6" text-anchor="end">0</text>
<polyline points="217.7,1592.0 230.2,1590.7 236.4,1589.5 242.6,1588.8 248.8,1587.3 252.6,1584.8 256.6,1585.7 261.3,1584.2 264.4,1581.1 267.5,1576.4 270.6,1571.7 273.7,1564.0 276.2,1559.3 277.8,1551.5 280.0,1545.3 282.4,1546.9 284.6,1542.2 286.2,1532.9 287.7,1525.7 289.3,1528.2 291.5,1519.5 293.0,1518.9 294.9,1501.8 297.1,1470.6 299.2,1436.4 301.7,1408.4 303.6,1398.2 305.5,1396.6 307.3,1402.2 309.5,1424.0 312.0,1458.2 314.2,1489.3 316.7,1517.3 319.1,1539.1 321.9,1557.7 325.1,1570.2 329.1,1579.5 333.5,1585.7 339.1,1589.5 345.3,1591.3 357.7,1592.0 373.3,1590.7 381.1,1589.2 385.7,1588.5 390.4,1589.5 396.6,1591.3 404.4,1592.3" fill="none" stroke="#e41a1c" stroke-width="1.35" stroke-linejoin="round"/>
<polyline points="230.2,1591.3 248.8,1588.2 261.3,1585.7 270.6,1574.9 275.3,1565.5 278.4,1557.7 281.5,1556.2 284.6,1557.7 287.7,1551.5 290.8,1545.3 294.0,1529.7 297.1,1504.9 300.2,1486.2 303.3,1477.8 305.8,1476.9 308.0,1483.1 310.4,1504.9 312.9,1529.7 315.7,1551.5 318.8,1567.1 323.5,1579.5 328.2,1586.7 334.4,1590.7 340.6,1592.3" fill="none" stroke="#ff7f00" stroke-width="1.35" stroke-dasharray="4.2 3" stroke-linejoin="round"/>
<polyline points="231.7,1591.3 248.8,1588.8 261.3,1586.7 270.6,1578.0 276.8,1568.6 280.0,1564.0 283.1,1564.6 286.2,1562.4 289.3,1557.7 292.4,1548.4 295.5,1532.9 298.6,1517.3 301.7,1509.5 304.2,1507.4 306.4,1509.5 308.6,1523.5 311.1,1542.2 314.2,1562.4 317.9,1576.4 321.9,1585.1 326.6,1589.5 332.8,1592.0" fill="none" stroke="#377eb8" stroke-width="1.35" stroke-dasharray="4.2 3" stroke-linejoin="round"/>
<polyline points="233.3,1591.3 248.8,1589.5 261.3,1587.3 270.6,1579.5 276.8,1570.2 281.5,1561.5 284.6,1560.9 287.7,1560.2 290.8,1554.6 294.0,1545.3 297.1,1534.4 300.2,1528.2 303.3,1526.0 306.4,1528.2 308.6,1539.1 311.1,1554.6 314.2,1570.2 317.3,1581.1 321.9,1588.2 328.2,1591.6" fill="none" stroke="#ff7f00" stroke-width="1.35" stroke-dasharray="1.5 3.4" stroke-linejoin="round"/>
<polyline points="236.4,1591.6 255.1,1588.8 267.5,1584.2 275.3,1578.0 280.0,1574.9 286.2,1573.9 290.8,1571.7 295.5,1565.5 299.2,1559.3 302.4,1555.6 305.5,1557.7 308.6,1565.5 311.7,1576.4 315.7,1585.7 320.4,1589.8 325.1,1592.0" fill="none" stroke="#377eb8" stroke-width="1.35" stroke-dasharray="1.5 3.4" stroke-linejoin="round"/>
<line x1="148.8" y1="1592.4" x2="504.2" y2="1592.4" stroke="#000" stroke-width="2.2"/>
<rect x="148.8" y="1386.6" width="355.4" height="215.5" fill="none" stroke="#222" stroke-width="1.35"/>
<text transform="translate(326.6,1372.7) scale(1.117,1)" font-size="20.4" text-anchor="middle">Ghana</text>
<line x1="139.5" y1="1417.1" x2="148.8" y2="1417.1" stroke="#222" stroke-width="1.2"/>
<text transform="translate(126.9,1424.9) scale(1.205,1)" font-size="21.6" text-anchor="end">60,000</text>
<line x1="139.5" y1="1475.9" x2="148.8" y2="1475.9" stroke="#222" stroke-width="1.2"/>
<text transform="translate(126.9,1483.7) scale(1.181,1)" font-size="21.6" text-anchor="end">40,000</text>
<line x1="139.5" y1="1534.1" x2="148.8" y2="1534.1" stroke="#222" stroke-width="1.2"/>
<text transform="translate(126.9,1541.9) scale(1.181,1)" font-size="21.6" text-anchor="end">20,000</text>
<line x1="139.5" y1="1592.3" x2="148.8" y2="1592.3" stroke="#222" stroke-width="1.2"/>
<text transform="translate(126.9,1600.1) scale(1.032,1)" font-size="21.6" text-anchor="end">0</text>
<polyline points="656.7,1575.0 660.7,1574.5 663.9,1571.8 666.0,1573.7 668.6,1570.5 670.8,1567.9 672.6,1553.3 674.5,1552.8 676.6,1556.0 678.7,1556.0 680.6,1549.3 682.4,1536.1 684.5,1522.8 686.7,1513.6 688.5,1510.4 690.4,1510.9 692.5,1499.0 694.6,1489.7 697.3,1485.7 699.1,1488.4 701.0,1492.4 703.1,1497.7 705.2,1493.7 707.1,1487.1 708.9,1488.4 710.5,1492.4 712.4,1487.1 714.5,1484.4 716.9,1483.1 719.0,1477.8 720.8,1481.8 722.4,1484.4 724.3,1473.8 726.1,1465.9 727.7,1469.8 729.6,1477.8 731.4,1480.4 733.6,1491.0 735.4,1499.0 737.0,1505.6 738.9,1491.0 740.7,1483.1 742.8,1485.7 744.7,1488.4 746.8,1488.4 748.7,1480.4 750.8,1477.8 752.6,1478.3 754.2,1487.1 756.1,1493.2 758.2,1489.7 760.6,1489.2 762.7,1493.7 764.6,1497.7 766.7,1503.0 768.5,1488.4 769.9,1482.6 771.4,1483.1 772.8,1472.5 774.1,1440.7 775.2,1411.5 776.2,1406.8 777.8,1422.1 779.4,1440.7 781.0,1435.4 782.6,1426.9 784.2,1428.8 785.5,1434.9 787.1,1424.8 788.9,1406.2 791.1,1397.8 793.2,1396.4 795.3,1399.6 797.4,1411.5 799.3,1430.1 801.1,1453.9 803.2,1483.1 805.1,1509.6 807.0,1530.8 809.1,1545.4 811.7,1554.6 814.9,1559.9 818.3,1558.6 821.0,1556.7 823.6,1558.6 826.3,1557.8 827.6,1554.6 829.5,1546.7 831.6,1548.0 833.7,1541.4 836.4,1528.1 839.0,1514.9 841.7,1505.6 844.3,1501.1 846.7,1504.3 848.8,1512.2 850.7,1522.8 852.8,1524.2 854.6,1532.1 856.5,1539.3 858.6,1530.8 860.7,1517.5 862.9,1501.6 865.2,1489.7 867.4,1486.3 869.5,1489.7 871.6,1501.6 874.0,1522.8 876.6,1546.7 879.3,1565.2 882.7,1578.5 886.4,1585.9 891.2,1589.6 897.8,1590.4 904.5,1589.1 911.1,1588.3 916.4,1589.1 923.0,1591.2 931.0,1592.3" fill="none" stroke="#e41a1c" stroke-width="1.35" stroke-linejoin="round"/>
<polyline points="656.7,1575.0 660.7,1574.5 663.9,1571.8 666.0,1573.7 668.6,1570.5 670.8,1567.9 672.6,1553.3 674.5,1552.8 676.6,1556.0 678.7,1556.0 680.6,1549.3 682.4,1536.1 684.5,1522.8 686.7,1513.6 688.5,1510.4 690.4,1510.9 692.5,1499.0 694.6,1489.7 697.3,1485.7 699.1,1488.4 701.0,1492.4 703.1,1497.7 705.2,1493.7 707.1,1487.1 708.9,1488.4 710.5,1492.4 712.4,1487.1 714.5,1484.4 716.9,1483.1 719.0,1477.8 720.8,1481.8 722.4,1484.4 724.3,1473.8 726.1,1466.7 727.7,1470.4 729.6,1478.3 731.4,1481.0 733.6,1491.6 735.4,1499.5 737.0,1506.4 738.9,1493.7 740.7,1487.1 742.8,1491.0 745.5,1493.7 748.1,1493.2 750.8,1493.7 754.8,1499.0 758.7,1497.7 762.7,1504.3 766.7,1509.6 769.3,1501.6 771.2,1491.0 773.3,1464.5 775.2,1451.3 776.5,1450.0 778.1,1461.9 779.9,1469.8 782.0,1471.2 784.7,1472.0 786.8,1467.2 788.9,1463.2 791.1,1461.4 793.2,1462.4 795.3,1467.2 797.4,1480.4 799.8,1501.6 802.4,1525.5 805.1,1546.7 807.7,1559.9 811.2,1569.2 815.7,1573.7 821.0,1575.8 825.0,1576.4 828.9,1574.5 832.9,1571.8 836.9,1568.4 840.9,1565.2 844.8,1564.4 847.5,1567.3 850.1,1571.1 854.1,1573.2 858.1,1573.7 862.1,1571.8 866.0,1570.5 869.5,1571.8 872.7,1577.1 876.6,1585.1 880.6,1589.1 885.9,1591.2 893.9,1592.3" fill="none" stroke="#ff7f00" stroke-width="1.35" stroke-dasharray="4.2 3" stroke-linejoin="round"/>
<polyline points="656.7,1575.0 660.7,1574.5 663.9,1571.8 666.0,1573.7 668.6,1570.5 670.8,1567.9 672.6,1553.3 674.5,1552.8 676.6,1556.0 678.7,1556.0 680.6,1549.3 682.4,1536.1 684.5,1522.8 686.7,1513.6 688.5,1510.4 690.4,1510.9 692.5,1499.0 694.6,1489.7 697.3,1485.7 699.1,1488.4 701.0,1492.4 703.1,1497.7 705.2,1493.7 707.1,1487.1 708.9,1488.4 710.5,1492.4 712.4,1487.1 714.5,1484.4 716.9,1483.1 719.0,1480.4 721.6,1484.4 724.3,1477.8 726.1,1473.8 728.3,1480.4 730.9,1485.7 733.6,1499.0 737.0,1513.6 738.9,1504.3 741.5,1496.3 744.2,1499.0 748.1,1500.3 750.8,1497.7 753.4,1504.3 756.6,1512.2 760.1,1510.9 762.7,1516.2 766.7,1524.2 769.3,1517.5 771.4,1506.9 773.3,1491.0 775.2,1476.5 776.7,1475.1 778.6,1488.4 781.3,1499.0 783.9,1500.3 786.6,1495.0 789.2,1491.0 791.8,1489.7 794.5,1493.7 796.6,1501.6 799.0,1517.5 801.7,1538.7 804.3,1554.6 807.2,1567.9 810.4,1574.5 814.4,1578.5 819.7,1579.8 825.0,1581.1 828.9,1579.3 832.9,1577.1 836.9,1574.5 840.9,1572.4 844.8,1571.8 847.5,1574.5 851.5,1577.9 856.8,1579.3 862.1,1577.9 866.0,1577.1 870.0,1578.5 874.0,1583.2 878.0,1588.5 883.3,1591.2 891.2,1592.3" fill="none" stroke="#377eb8" stroke-width="1.35" stroke-dasharray="4.2 3" stroke-linejoin="round"/>
<polyline points="656.7,1575.0 660.7,1574.5 663.9,1571.8 666.0,1573.7 668.6,1570.5 670.8,1567.9 672.6,1553.3 674.5,1552.8 676.6,1556.0 678.7,1556.0 680.6,1549.3 682.4,1536.1 684.5,1522.8 686.7,1513.6 688.5,1510.4 690.4,1510.9 692.5,1499.0 694.6,1489.7 697.3,1485.7 699.1,1488.4 701.0,1492.4 703.1,1497.7 705.2,1493.7 707.1,1487.1 708.9,1488.4 710.5,1492.4 712.4,1487.1 714.5,1484.4 716.9,1483.1 719.0,1480.4 722.2,1485.2 724.8,1479.1 726.9,1477.8 729.6,1483.1 733.6,1496.3 737.0,1509.6 740.2,1499.0 742.8,1495.0 746.8,1496.3 750.8,1499.0 754.8,1506.9 758.7,1509.6 762.7,1516.2 766.7,1522.8 769.3,1514.9 771.4,1504.3 773.6,1496.3 776.0,1495.0 778.6,1501.6 781.3,1505.6 783.9,1509.6 787.9,1506.9 791.8,1506.9 794.5,1510.9 797.1,1522.8 799.8,1541.4 802.4,1557.3 805.9,1570.5 809.6,1578.5 814.4,1582.4 821.0,1584.3 827.6,1585.1 835.6,1583.8 843.5,1583.0 851.5,1585.9 862.1,1587.7 870.0,1588.5 878.0,1590.9 885.9,1592.3" fill="none" stroke="#ff7f00" stroke-width="1.35" stroke-dasharray="1.5 3.4" stroke-linejoin="round"/>
<polyline points="656.7,1575.0 660.7,1574.5 663.9,1571.8 666.0,1573.7 668.6,1570.5 670.8,1567.9 672.6,1553.3 674.5,1552.8 676.6,1556.0 678.7,1556.0 680.6,1549.3 682.4,1536.1 684.5,1522.8 686.7,1513.6 688.5,1510.4 690.4,1510.9 692.5,1499.0 694.6,1489.7 697.3,1485.7 699.1,1488.4 701.0,1492.4 703.1,1497.7 705.2,1493.7 707.1,1487.1 708.9,1488.4 710.5,1492.4 712.4,1487.1 716.3,1491.0 721.6,1489.7 725.6,1485.7 729.6,1496.3 733.6,1509.6 737.0,1521.5 740.2,1512.2 744.2,1513.6 748.1,1516.2 752.1,1514.9 756.1,1525.5 760.1,1530.8 763.5,1538.7 766.7,1544.0 769.3,1540.1 772.0,1537.4 775.2,1525.5 777.3,1528.1 779.9,1533.4 783.9,1537.4 787.9,1540.1 791.8,1541.4 795.3,1549.3 798.5,1559.9 802.4,1573.2 806.4,1581.1 811.7,1585.9 819.7,1587.7 827.6,1588.5 838.2,1588.5 848.8,1589.1 859.4,1590.4 870.0,1591.2 880.6,1592.3" fill="none" stroke="#377eb8" stroke-width="1.35" stroke-dasharray="1.5 3.4" stroke-linejoin="round"/>
<line x1="640.6" y1="1592.4" x2="996.0" y2="1592.4" stroke="#000" stroke-width="2.2"/>
<rect x="640.6" y="1386.6" width="355.4" height="215.5" fill="none" stroke="#222" stroke-width="1.35"/>
<text transform="translate(818.4,1372.7) scale(1.163,1)" font-size="20.4" text-anchor="middle">Niger</text>
<line x1="631.3" y1="1410.7" x2="640.6" y2="1410.7" stroke="#222" stroke-width="1.2"/>
<text transform="translate(618.8,1418.5) scale(1.190,1)" font-size="21.6" text-anchor="end">600</text>
<line x1="631.3" y1="1471.2" x2="640.6" y2="1471.2" stroke="#222" stroke-width="1.2"/>
<text transform="translate(618.8,1479.0) scale(1.190,1)" font-size="21.6" text-anchor="end">400</text>
<line x1="631.3" y1="1531.6" x2="640.6" y2="1531.6" stroke="#222" stroke-width="1.2"/>
<text transform="translate(618.8,1539.4) scale(1.177,1)" font-size="21.6" text-anchor="end">200</text>
<line x1="631.3" y1="1592.5" x2="640.6" y2="1592.5" stroke="#222" stroke-width="1.2"/>
<text transform="translate(618.8,1600.3) scale(1.032,1)" font-size="21.6" text-anchor="end">0</text>
<polyline points="1187.1,1592.0 1198.6,1591.2 1207.2,1590.0 1213.0,1588.3 1221.6,1586.8 1230.3,1585.4 1238.9,1583.4 1243.2,1581.4 1246.1,1578.5 1249.0,1577.6 1251.9,1572.7 1254.7,1573.3 1256.8,1566.1 1258.5,1558.9 1260.8,1556.6 1263.4,1554.6 1265.4,1548.8 1267.1,1535.9 1269.1,1521.5 1271.2,1501.3 1273.5,1478.2 1275.8,1461.0 1277.8,1446.6 1279.8,1429.3 1282.1,1409.1 1284.4,1396.7 1286.4,1401.9 1288.4,1400.5 1290.7,1406.2 1293.0,1410.6 1295.1,1416.3 1297.4,1414.9 1300.0,1419.2 1302.3,1423.5 1304.6,1429.3 1307.2,1433.6 1309.5,1437.9 1311.8,1443.7 1314.4,1442.2 1317.2,1442.8 1319.5,1443.7 1322.4,1450.9 1325.3,1461.0 1328.2,1466.7 1331.1,1469.6 1333.4,1471.0 1335.4,1469.6 1338.3,1473.1 1340.3,1478.2 1342.6,1482.6 1344.9,1484.0 1346.9,1495.5 1349.8,1509.9 1352.7,1524.3 1355.5,1535.9 1358.4,1544.5 1361.3,1548.8 1364.2,1553.1 1367.9,1556.0 1370.8,1551.7 1373.7,1548.8 1377.1,1552.6 1380.0,1550.8 1382.9,1547.4 1385.2,1553.1 1388.1,1558.3 1391.5,1562.4 1394.4,1564.7 1397.3,1563.2 1400.8,1566.1 1403.6,1566.1 1407.4,1570.4 1411.7,1576.2 1416.0,1581.9 1420.3,1587.1 1424.7,1590.0 1430.4,1591.7 1437.6,1592.3" fill="none" stroke="#e41a1c" stroke-width="1.35" stroke-linejoin="round"/>
<polyline points="1187.1,1592.0 1198.6,1591.2 1207.2,1590.0 1213.0,1588.3 1221.6,1586.8 1230.3,1585.4 1238.9,1583.4 1243.2,1581.4 1246.1,1578.5 1249.0,1577.6 1251.9,1572.7 1254.7,1573.3 1256.8,1566.1 1258.5,1560.3 1261.9,1558.9 1264.8,1553.1 1267.7,1538.7 1270.6,1524.3 1273.5,1507.1 1276.3,1489.8 1279.2,1469.6 1282.1,1455.2 1284.4,1452.9 1287.3,1458.1 1290.7,1468.2 1295.1,1475.4 1299.4,1482.6 1303.7,1492.6 1308.0,1501.3 1312.3,1509.9 1316.7,1512.8 1321.0,1518.6 1325.3,1530.1 1329.6,1535.9 1333.9,1539.6 1336.8,1540.2 1341.1,1545.9 1345.5,1554.6 1349.8,1564.7 1354.1,1571.9 1358.4,1576.2 1364.2,1579.6 1369.9,1579.9 1375.7,1579.1 1382.9,1581.4 1390.1,1585.4 1397.3,1587.1 1404.5,1588.3 1411.7,1590.6 1420.3,1592.3" fill="none" stroke="#ff7f00" stroke-width="1.35" stroke-dasharray="4.2 3" stroke-linejoin="round"/>
<polyline points="1187.1,1592.0 1198.6,1591.2 1207.2,1590.0 1213.0,1588.3 1221.6,1586.8 1230.3,1585.4 1238.9,1583.4 1243.2,1581.4 1246.1,1578.5 1249.0,1577.6 1251.9,1572.7 1254.7,1573.3 1256.8,1569.0 1259.1,1566.1 1263.4,1558.9 1266.3,1547.4 1269.1,1535.9 1272.0,1524.3 1274.9,1509.9 1277.8,1498.4 1280.7,1489.8 1283.5,1484.9 1286.4,1489.8 1289.3,1492.6 1292.2,1501.3 1295.1,1507.1 1297.9,1507.9 1300.8,1515.7 1305.1,1522.9 1309.5,1530.1 1313.8,1534.4 1318.1,1537.3 1322.4,1543.1 1326.7,1550.3 1331.1,1554.6 1335.4,1556.0 1339.7,1560.3 1344.0,1566.1 1348.3,1573.3 1352.7,1579.1 1357.0,1582.8 1362.7,1584.8 1369.9,1584.2 1377.1,1584.8 1384.3,1587.1 1391.5,1589.1 1400.2,1590.0 1408.8,1591.4 1417.5,1592.3" fill="none" stroke="#377eb8" stroke-width="1.35" stroke-dasharray="4.2 3" stroke-linejoin="round"/>
<polyline points="1187.1,1592.0 1198.6,1591.2 1207.2,1590.0 1213.0,1588.3 1221.6,1586.8 1230.3,1585.4 1238.9,1583.4 1243.2,1581.4 1246.1,1578.5 1249.0,1577.6 1251.9,1572.7 1254.7,1573.3 1256.8,1570.4 1259.1,1567.5 1263.4,1561.8 1266.3,1551.7 1269.1,1541.6 1272.0,1530.1 1274.9,1518.6 1277.8,1507.1 1280.7,1498.4 1283.5,1494.1 1286.4,1498.4 1290.7,1507.1 1295.1,1517.1 1299.4,1524.3 1303.7,1533.0 1308.0,1541.6 1312.3,1548.8 1316.7,1553.1 1321.0,1558.9 1325.3,1566.1 1329.6,1570.4 1333.9,1573.9 1338.3,1576.8 1342.6,1580.5 1348.3,1585.4 1354.1,1589.1 1361.3,1591.4 1371.4,1591.4 1382.9,1591.2 1394.4,1591.7 1405.9,1592.3" fill="none" stroke="#ff7f00" stroke-width="1.35" stroke-dasharray="1.5 3.4" stroke-linejoin="round"/>
<polyline points="1192.8,1592.0 1215.9,1589.1 1233.1,1586.3 1244.7,1583.4 1253.3,1579.1 1259.1,1574.7 1263.4,1570.4 1267.7,1563.2 1272.0,1554.6 1276.3,1545.9 1280.7,1537.3 1283.5,1535.9 1286.4,1537.3 1290.7,1544.5 1295.1,1551.7 1299.4,1557.5 1305.1,1564.7 1310.9,1570.4 1316.7,1574.7 1323.9,1579.6 1331.1,1583.4 1339.7,1586.3 1348.3,1589.1 1357.0,1591.2 1365.6,1592.0 1380.0,1592.3" fill="none" stroke="#377eb8" stroke-width="1.35" stroke-dasharray="1.5 3.4" stroke-linejoin="round"/>
<line x1="1145.3" y1="1592.4" x2="1500.7" y2="1592.4" stroke="#000" stroke-width="2.2"/>
<rect x="1145.3" y="1386.6" width="355.4" height="215.5" fill="none" stroke="#222" stroke-width="1.35"/>
<text transform="translate(1322.9,1372.7) scale(1.159,1)" font-size="20.4" text-anchor="middle">Nigeria</text>
<line x1="1136.0" y1="1397.6" x2="1145.3" y2="1397.6" stroke="#222" stroke-width="1.2"/>
<text transform="translate(1122.2,1405.4) scale(1.187,1)" font-size="21.6" text-anchor="end">300,000</text>
<line x1="1136.0" y1="1462.4" x2="1145.3" y2="1462.4" stroke="#222" stroke-width="1.2"/>
<text transform="translate(1122.2,1470.2) scale(1.181,1)" font-size="21.6" text-anchor="end">200,000</text>
<line x1="1136.0" y1="1527.5" x2="1145.3" y2="1527.5" stroke="#222" stroke-width="1.2"/>
<text transform="translate(1122.2,1535.3) scale(1.151,1)" font-size="21.6" text-anchor="end">100,000</text>
<line x1="1136.0" y1="1592.3" x2="1145.3" y2="1592.3" stroke="#222" stroke-width="1.2"/>
<text transform="translate(1122.2,1600.1) scale(1.032,1)" font-size="21.6" text-anchor="end">0</text>
<circle cx="656.7" cy="1575" r="5.3" fill="#e41a1c"/>
<line x1="164.9" y1="1602.1" x2="164.9" y2="1611.4" stroke="#222" stroke-width="1.2"/>
<text transform="translate(164.9,1640.2) scale(1.082,1)" font-size="21.6" text-anchor="middle">0</text>
<line x1="295.5" y1="1602.1" x2="295.5" y2="1611.4" stroke="#222" stroke-width="1.2"/>
<text transform="translate(295.5,1640.2) scale(0.874,1)" font-size="21.6" text-anchor="middle">1</text>
<line x1="426.8" y1="1602.1" x2="426.8" y2="1611.4" stroke="#222" stroke-width="1.2"/>
<text transform="translate(426.8,1640.2) scale(1.082,1)" font-size="21.6" text-anchor="middle">2</text>
<line x1="657.0" y1="1602.1" x2="657.0" y2="1611.4" stroke="#222" stroke-width="1.2"/>
<text transform="translate(657.0,1640.2) scale(1.082,1)" font-size="21.6" text-anchor="middle">0</text>
<line x1="787.9" y1="1602.1" x2="787.9" y2="1611.4" stroke="#222" stroke-width="1.2"/>
<text transform="translate(787.9,1640.2) scale(0.874,1)" font-size="21.6" text-anchor="middle">1</text>
<line x1="918.5" y1="1602.1" x2="918.5" y2="1611.4" stroke="#222" stroke-width="1.2"/>
<text transform="translate(918.5,1640.2) scale(1.082,1)" font-size="21.6" text-anchor="middle">2</text>
<line x1="1161.4" y1="1602.1" x2="1161.4" y2="1611.4" stroke="#222" stroke-width="1.2"/>
<text transform="translate(1161.4,1640.2) scale(1.082,1)" font-size="21.6" text-anchor="middle">0</text>
<line x1="1292.8" y1="1602.1" x2="1292.8" y2="1611.4" stroke="#222" stroke-width="1.2"/>
<text transform="translate(1292.8,1640.2) scale(0.874,1)" font-size="21.6" text-anchor="middle">1</text>
<line x1="1423.5" y1="1602.1" x2="1423.5" y2="1611.4" stroke="#222" stroke-width="1.2"/>
<text transform="translate(1423.5,1640.2) scale(1.082,1)" font-size="21.6" text-anchor="middle">2</text>
<text transform="translate(24.3,1350.5) rotate(-90) scale(1.097,1)" font-size="26.5" text-anchor="middle">Number of infected individuals</text>
<text transform="translate(585.2,1685.3) scale(1.074,1)" font-size="26.5">Time (years since outbreak detected)</text>
<text transform="translate(1532.0,1163.6) scale(1.086,1)" font-size="26.5">Vaccination delay</text>
<line x1="1541.4" y1="1203.0" x2="1565.7" y2="1203.0" stroke="#e41a1c" stroke-width="1.3"/>
<text transform="translate(1580.6,1210.5) scale(1.068,1)" font-size="26.5">No vaccine</text>
<line x1="1541.4" y1="1248.4" x2="1565.7" y2="1248.4" stroke="#ff7f00" stroke-width="1.3"/>
<text transform="translate(1580.6,1255.4) scale(1.070,1)" font-size="26.5">160 d to first dose</text>
<line x1="1541.4" y1="1293.5" x2="1565.7" y2="1293.5" stroke="#377eb8" stroke-width="1.3"/>
<text transform="translate(1580.6,1300.5) scale(1.079,1)" font-size="26.5">100 d to first dose</text>
<text transform="translate(1532.0,1408.5) scale(1.084,1)" font-size="26.5">Population vaccinated</text>
<line x1="1541.4" y1="1449.4" x2="1565.7" y2="1449.4" stroke="#000" stroke-width="1.2"/>
<text transform="translate(1580.6,1456.4) scale(1.058,1)" font-size="26.5">None</text>
<line x1="1541.4" y1="1494.2" x2="1565.7" y2="1494.2" stroke="#000" stroke-width="1.2" stroke-dasharray="3.2 2.2"/>
<text transform="translate(1580.6,1501.5) scale(1.047,1)" font-size="26.5">20% per year</text>
<line x1="1541.4" y1="1539.4" x2="1565.7" y2="1539.4" stroke="#000" stroke-width="1.2" stroke-dasharray="1.2 2.2"/>
<text transform="translate(1580.6,1546.4) scale(1.056,1)" font-size="26.5">40% per year</text>
<rect x="162.8" y="2120.3" width="44.0" height="3.7" fill="#ff7f00" stroke="#111" stroke-width="1.1"/>
<line x1="184.8" y1="2118.8" x2="184.8" y2="2121.8" stroke="#111" stroke-width="1.15"/>
<line x1="176.2" y1="2118.8" x2="193.4" y2="2118.8" stroke="#111" stroke-width="1.15"/>
<line x1="176.2" y1="2121.8" x2="193.4" y2="2121.8" stroke="#111" stroke-width="1.15"/>
<rect x="206.8" y="2119.7" width="44.0" height="4.3" fill="#377eb8" stroke="#111" stroke-width="1.1"/>
<line x1="228.8" y1="2118.0" x2="228.8" y2="2121.5" stroke="#111" stroke-width="1.15"/>
<line x1="220.2" y1="2118.0" x2="237.4" y2="2118.0" stroke="#111" stroke-width="1.15"/>
<line x1="220.2" y1="2121.5" x2="237.4" y2="2121.5" stroke="#111" stroke-width="1.15"/>
<line x1="206.8" y1="2139.0" x2="206.8" y2="2148.5" stroke="#222" stroke-width="1.2"/>
<text transform="translate(206.8,2178.7) scale(1.130,1)" font-size="20.3" text-anchor="middle">2.5%/yr</text>
<rect x="260.5" y="2098.4" width="44.0" height="25.6" fill="#ff7f00" stroke="#111" stroke-width="1.1"/>
<line x1="282.5" y1="2089.4" x2="282.5" y2="2113.0" stroke="#111" stroke-width="1.15"/>
<line x1="273.9" y1="2089.4" x2="291.1" y2="2089.4" stroke="#111" stroke-width="1.15"/>
<line x1="273.9" y1="2113.0" x2="291.1" y2="2113.0" stroke="#111" stroke-width="1.15"/>
<rect x="304.5" y="2092.6" width="44.0" height="31.4" fill="#377eb8" stroke="#111" stroke-width="1.1"/>
<line x1="326.5" y1="2081.7" x2="326.5" y2="2110.5" stroke="#111" stroke-width="1.15"/>
<line x1="317.9" y1="2081.7" x2="335.1" y2="2081.7" stroke="#111" stroke-width="1.15"/>
<line x1="317.9" y1="2110.5" x2="335.1" y2="2110.5" stroke="#111" stroke-width="1.15"/>
<line x1="304.5" y1="2139.0" x2="304.5" y2="2148.5" stroke="#222" stroke-width="1.2"/>
<text transform="translate(304.5,2178.7) scale(1.181,1)" font-size="20.3" text-anchor="middle">20%/yr</text>
<rect x="358.1" y="2073.0" width="44.0" height="51.0" fill="#ff7f00" stroke="#111" stroke-width="1.1"/>
<line x1="380.1" y1="2055.2" x2="380.1" y2="2101.5" stroke="#111" stroke-width="1.15"/>
<line x1="371.5" y1="2055.2" x2="388.7" y2="2055.2" stroke="#111" stroke-width="1.15"/>
<line x1="371.5" y1="2101.5" x2="388.7" y2="2101.5" stroke="#111" stroke-width="1.15"/>
<rect x="402.1" y="2061.5" width="44.0" height="62.5" fill="#377eb8" stroke="#111" stroke-width="1.1"/>
<line x1="424.1" y1="2039.6" x2="424.1" y2="2096.4" stroke="#111" stroke-width="1.15"/>
<line x1="415.5" y1="2039.6" x2="432.7" y2="2039.6" stroke="#111" stroke-width="1.15"/>
<line x1="415.5" y1="2096.4" x2="432.7" y2="2096.4" stroke="#111" stroke-width="1.15"/>
<line x1="402.1" y1="2139.0" x2="402.1" y2="2148.5" stroke="#222" stroke-width="1.2"/>
<text transform="translate(402.1,2178.7) scale(1.181,1)" font-size="20.3" text-anchor="middle">40%/yr</text>
<rect x="148.9" y="1762.3" width="311.4" height="44.6" fill="#d9d9d9" stroke="#222" stroke-width="1.35"/>
<rect x="148.9" y="1806.9" width="311.4" height="332.1" fill="none" stroke="#222" stroke-width="1.35"/>
<text transform="translate(304.6,1792.5) scale(1.142,1)" font-size="20.9" text-anchor="middle">0% infection/70% disease</text>
<rect x="488.6" y="2120.0" width="44.0" height="4.0" fill="#ff7f00" stroke="#111" stroke-width="1.1"/>
<line x1="510.6" y1="2118.5" x2="510.6" y2="2122.3" stroke="#111" stroke-width="1.15"/>
<line x1="502.0" y1="2118.5" x2="519.2" y2="2118.5" stroke="#111" stroke-width="1.15"/>
<line x1="502.0" y1="2122.3" x2="519.2" y2="2122.3" stroke="#111" stroke-width="1.15"/>
<rect x="532.6" y="2119.1" width="44.0" height="4.9" fill="#377eb8" stroke="#111" stroke-width="1.1"/>
<line x1="554.6" y1="2117.4" x2="554.6" y2="2121.7" stroke="#111" stroke-width="1.15"/>
<line x1="546.0" y1="2117.4" x2="563.2" y2="2117.4" stroke="#111" stroke-width="1.15"/>
<line x1="546.0" y1="2121.7" x2="563.2" y2="2121.7" stroke="#111" stroke-width="1.15"/>
<line x1="532.6" y1="2139.0" x2="532.6" y2="2148.5" stroke="#222" stroke-width="1.2"/>
<text transform="translate(532.6,2178.7) scale(1.130,1)" font-size="20.3" text-anchor="middle">2.5%/yr</text>
<rect x="586.2" y="2091.2" width="44.0" height="32.8" fill="#ff7f00" stroke="#111" stroke-width="1.1"/>
<line x1="608.2" y1="2079.7" x2="608.2" y2="2109.6" stroke="#111" stroke-width="1.15"/>
<line x1="599.6" y1="2079.7" x2="616.9" y2="2079.7" stroke="#111" stroke-width="1.15"/>
<line x1="599.6" y1="2109.6" x2="616.9" y2="2109.6" stroke="#111" stroke-width="1.15"/>
<rect x="630.2" y="2084.0" width="44.0" height="40.0" fill="#377eb8" stroke="#111" stroke-width="1.1"/>
<line x1="652.2" y1="2069.9" x2="652.2" y2="2106.2" stroke="#111" stroke-width="1.15"/>
<line x1="643.6" y1="2069.9" x2="660.9" y2="2069.9" stroke="#111" stroke-width="1.15"/>
<line x1="643.6" y1="2106.2" x2="660.9" y2="2106.2" stroke="#111" stroke-width="1.15"/>
<line x1="630.2" y1="2139.0" x2="630.2" y2="2148.5" stroke="#222" stroke-width="1.2"/>
<text transform="translate(630.2,2178.7) scale(1.181,1)" font-size="20.3" text-anchor="middle">20%/yr</text>
<rect x="683.9" y="2058.3" width="44.0" height="65.7" fill="#ff7f00" stroke="#111" stroke-width="1.1"/>
<line x1="705.9" y1="2035.3" x2="705.9" y2="2094.9" stroke="#111" stroke-width="1.15"/>
<line x1="697.3" y1="2035.3" x2="714.5" y2="2035.3" stroke="#111" stroke-width="1.15"/>
<line x1="697.3" y1="2094.9" x2="714.5" y2="2094.9" stroke="#111" stroke-width="1.15"/>
<rect x="727.9" y="2043.9" width="44.0" height="80.1" fill="#377eb8" stroke="#111" stroke-width="1.1"/>
<line x1="749.9" y1="2015.4" x2="749.9" y2="2088.3" stroke="#111" stroke-width="1.15"/>
<line x1="741.3" y1="2015.4" x2="758.5" y2="2015.4" stroke="#111" stroke-width="1.15"/>
<line x1="741.3" y1="2088.3" x2="758.5" y2="2088.3" stroke="#111" stroke-width="1.15"/>
<line x1="727.9" y1="2139.0" x2="727.9" y2="2148.5" stroke="#222" stroke-width="1.2"/>
<text transform="translate(727.9,2178.7) scale(1.181,1)" font-size="20.3" text-anchor="middle">40%/yr</text>
<rect x="474.7" y="1762.3" width="311.4" height="44.6" fill="#d9d9d9" stroke="#222" stroke-width="1.35"/>
<rect x="474.7" y="1806.9" width="311.4" height="332.1" fill="none" stroke="#222" stroke-width="1.35"/>
<text transform="translate(630.4,1792.5) scale(1.151,1)" font-size="20.9" text-anchor="middle">0% infection/90% disease</text>
<rect x="814.5" y="2099.9" width="44.0" height="24.1" fill="#ff7f00" stroke="#111" stroke-width="1.1"/>
<line x1="836.5" y1="2093.1" x2="836.5" y2="2112.8" stroke="#111" stroke-width="1.15"/>
<line x1="827.9" y1="2093.1" x2="845.1" y2="2093.1" stroke="#111" stroke-width="1.15"/>
<line x1="827.9" y1="2112.8" x2="845.1" y2="2112.8" stroke="#111" stroke-width="1.15"/>
<rect x="858.5" y="2093.1" width="44.0" height="30.9" fill="#377eb8" stroke="#111" stroke-width="1.1"/>
<line x1="880.5" y1="2083.2" x2="880.5" y2="2109.4" stroke="#111" stroke-width="1.15"/>
<line x1="871.9" y1="2083.2" x2="889.1" y2="2083.2" stroke="#111" stroke-width="1.15"/>
<line x1="871.9" y1="2109.4" x2="889.1" y2="2109.4" stroke="#111" stroke-width="1.15"/>
<line x1="858.5" y1="2139.0" x2="858.5" y2="2148.5" stroke="#222" stroke-width="1.2"/>
<text transform="translate(858.5,2178.7) scale(1.130,1)" font-size="20.3" text-anchor="middle">2.5%/yr</text>
<rect x="912.1" y="2000.3" width="44.0" height="123.7" fill="#ff7f00" stroke="#111" stroke-width="1.1"/>
<line x1="934.1" y1="1956.6" x2="934.1" y2="2068.4" stroke="#111" stroke-width="1.15"/>
<line x1="925.5" y1="1956.6" x2="942.8" y2="1956.6" stroke="#111" stroke-width="1.15"/>
<line x1="925.5" y1="2068.4" x2="942.8" y2="2068.4" stroke="#111" stroke-width="1.15"/>
<rect x="956.1" y="1970.7" width="44.0" height="153.3" fill="#377eb8" stroke="#111" stroke-width="1.1"/>
<line x1="978.1" y1="1915.9" x2="978.1" y2="2056.2" stroke="#111" stroke-width="1.15"/>
<line x1="969.5" y1="1915.9" x2="986.8" y2="1915.9" stroke="#111" stroke-width="1.15"/>
<line x1="969.5" y1="2056.2" x2="986.8" y2="2056.2" stroke="#111" stroke-width="1.15"/>
<line x1="956.1" y1="2139.0" x2="956.1" y2="2148.5" stroke="#222" stroke-width="1.2"/>
<text transform="translate(956.1,2178.7) scale(1.181,1)" font-size="20.3" text-anchor="middle">20%/yr</text>
<rect x="1009.8" y="1949.4" width="44.0" height="174.6" fill="#ff7f00" stroke="#111" stroke-width="1.1"/>
<line x1="1031.8" y1="1885.9" x2="1031.8" y2="2049.0" stroke="#111" stroke-width="1.15"/>
<line x1="1023.2" y1="1885.9" x2="1040.4" y2="1885.9" stroke="#111" stroke-width="1.15"/>
<line x1="1023.2" y1="2049.0" x2="1040.4" y2="2049.0" stroke="#111" stroke-width="1.15"/>
<rect x="1053.8" y="1916.7" width="44.0" height="207.3" fill="#377eb8" stroke="#111" stroke-width="1.1"/>
<line x1="1075.8" y1="1840.6" x2="1075.8" y2="2036.4" stroke="#111" stroke-width="1.15"/>
<line x1="1067.2" y1="1840.6" x2="1084.4" y2="1840.6" stroke="#111" stroke-width="1.15"/>
<line x1="1067.2" y1="2036.4" x2="1084.4" y2="2036.4" stroke="#111" stroke-width="1.15"/>
<line x1="1053.8" y1="2139.0" x2="1053.8" y2="2148.5" stroke="#222" stroke-width="1.2"/>
<text transform="translate(1053.8,2178.7) scale(1.181,1)" font-size="20.3" text-anchor="middle">40%/yr</text>
<rect x="800.6" y="1762.3" width="311.4" height="44.6" fill="#d9d9d9" stroke="#222" stroke-width="1.35"/>
<rect x="800.6" y="1806.9" width="311.4" height="332.1" fill="none" stroke="#222" stroke-width="1.35"/>
<text transform="translate(956.3,1792.5) scale(1.141,1)" font-size="20.9" text-anchor="middle">70% infection/70% disease</text>
<rect x="1140.3" y="2094.2" width="44.0" height="29.8" fill="#ff7f00" stroke="#111" stroke-width="1.1"/>
<line x1="1162.3" y1="2085.9" x2="1162.3" y2="2110.2" stroke="#111" stroke-width="1.15"/>
<line x1="1153.7" y1="2085.9" x2="1170.9" y2="2085.9" stroke="#111" stroke-width="1.15"/>
<line x1="1153.7" y1="2110.2" x2="1170.9" y2="2110.2" stroke="#111" stroke-width="1.15"/>
<rect x="1184.3" y="2085.9" width="44.0" height="38.1" fill="#377eb8" stroke="#111" stroke-width="1.1"/>
<line x1="1206.3" y1="2073.7" x2="1206.3" y2="2106.0" stroke="#111" stroke-width="1.15"/>
<line x1="1197.7" y1="2073.7" x2="1214.9" y2="2073.7" stroke="#111" stroke-width="1.15"/>
<line x1="1197.7" y1="2106.0" x2="1214.9" y2="2106.0" stroke="#111" stroke-width="1.15"/>
<line x1="1184.3" y1="2139.0" x2="1184.3" y2="2148.5" stroke="#222" stroke-width="1.2"/>
<text transform="translate(1184.3,2178.7) scale(1.130,1)" font-size="20.3" text-anchor="middle">2.5%/yr</text>
<rect x="1238.0" y="1983.6" width="44.0" height="140.4" fill="#ff7f00" stroke="#111" stroke-width="1.1"/>
<line x1="1260.0" y1="1933.4" x2="1260.0" y2="2062.7" stroke="#111" stroke-width="1.15"/>
<line x1="1251.4" y1="1933.4" x2="1268.6" y2="1933.4" stroke="#111" stroke-width="1.15"/>
<line x1="1251.4" y1="2062.7" x2="1268.6" y2="2062.7" stroke="#111" stroke-width="1.15"/>
<rect x="1282.0" y="1952.4" width="44.0" height="171.6" fill="#377eb8" stroke="#111" stroke-width="1.1"/>
<line x1="1304.0" y1="1890.4" x2="1304.0" y2="2049.0" stroke="#111" stroke-width="1.15"/>
<line x1="1295.4" y1="1890.4" x2="1312.6" y2="1890.4" stroke="#111" stroke-width="1.15"/>
<line x1="1295.4" y1="2049.0" x2="1312.6" y2="2049.0" stroke="#111" stroke-width="1.15"/>
<line x1="1282.0" y1="2139.0" x2="1282.0" y2="2148.5" stroke="#222" stroke-width="1.2"/>
<text transform="translate(1282.0,2178.7) scale(1.181,1)" font-size="20.3" text-anchor="middle">20%/yr</text>
<rect x="1335.6" y="1935.3" width="44.0" height="188.7" fill="#ff7f00" stroke="#111" stroke-width="1.1"/>
<line x1="1357.6" y1="1865.3" x2="1357.6" y2="2043.7" stroke="#111" stroke-width="1.15"/>
<line x1="1349.0" y1="1865.3" x2="1366.2" y2="1865.3" stroke="#111" stroke-width="1.15"/>
<line x1="1349.0" y1="2043.7" x2="1366.2" y2="2043.7" stroke="#111" stroke-width="1.15"/>
<rect x="1379.6" y="1902.6" width="44.0" height="221.4" fill="#377eb8" stroke="#111" stroke-width="1.1"/>
<line x1="1401.6" y1="1822.0" x2="1401.6" y2="2031.5" stroke="#111" stroke-width="1.15"/>
<line x1="1393.0" y1="1822.0" x2="1410.2" y2="1822.0" stroke="#111" stroke-width="1.15"/>
<line x1="1393.0" y1="2031.5" x2="1410.2" y2="2031.5" stroke="#111" stroke-width="1.15"/>
<line x1="1379.6" y1="2139.0" x2="1379.6" y2="2148.5" stroke="#222" stroke-width="1.2"/>
<text transform="translate(1379.6,2178.7) scale(1.181,1)" font-size="20.3" text-anchor="middle">40%/yr</text>
<rect x="1126.4" y="1762.3" width="311.4" height="44.6" fill="#d9d9d9" stroke="#222" stroke-width="1.35"/>
<rect x="1126.4" y="1806.9" width="311.4" height="332.1" fill="none" stroke="#222" stroke-width="1.35"/>
<text transform="translate(1282.1,1792.5) scale(1.158,1)" font-size="20.9" text-anchor="middle">90% infection/90% disease</text>
<line x1="139.4" y1="2123.9" x2="148.9" y2="2123.9" stroke="#222" stroke-width="1.2"/>
<text transform="translate(126.7,2131.2) scale(1.098,1)" font-size="20.3" text-anchor="end">0</text>
<line x1="139.4" y1="2010.8" x2="148.9" y2="2010.8" stroke="#222" stroke-width="1.2"/>
<text transform="translate(126.7,2018.1) scale(1.206,1)" font-size="20.3" text-anchor="end">10,000</text>
<line x1="139.4" y1="1897.3" x2="148.9" y2="1897.3" stroke="#222" stroke-width="1.2"/>
<text transform="translate(126.7,1904.6) scale(1.243,1)" font-size="20.3" text-anchor="end">20,000</text>
<text transform="translate(24.5,1973.0) rotate(-90) scale(1.045,1)" font-size="26.5" text-anchor="middle">Deaths averted</text>
<text transform="translate(536.3,2226.8) scale(1.088,1)" font-size="26.5">Share of population vaccinated annually</text>
<text transform="translate(1482.2,1931.0) scale(1.074,1)" font-size="26.5">Vaccination delay</text>
<rect x="1491.4" y="1960.1" width="23.4" height="23.0" fill="#ff7f00" stroke="#222" stroke-width="1.1"/>
<rect x="1491.4" y="2001.5" width="23.4" height="23.0" fill="#377eb8" stroke="#222" stroke-width="1.1"/>
<text transform="translate(1529.6,1980.3) scale(1.083,1)" font-size="26.5">160 d to first dose</text>
<text transform="translate(1529.6,2022.0) scale(1.092,1)" font-size="26.5">100 d to first dose</text>
</svg>
</body></html>
